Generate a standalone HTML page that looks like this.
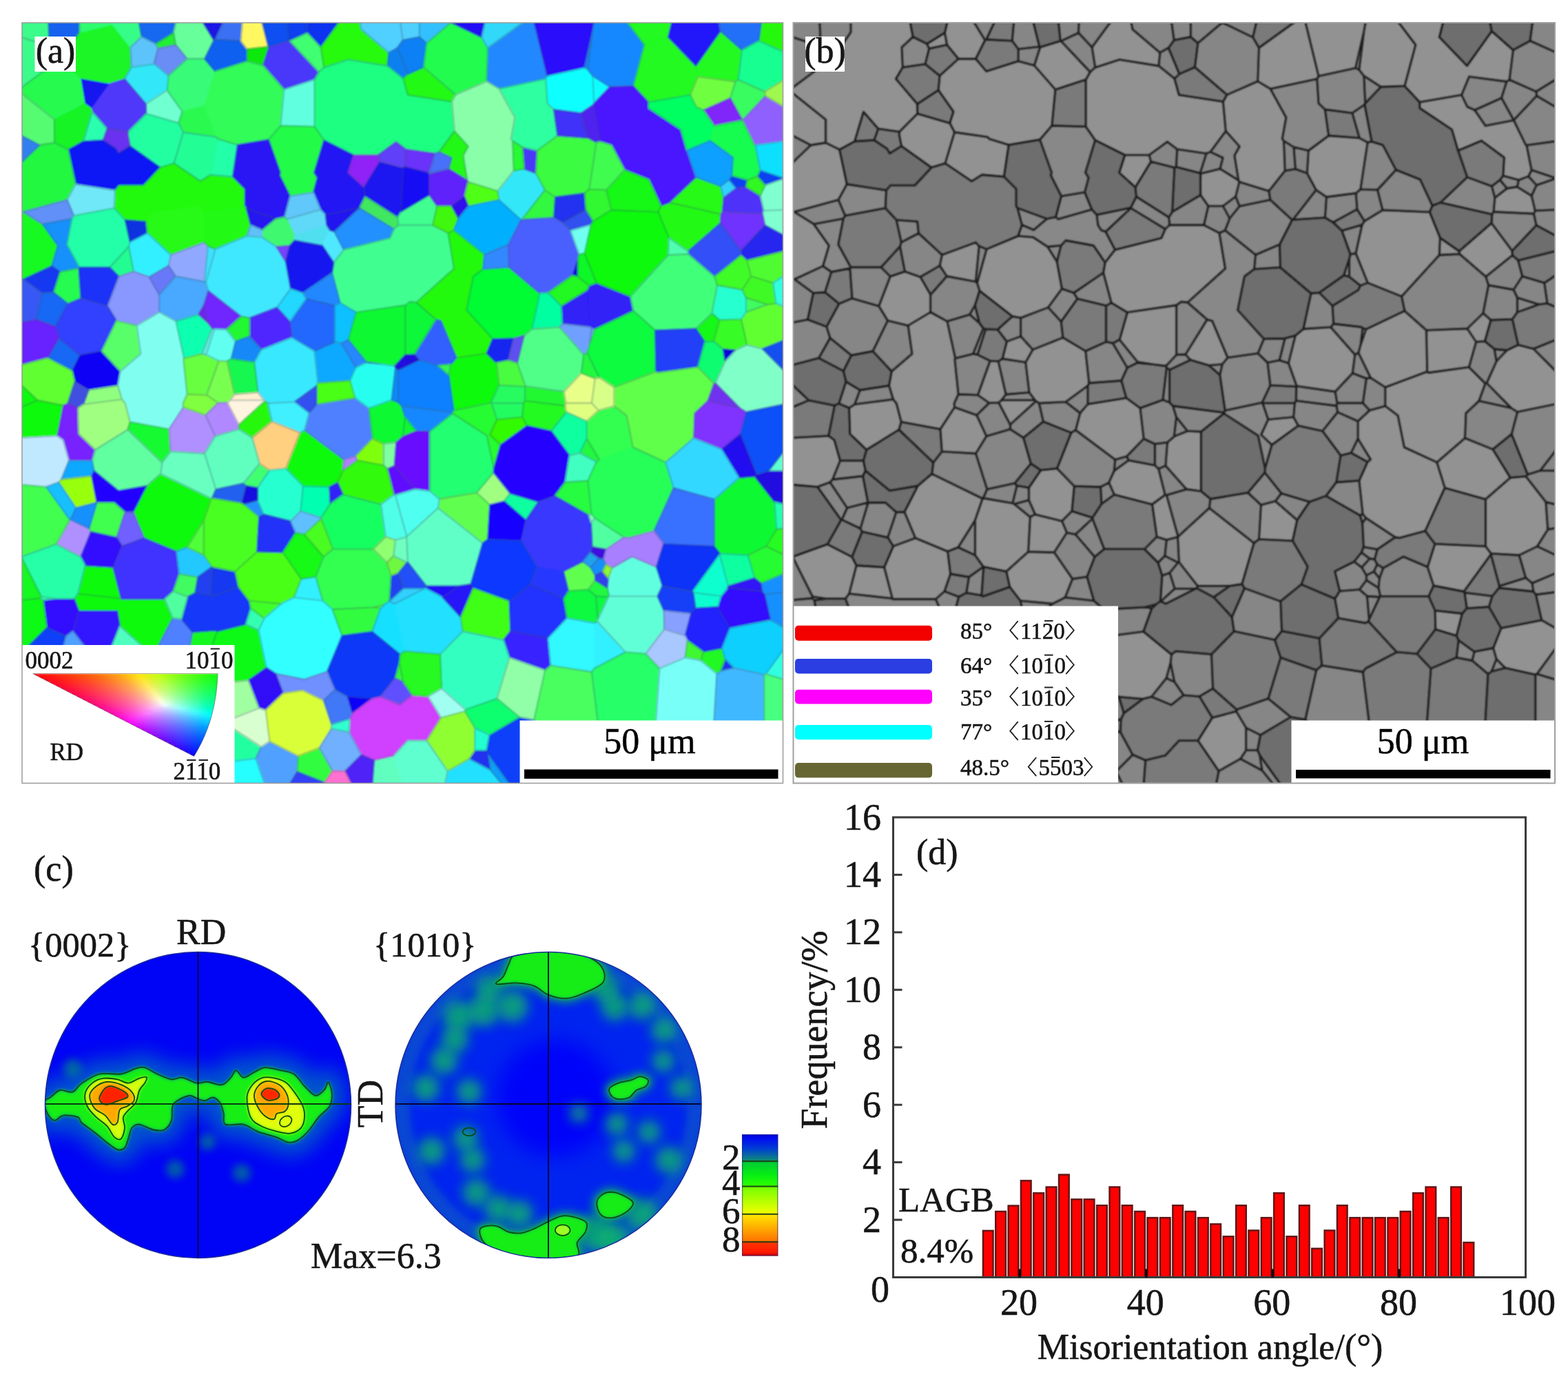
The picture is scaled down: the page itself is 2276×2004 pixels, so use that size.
<!DOCTYPE html>
<html><head><meta charset="utf-8"><title>EBSD figure</title>
<style>
html,body{margin:0;padding:0;background:#fff;}
body{width:2276px;height:2004px;overflow:hidden;}
svg{display:block;filter:blur(0.75px);}
text{font-family:"Liberation Serif","Noto Serif CJK SC",serif;fill:#161616;stroke:#161616;stroke-width:0.55px;}
</style></head><body>
<svg width="2276" height="2004" viewBox="0 0 2276 2004">
<defs>
<clipPath id="clipA"><rect x="32" y="33" width="1104.5" height="1103.5"/></clipPath>
<clipPath id="clipB"><rect x="1151.5" y="33" width="1105.5" height="1103.5"/></clipPath>
<filter id="soft" x="0" y="0" width="100%" height="100%"><feGaussianBlur stdDeviation="1.1"/></filter>
<clipPath id="ipfclip"><path d="M47.5,977.5 L316.0,977.5 Q314.0,1045.5 281.5,1097.5 Z"/></clipPath>
<linearGradient id="ig0" gradientUnits="userSpaceOnUse" x1="48.4" y1="0" x2="322.0" y2="0"><stop offset="0.000" stop-color="#ff0007"/><stop offset="0.111" stop-color="#ff2108"/><stop offset="0.222" stop-color="#ff4309"/><stop offset="0.333" stop-color="#ff6a0a"/><stop offset="0.444" stop-color="#ff9c0b"/><stop offset="0.556" stop-color="#ffe30e"/><stop offset="0.667" stop-color="#c2ff0d"/><stop offset="0.778" stop-color="#78ff0c"/><stop offset="0.889" stop-color="#38ff0b"/><stop offset="1.000" stop-color="#00ff0a"/></linearGradient>
<linearGradient id="ig1" gradientUnits="userSpaceOnUse" x1="56.2" y1="0" x2="322.0" y2="0"><stop offset="0.000" stop-color="#ff0011"/><stop offset="0.111" stop-color="#ff2113"/><stop offset="0.222" stop-color="#ff4316"/><stop offset="0.333" stop-color="#ff6b18"/><stop offset="0.444" stop-color="#ff9e1d"/><stop offset="0.556" stop-color="#ffe522"/><stop offset="0.667" stop-color="#bfff21"/><stop offset="0.778" stop-color="#75ff1d"/><stop offset="0.889" stop-color="#35ff1a"/><stop offset="1.000" stop-color="#00ff18"/></linearGradient>
<linearGradient id="ig2" gradientUnits="userSpaceOnUse" x1="64.0" y1="0" x2="322.0" y2="0"><stop offset="0.000" stop-color="#ff001b"/><stop offset="0.111" stop-color="#ff211e"/><stop offset="0.222" stop-color="#ff4321"/><stop offset="0.333" stop-color="#ff6b26"/><stop offset="0.444" stop-color="#ff9f2c"/><stop offset="0.556" stop-color="#ffe736"/><stop offset="0.667" stop-color="#bdff33"/><stop offset="0.778" stop-color="#73ff2d"/><stop offset="0.889" stop-color="#32ff28"/><stop offset="1.000" stop-color="#00ff25"/></linearGradient>
<linearGradient id="ig3" gradientUnits="userSpaceOnUse" x1="71.8" y1="0" x2="322.0" y2="0"><stop offset="0.000" stop-color="#ff0024"/><stop offset="0.111" stop-color="#ff2128"/><stop offset="0.222" stop-color="#ff432d"/><stop offset="0.333" stop-color="#ff6c33"/><stop offset="0.444" stop-color="#ffa03c"/><stop offset="0.556" stop-color="#ffe949"/><stop offset="0.667" stop-color="#baff45"/><stop offset="0.778" stop-color="#70ff3d"/><stop offset="0.889" stop-color="#2fff36"/><stop offset="1.000" stop-color="#00ff31"/></linearGradient>
<linearGradient id="ig4" gradientUnits="userSpaceOnUse" x1="79.6" y1="0" x2="322.0" y2="0"><stop offset="0.000" stop-color="#ff002e"/><stop offset="0.111" stop-color="#ff2133"/><stop offset="0.222" stop-color="#ff4439"/><stop offset="0.333" stop-color="#ff6d41"/><stop offset="0.444" stop-color="#ffa14c"/><stop offset="0.556" stop-color="#ffec5c"/><stop offset="0.667" stop-color="#b7ff56"/><stop offset="0.778" stop-color="#6dff4c"/><stop offset="0.889" stop-color="#2cff44"/><stop offset="1.000" stop-color="#00ff3e"/></linearGradient>
<linearGradient id="ig5" gradientUnits="userSpaceOnUse" x1="87.4" y1="0" x2="322.0" y2="0"><stop offset="0.000" stop-color="#ff0038"/><stop offset="0.111" stop-color="#ff213e"/><stop offset="0.222" stop-color="#ff4445"/><stop offset="0.333" stop-color="#ff6d4f"/><stop offset="0.444" stop-color="#ffa35c"/><stop offset="0.556" stop-color="#ffef71"/><stop offset="0.667" stop-color="#b4ff68"/><stop offset="0.778" stop-color="#6aff5c"/><stop offset="0.889" stop-color="#29ff52"/><stop offset="1.000" stop-color="#00ff4b"/></linearGradient>
<linearGradient id="ig6" gradientUnits="userSpaceOnUse" x1="95.2" y1="0" x2="322.0" y2="0"><stop offset="0.000" stop-color="#ff0042"/><stop offset="0.111" stop-color="#ff2149"/><stop offset="0.222" stop-color="#ff4552"/><stop offset="0.333" stop-color="#ff6e5d"/><stop offset="0.444" stop-color="#ffa56e"/><stop offset="0.556" stop-color="#fff287"/><stop offset="0.667" stop-color="#b0ff7a"/><stop offset="0.778" stop-color="#66ff6c"/><stop offset="0.889" stop-color="#25ff61"/><stop offset="1.000" stop-color="#00ff58"/></linearGradient>
<linearGradient id="ig7" gradientUnits="userSpaceOnUse" x1="103.0" y1="0" x2="322.0" y2="0"><stop offset="0.000" stop-color="#ff004c"/><stop offset="0.111" stop-color="#ff2155"/><stop offset="0.222" stop-color="#ff455f"/><stop offset="0.333" stop-color="#ff6f6d"/><stop offset="0.444" stop-color="#ffa680"/><stop offset="0.556" stop-color="#fff69e"/><stop offset="0.667" stop-color="#acff8d"/><stop offset="0.778" stop-color="#63ff7c"/><stop offset="0.889" stop-color="#20ff6f"/><stop offset="1.000" stop-color="#00ff65"/></linearGradient>
<linearGradient id="ig8" gradientUnits="userSpaceOnUse" x1="110.8" y1="0" x2="322.0" y2="0"><stop offset="0.000" stop-color="#ff0058"/><stop offset="0.111" stop-color="#ff2261"/><stop offset="0.222" stop-color="#ff466d"/><stop offset="0.333" stop-color="#ff707d"/><stop offset="0.444" stop-color="#ffa894"/><stop offset="0.556" stop-color="#fffab6"/><stop offset="0.667" stop-color="#a8ffa0"/><stop offset="0.778" stop-color="#5fff8d"/><stop offset="0.889" stop-color="#1cff7f"/><stop offset="1.000" stop-color="#00ff73"/></linearGradient>
<linearGradient id="ig9" gradientUnits="userSpaceOnUse" x1="118.6" y1="0" x2="322.0" y2="0"><stop offset="0.000" stop-color="#ff0063"/><stop offset="0.111" stop-color="#ff226e"/><stop offset="0.222" stop-color="#ff467c"/><stop offset="0.333" stop-color="#ff718f"/><stop offset="0.444" stop-color="#ffaba9"/><stop offset="0.556" stop-color="#fffed1"/><stop offset="0.667" stop-color="#a4ffb5"/><stop offset="0.778" stop-color="#5aff9f"/><stop offset="0.889" stop-color="#16ff8f"/><stop offset="1.000" stop-color="#00ff82"/></linearGradient>
<linearGradient id="ig10" gradientUnits="userSpaceOnUse" x1="126.4" y1="0" x2="322.0" y2="0"><stop offset="0.000" stop-color="#ff0070"/><stop offset="0.111" stop-color="#ff227c"/><stop offset="0.222" stop-color="#ff478c"/><stop offset="0.333" stop-color="#ff73a1"/><stop offset="0.444" stop-color="#ffadc0"/><stop offset="0.556" stop-color="#fbffeb"/><stop offset="0.667" stop-color="#9fffca"/><stop offset="0.778" stop-color="#56ffb2"/><stop offset="0.889" stop-color="#10ffa0"/><stop offset="1.000" stop-color="#00ff91"/></linearGradient>
<linearGradient id="ig11" gradientUnits="userSpaceOnUse" x1="134.2" y1="0" x2="322.0" y2="0"><stop offset="0.000" stop-color="#ff007d"/><stop offset="0.111" stop-color="#ff228b"/><stop offset="0.222" stop-color="#ff479d"/><stop offset="0.333" stop-color="#ff74b6"/><stop offset="0.444" stop-color="#ffb0d9"/><stop offset="0.556" stop-color="#f0f9ff"/><stop offset="0.667" stop-color="#9affe1"/><stop offset="0.778" stop-color="#50ffc6"/><stop offset="0.889" stop-color="#09ffb2"/><stop offset="1.000" stop-color="#00ffa1"/></linearGradient>
<linearGradient id="ig12" gradientUnits="userSpaceOnUse" x1="142.0" y1="0" x2="322.0" y2="0"><stop offset="0.000" stop-color="#ff008c"/><stop offset="0.111" stop-color="#ff229c"/><stop offset="0.222" stop-color="#ff48b0"/><stop offset="0.333" stop-color="#ff76cc"/><stop offset="0.444" stop-color="#ffb3f4"/><stop offset="0.556" stop-color="#d3e1ff"/><stop offset="0.667" stop-color="#94fff9"/><stop offset="0.778" stop-color="#4bffdb"/><stop offset="0.889" stop-color="#00ffc5"/><stop offset="1.000" stop-color="#00ffb3"/></linearGradient>
<linearGradient id="ig13" gradientUnits="userSpaceOnUse" x1="149.8" y1="0" x2="322.0" y2="0"><stop offset="0.000" stop-color="#ff009c"/><stop offset="0.111" stop-color="#ff22ae"/><stop offset="0.222" stop-color="#ff49c5"/><stop offset="0.333" stop-color="#ff78e5"/><stop offset="0.444" stop-color="#ecaaff"/><stop offset="0.556" stop-color="#baccff"/><stop offset="0.667" stop-color="#84edff"/><stop offset="0.778" stop-color="#44fff2"/><stop offset="0.889" stop-color="#00ffd9"/><stop offset="1.000" stop-color="#00ffc5"/></linearGradient>
<linearGradient id="ig14" gradientUnits="userSpaceOnUse" x1="157.6" y1="0" x2="322.0" y2="0"><stop offset="0.000" stop-color="#ff00ad"/><stop offset="0.111" stop-color="#ff23c2"/><stop offset="0.222" stop-color="#ff4adc"/><stop offset="0.333" stop-color="#fe79ff"/><stop offset="0.444" stop-color="#d29aff"/><stop offset="0.556" stop-color="#a4b9ff"/><stop offset="0.667" stop-color="#72d8ff"/><stop offset="0.778" stop-color="#3af5ff"/><stop offset="0.889" stop-color="#00ffee"/><stop offset="1.000" stop-color="#00ffd8"/></linearGradient>
<linearGradient id="ig15" gradientUnits="userSpaceOnUse" x1="165.4" y1="0" x2="322.0" y2="0"><stop offset="0.000" stop-color="#ff00c1"/><stop offset="0.111" stop-color="#ff23d8"/><stop offset="0.222" stop-color="#ff4bf6"/><stop offset="0.333" stop-color="#e26eff"/><stop offset="0.444" stop-color="#ba8cff"/><stop offset="0.556" stop-color="#90a9ff"/><stop offset="0.667" stop-color="#62c4ff"/><stop offset="0.778" stop-color="#2edfff"/><stop offset="0.889" stop-color="#00f9ff"/><stop offset="1.000" stop-color="#00ffee"/></linearGradient>
<linearGradient id="ig16" gradientUnits="userSpaceOnUse" x1="173.2" y1="0" x2="322.0" y2="0"><stop offset="0.000" stop-color="#ff00d6"/><stop offset="0.111" stop-color="#ff23f0"/><stop offset="0.222" stop-color="#ed47ff"/><stop offset="0.333" stop-color="#c964ff"/><stop offset="0.444" stop-color="#a580ff"/><stop offset="0.556" stop-color="#7e9aff"/><stop offset="0.667" stop-color="#53b3ff"/><stop offset="0.778" stop-color="#22cbff"/><stop offset="0.889" stop-color="#00e3ff"/><stop offset="1.000" stop-color="#00faff"/></linearGradient>
<linearGradient id="ig17" gradientUnits="userSpaceOnUse" x1="181.0" y1="0" x2="322.0" y2="0"><stop offset="0.000" stop-color="#ff00ef"/><stop offset="0.111" stop-color="#f222ff"/><stop offset="0.222" stop-color="#d340ff"/><stop offset="0.333" stop-color="#b35bff"/><stop offset="0.444" stop-color="#9175ff"/><stop offset="0.556" stop-color="#6d8cff"/><stop offset="0.667" stop-color="#46a3ff"/><stop offset="0.778" stop-color="#17baff"/><stop offset="0.889" stop-color="#00cfff"/><stop offset="1.000" stop-color="#00e4ff"/></linearGradient>
<linearGradient id="ig18" gradientUnits="userSpaceOnUse" x1="188.8" y1="0" x2="322.0" y2="0"><stop offset="0.000" stop-color="#f400ff"/><stop offset="0.111" stop-color="#d91eff"/><stop offset="0.222" stop-color="#bc3aff"/><stop offset="0.333" stop-color="#9e53ff"/><stop offset="0.444" stop-color="#7f6aff"/><stop offset="0.556" stop-color="#5e80ff"/><stop offset="0.667" stop-color="#3995ff"/><stop offset="0.778" stop-color="#0ca9ff"/><stop offset="0.889" stop-color="#00bdff"/><stop offset="1.000" stop-color="#00d0ff"/></linearGradient>
<linearGradient id="ig19" gradientUnits="userSpaceOnUse" x1="196.6" y1="0" x2="322.0" y2="0"><stop offset="0.000" stop-color="#da00ff"/><stop offset="0.111" stop-color="#c11cff"/><stop offset="0.222" stop-color="#a635ff"/><stop offset="0.333" stop-color="#8b4cff"/><stop offset="0.444" stop-color="#6e61ff"/><stop offset="0.556" stop-color="#4f75ff"/><stop offset="0.667" stop-color="#2d88ff"/><stop offset="0.778" stop-color="#009aff"/><stop offset="0.889" stop-color="#00acff"/><stop offset="1.000" stop-color="#00beff"/></linearGradient>
<linearGradient id="ig20" gradientUnits="userSpaceOnUse" x1="204.4" y1="0" x2="322.0" y2="0"><stop offset="0.000" stop-color="#c200ff"/><stop offset="0.111" stop-color="#ab19ff"/><stop offset="0.222" stop-color="#9230ff"/><stop offset="0.333" stop-color="#7945ff"/><stop offset="0.444" stop-color="#5e58ff"/><stop offset="0.556" stop-color="#426aff"/><stop offset="0.667" stop-color="#217cff"/><stop offset="0.778" stop-color="#008dff"/><stop offset="0.889" stop-color="#009dff"/><stop offset="1.000" stop-color="#00adff"/></linearGradient>
<linearGradient id="ig21" gradientUnits="userSpaceOnUse" x1="212.2" y1="0" x2="322.0" y2="0"><stop offset="0.000" stop-color="#ab00ff"/><stop offset="0.111" stop-color="#9616ff"/><stop offset="0.222" stop-color="#802cff"/><stop offset="0.333" stop-color="#683eff"/><stop offset="0.444" stop-color="#5050ff"/><stop offset="0.556" stop-color="#3561ff"/><stop offset="0.667" stop-color="#1571ff"/><stop offset="0.778" stop-color="#0080ff"/><stop offset="0.889" stop-color="#008fff"/><stop offset="1.000" stop-color="#009eff"/></linearGradient>
<linearGradient id="ig22" gradientUnits="userSpaceOnUse" x1="220.0" y1="0" x2="322.0" y2="0"><stop offset="0.000" stop-color="#9600ff"/><stop offset="0.111" stop-color="#8214ff"/><stop offset="0.222" stop-color="#6e27ff"/><stop offset="0.333" stop-color="#5838ff"/><stop offset="0.444" stop-color="#4148ff"/><stop offset="0.556" stop-color="#2858ff"/><stop offset="0.667" stop-color="#0966ff"/><stop offset="0.778" stop-color="#0074ff"/><stop offset="0.889" stop-color="#0082ff"/><stop offset="1.000" stop-color="#008fff"/></linearGradient>
<linearGradient id="ig23" gradientUnits="userSpaceOnUse" x1="227.8" y1="0" x2="322.0" y2="0"><stop offset="0.000" stop-color="#8200ff"/><stop offset="0.111" stop-color="#7011ff"/><stop offset="0.222" stop-color="#5d23ff"/><stop offset="0.333" stop-color="#4933ff"/><stop offset="0.444" stop-color="#3441ff"/><stop offset="0.556" stop-color="#1c4fff"/><stop offset="0.667" stop-color="#005cff"/><stop offset="0.778" stop-color="#0069ff"/><stop offset="0.889" stop-color="#0075ff"/><stop offset="1.000" stop-color="#0081ff"/></linearGradient>
<linearGradient id="ig24" gradientUnits="userSpaceOnUse" x1="235.6" y1="0" x2="322.0" y2="0"><stop offset="0.000" stop-color="#6f00ff"/><stop offset="0.111" stop-color="#5e0fff"/><stop offset="0.222" stop-color="#4d1fff"/><stop offset="0.333" stop-color="#3a2eff"/><stop offset="0.444" stop-color="#263bff"/><stop offset="0.556" stop-color="#0f47ff"/><stop offset="0.667" stop-color="#0053ff"/><stop offset="0.778" stop-color="#005eff"/><stop offset="0.889" stop-color="#006aff"/><stop offset="1.000" stop-color="#0074ff"/></linearGradient>
<linearGradient id="ig25" gradientUnits="userSpaceOnUse" x1="243.4" y1="0" x2="322.0" y2="0"><stop offset="0.000" stop-color="#5c00ff"/><stop offset="0.111" stop-color="#4d0dff"/><stop offset="0.222" stop-color="#3d1cff"/><stop offset="0.333" stop-color="#2c29ff"/><stop offset="0.444" stop-color="#1934ff"/><stop offset="0.556" stop-color="#003fff"/><stop offset="0.667" stop-color="#004aff"/><stop offset="0.778" stop-color="#0054ff"/><stop offset="0.889" stop-color="#005eff"/><stop offset="1.000" stop-color="#0068ff"/></linearGradient>
<linearGradient id="ig26" gradientUnits="userSpaceOnUse" x1="251.2" y1="0" x2="322.0" y2="0"><stop offset="0.000" stop-color="#4a00ff"/><stop offset="0.111" stop-color="#3c0bff"/><stop offset="0.222" stop-color="#2e18ff"/><stop offset="0.333" stop-color="#1d24ff"/><stop offset="0.444" stop-color="#0a2eff"/><stop offset="0.556" stop-color="#0038ff"/><stop offset="0.667" stop-color="#0042ff"/><stop offset="0.778" stop-color="#004bff"/><stop offset="0.889" stop-color="#0054ff"/><stop offset="1.000" stop-color="#005dff"/></linearGradient>
<linearGradient id="ig27" gradientUnits="userSpaceOnUse" x1="259.0" y1="0" x2="322.0" y2="0"><stop offset="0.000" stop-color="#3900ff"/><stop offset="0.111" stop-color="#2c09ff"/><stop offset="0.222" stop-color="#1e15ff"/><stop offset="0.333" stop-color="#0e1fff"/><stop offset="0.444" stop-color="#0028ff"/><stop offset="0.556" stop-color="#0031ff"/><stop offset="0.667" stop-color="#003aff"/><stop offset="0.778" stop-color="#0042ff"/><stop offset="0.889" stop-color="#004aff"/><stop offset="1.000" stop-color="#0052ff"/></linearGradient>
<linearGradient id="ig28" gradientUnits="userSpaceOnUse" x1="266.8" y1="0" x2="322.0" y2="0"><stop offset="0.000" stop-color="#2700ff"/><stop offset="0.111" stop-color="#1b07ff"/><stop offset="0.222" stop-color="#0d12ff"/><stop offset="0.333" stop-color="#001bff"/><stop offset="0.444" stop-color="#0023ff"/><stop offset="0.556" stop-color="#002bff"/><stop offset="0.667" stop-color="#0032ff"/><stop offset="0.778" stop-color="#0039ff"/><stop offset="0.889" stop-color="#0040ff"/><stop offset="1.000" stop-color="#0047ff"/></linearGradient>
<linearGradient id="ig29" gradientUnits="userSpaceOnUse" x1="274.6" y1="0" x2="322.0" y2="0"><stop offset="0.000" stop-color="#1400ff"/><stop offset="0.111" stop-color="#0806ff"/><stop offset="0.222" stop-color="#000fff"/><stop offset="0.333" stop-color="#0016ff"/><stop offset="0.444" stop-color="#001eff"/><stop offset="0.556" stop-color="#0024ff"/><stop offset="0.667" stop-color="#002bff"/><stop offset="0.778" stop-color="#0031ff"/><stop offset="0.889" stop-color="#0037ff"/><stop offset="1.000" stop-color="#003dff"/></linearGradient>
<linearGradient id="ipfbase" gradientUnits="userSpaceOnUse" x1="48" y1="978" x2="316" y2="978">
 <stop offset="0" stop-color="#ff0000"/><stop offset="0.3" stop-color="#ff2020"/><stop offset="0.6" stop-color="#ffb060"/><stop offset="0.75" stop-color="#ffffc0"/><stop offset="1" stop-color="#ffffff"/>
</linearGradient>
<radialGradient id="ipfred" gradientUnits="userSpaceOnUse" cx="48" cy="978" r="200">
 <stop offset="0" stop-color="#ff0000" stop-opacity="1"/><stop offset="0.45" stop-color="#ff0000" stop-opacity="0.9"/><stop offset="1" stop-color="#ff0000" stop-opacity="0"/>
</radialGradient>
<radialGradient id="ipfblue" gradientUnits="userSpaceOnUse" cx="280" cy="1098" r="150">
 <stop offset="0" stop-color="#1000ff" stop-opacity="1"/><stop offset="0.35" stop-color="#2000ff" stop-opacity="0.95"/><stop offset="0.7" stop-color="#c020ff" stop-opacity="0.5"/><stop offset="1" stop-color="#ff00ff" stop-opacity="0"/>
</radialGradient>
<radialGradient id="ipfgreen" gradientUnits="userSpaceOnUse" cx="316" cy="978" r="185">
 <stop offset="0" stop-color="#00ff00" stop-opacity="1"/><stop offset="0.3" stop-color="#20ff20" stop-opacity="0.95"/><stop offset="0.7" stop-color="#c0ff20" stop-opacity="0.5"/><stop offset="1" stop-color="#ffff00" stop-opacity="0"/>
</radialGradient>
<radialGradient id="ipfwhite" gradientUnits="userSpaceOnUse" cx="232" cy="1018" r="40">
 <stop offset="0" stop-color="#ffffff" stop-opacity="0.9"/><stop offset="1" stop-color="#ffffff" stop-opacity="0"/>
</radialGradient>
<linearGradient id="cbar" gradientUnits="userSpaceOnUse" x1="0" y1="1646.2" x2="0" y2="1822.5">
 <stop offset="0" stop-color="#0000d8"/>
 <stop offset="0.04" stop-color="#0010f0"/>
 <stop offset="0.12" stop-color="#0040d0"/>
 <stop offset="0.2212" stop-color="#109070"/>
 <stop offset="0.2213" stop-color="#00c838"/>
 <stop offset="0.34" stop-color="#08f010"/>
 <stop offset="0.4277" stop-color="#30ff00"/>
 <stop offset="0.4278" stop-color="#70ff00"/>
 <stop offset="0.6557" stop-color="#f4ff00"/>
 <stop offset="0.6558" stop-color="#ffe800"/>
 <stop offset="0.8843" stop-color="#ff7000"/>
 <stop offset="0.8844" stop-color="#ff3800"/>
 <stop offset="0.97" stop-color="#ff1800"/>
 <stop offset="1" stop-color="#c00000"/>
</linearGradient>


<clipPath id="pf1clip"><circle cx="287.5" cy="1603.5" r="222"/></clipPath>
<clipPath id="pf2clip"><circle cx="796" cy="1603.5" r="222"/></clipPath>
<filter id="b2" x="-20%" y="-20%" width="140%" height="140%"><feGaussianBlur stdDeviation="1.6"/></filter>
<filter id="b3" x="-20%" y="-20%" width="140%" height="140%"><feGaussianBlur stdDeviation="2.6"/></filter>
<filter id="b6" x="-50%" y="-50%" width="200%" height="200%"><feGaussianBlur stdDeviation="6"/></filter>
<filter id="b9" x="-80%" y="-80%" width="260%" height="260%"><feGaussianBlur stdDeviation="9"/></filter>
<filter id="b14" x="-50%" y="-50%" width="200%" height="200%"><feGaussianBlur stdDeviation="14"/></filter>

</defs>
<rect width="2276" height="2004" fill="#fff"/>
<g clip-path="url(#clipA)">
<rect x="32.0" y="33.0" width="1104.5" height="1103.5" fill="#30e070"/>
<g filter="url(#soft)" stroke-width="1.2" stroke-linejoin="round">
<path d="M26.0,27.0L70.1,27.0L71.7,67.1L26.0,52.5ZM26.0,131.1L26.0,52.5L71.7,67.1L86.4,85.8Z" fill="#3bfb8b" stroke="#3bfb8b"/>
<path d="M70.1,27.0L115.5,27.0L115.5,46.8L88.7,85.9L86.4,85.8L71.7,67.1Z" fill="#1262ee" stroke="#1262ee"/>
<path d="M115.5,46.8L163.2,35.7L189.4,68.8L190.8,97.7L180.9,114.5L157.7,121.9L116.9,114.7L88.7,85.9Z" fill="#1cf528" stroke="#1cf528"/>
<path d="M115.5,27.0L165.3,27.0L163.2,35.7L115.5,46.8Z" fill="#2dfc70" stroke="#2dfc70"/>
<path d="M165.3,27.0L200.7,27.0L205.6,53.5L189.4,68.8L163.2,35.7Z" fill="#35fd88" stroke="#35fd88"/>
<path d="M200.7,27.0L256.7,27.0L251.9,47.7L226.0,63.7L205.6,53.5Z" fill="#1268f0" stroke="#1268f0"/>
<path d="M256.7,27.0L291.1,27.0L310.3,58.4L296.8,85.4L271.7,85.4L255.1,65.1L251.9,47.7Z" fill="#66ff99" stroke="#66ff99"/>
<path d="M255.1,65.1L229.2,70.4L226.0,63.7L251.9,47.7Z" fill="#20f030" stroke="#20f030"/>
<path d="M226.0,63.7L229.2,70.4L223.5,93.0L190.8,97.7L189.4,68.8L205.6,53.5Z" fill="#5cc4fa" stroke="#5cc4fa"/>
<path d="M244.6,109.9L223.5,93.0L229.2,70.4L255.1,65.1L271.7,85.4Z" fill="#6a8cf5" stroke="#6a8cf5"/>
<path d="M242.6,130.8L212.0,150.8L180.9,114.5L190.8,97.7L223.5,93.0L244.6,109.9ZM790.8,275.7L757.4,318.7L756.1,319.1L724.3,290.0L722.3,277.3L745.7,247.8L760.9,245.3L777.8,251.4Z" fill="#30e8f8" stroke="#30e8f8"/>
<path d="M212.0,150.8L242.6,130.8L264.5,161.9L259.2,178.7L212.3,164.9Z" fill="#70ffd0" stroke="#70ffd0"/>
<path d="M186.1,191.2L155.3,186.8L133.9,162.4L132.1,157.1L157.7,121.9L180.9,114.5L212.0,150.8L212.3,164.9Z" fill="#5038fa" stroke="#5038fa"/>
<path d="M157.7,121.9L132.1,157.1L123.0,150.6L116.9,114.7Z" fill="#1414f0" stroke="#1414f0"/>
<path d="M116.9,114.7L123.0,150.6L79.0,173.5L26.0,131.1L26.0,131.1L86.4,85.8L88.7,85.9Z" fill="#25fa50" stroke="#25fa50"/>
<path d="M57.5,210.6L26.0,194.2L26.0,131.1L79.0,173.5L79.0,207.1Z" fill="#55fb70" stroke="#55fb70"/>
<path d="M133.9,162.4L121.1,205.1L99.1,217.2L79.0,207.1L79.0,173.5L123.0,150.6L132.1,157.1Z" fill="#18f428" stroke="#18f428"/>
<path d="M296.6,153.4L264.5,161.9L242.6,130.8L244.6,109.9L271.7,85.4L296.8,85.4L312.2,103.5Z" fill="#38fc78" stroke="#38fc78"/>
<path d="M313.6,198.7L266.0,191.9L259.2,178.7L264.5,161.9L296.6,153.4Z" fill="#2afa50" stroke="#2afa50"/>
<path d="M232.6,243.1L189.0,212.0L185.6,194.9L186.1,191.2L212.3,164.9L259.2,178.7L266.0,191.9L252.5,237.0ZM231.6,1048.0L324.1,1048.0L379.2,1083.7L371.2,1100.7L160.7,1126.0Z" fill="#20ffa0" stroke="#20ffa0"/>
<path d="M317.0,201.8L305.9,253.6L290.9,263.0L252.5,237.0L266.0,191.9L313.6,198.7Z" fill="#20fd95" stroke="#20fd95"/>
<path d="M155.3,186.8L149.4,203.4L121.1,205.1L133.9,162.4Z" fill="#2cffb0" stroke="#2cffb0"/>
<path d="M185.6,194.9L168.1,215.9L149.4,203.4L155.3,186.8L186.1,191.2ZM189.0,212.0L171.9,222.6L168.1,215.9L185.6,194.9Z" fill="#6a30f0" stroke="#6a30f0"/>
<path d="M121.1,205.1L149.4,203.4L168.1,215.9L171.9,222.6L173.1,269.0L166.9,276.1L109.8,267.4L99.1,217.2ZM171.9,222.6L189.0,212.0L232.6,243.1L208.5,269.0L173.1,269.0Z" fill="#0a14f5" stroke="#0a14f5"/>
<path d="M97.5,289.9L33.4,307.5L26.0,306.3L26.0,240.7L57.5,210.6L79.0,207.1L99.1,217.2L109.8,267.4Z" fill="#22f840" stroke="#22f840"/>
<path d="M26.0,240.7L26.0,194.2L57.5,210.6Z" fill="#3080f0" stroke="#3080f0"/>
<path d="M288.7,299.0L219.5,310.2L208.5,269.0L232.6,243.1L252.5,237.0L290.9,263.0ZM208.5,269.0L219.5,310.2L212.1,321.5L181.6,319.2L165.7,302.0L166.9,276.1L173.1,269.0ZM355.5,299.3L295.8,310.4L288.7,299.0L290.9,263.0L305.9,253.6L337.8,256.4L355.5,274.1Z" fill="#20fa10" stroke="#20fa10"/>
<path d="M107.2,313.0L97.5,289.9L109.8,267.4L166.9,276.1L165.7,302.0Z" fill="#70e8f8" stroke="#70e8f8"/>
<path d="M83.8,356.4L75.0,386.1L33.8,405.2L26.0,404.6L26.0,306.3L33.4,307.5L61.7,325.2Z" fill="#18fa20" stroke="#18fa20"/>
<path d="M104.6,317.3L61.7,325.2L33.4,307.5L97.5,289.9L107.2,313.0Z" fill="#6090f8" stroke="#6090f8"/>
<path d="M97.3,354.8L83.8,356.4L61.7,325.2L104.6,317.3ZM87.3,394.6L75.0,386.1L83.8,356.4L97.3,354.8L115.4,387.9L114.3,389.4Z" fill="#1890fa" stroke="#1890fa"/>
<path d="M186.9,357.7L159.4,387.9L115.4,387.9L97.3,354.8L104.6,317.3L107.2,313.0L165.7,302.0L181.6,319.2L188.8,351.6ZM344.7,210.2L337.8,256.4L305.9,253.6L317.0,201.8Z" fill="#20ffa8" stroke="#20ffa8"/>
<path d="M213.9,338.5L188.8,351.6L181.6,319.2L212.1,321.5Z" fill="#1030e0" stroke="#1030e0"/>
<path d="M247.9,369.9L213.9,338.5L212.1,321.5L219.5,310.2L288.7,299.0L295.8,310.4L296.6,351.9ZM1045.9,270.3L1050.4,287.0L1048.5,307.4L1046.4,310.9L971.6,293.9L1010.2,257.1Z" fill="#28fa18" stroke="#28fa18"/>
<path d="M244.6,385.5L216.5,401.9L193.9,393.9L186.9,357.7L188.8,351.6L213.9,338.5L247.9,369.9ZM468.3,871.7L426.6,867.0L437.2,840.1L458.3,837.0ZM862.7,970.0L862.7,904.1L866.8,901.6L907.9,946.3Z" fill="#30f0ff" stroke="#30f0ff"/>
<path d="M186.9,357.7L193.9,393.9L172.7,401.2L159.4,387.9Z" fill="#20fc90" stroke="#20fc90"/>
<path d="M301.7,357.1L296.8,408.8L254.9,400.9L244.6,385.5L247.9,369.9L296.6,351.9Z" fill="#90a8ff" stroke="#90a8ff"/>
<path d="M312.5,361.6L298.9,410.6L296.8,408.8L301.7,357.1Z" fill="#40e0ff" stroke="#40e0ff"/>
<path d="M87.3,394.6L78.0,424.1L61.0,425.3L33.8,405.2L75.0,386.1ZM346.2,851.7L307.0,865.4L305.3,864.0L308.2,822.6L341.3,829.3Z" fill="#1838f0" stroke="#1838f0"/>
<path d="M98.5,440.7L78.0,424.1L87.3,394.6L114.3,389.4L117.4,432.9Z" fill="#28fc50" stroke="#28fc50"/>
<path d="M117.4,432.9L114.3,389.4L115.4,387.9L159.4,387.9L172.7,401.2L156.2,444.3Z" fill="#1a30f8" stroke="#1a30f8"/>
<path d="M156.2,444.3L172.7,401.2L193.9,393.9L216.5,401.9L231.2,427.6L231.2,453.0L198.6,472.5L169.0,465.3Z" fill="#8898ff" stroke="#8898ff"/>
<path d="M254.9,400.9L231.2,427.6L216.5,401.9L244.6,385.5Z" fill="#6878f8" stroke="#6878f8"/>
<path d="M231.2,427.6L254.9,400.9L296.8,408.8L298.9,410.6L302.4,421.9L295.7,443.2L288.1,456.4L255.4,466.3L231.2,453.0Z" fill="#48a8ff" stroke="#48a8ff"/>
<path d="M61.0,425.3L52.9,463.8L26.0,469.0L26.0,404.6L33.8,405.2Z" fill="#3858f5" stroke="#3858f5"/>
<path d="M52.9,463.8L61.0,425.3L78.0,424.1L98.5,440.7L80.3,474.1ZM116.2,515.6L104.8,538.3L69.0,519.6L85.4,490.5Z" fill="#1868f5" stroke="#1868f5"/>
<path d="M169.0,465.3L147.5,509.6L116.2,515.6L85.4,490.5L80.3,474.1L98.5,440.7L117.4,432.9L156.2,444.3Z" fill="#3040ff" stroke="#3040ff"/>
<path d="M85.4,490.5L69.0,519.6L26.0,530.9L26.0,469.0L52.9,463.8L80.3,474.1Z" fill="#6820ff" stroke="#6820ff"/>
<path d="M171.0,559.6L128.8,566.1L108.5,553.9L104.8,538.3L116.2,515.6L147.5,509.6L174.7,538.9Z" fill="#1000f5" stroke="#1000f5"/>
<path d="M198.6,472.5L204.4,513.4L174.7,538.9L147.5,509.6L169.0,465.3Z" fill="#58ff68" stroke="#58ff68"/>
<path d="M255.4,466.3L267.2,520.1L266.3,521.2L204.4,513.4L198.6,472.5L231.2,453.0ZM265.5,585.6L181.8,585.6L177.0,579.5L171.0,559.6L174.7,538.9L204.4,513.4L266.3,521.2L271.6,572.1ZM245.4,622.8L188.7,612.3L181.8,585.6L265.5,585.6L266.0,591.1Z" fill="#80fff0" stroke="#80fff0"/>
<path d="M307.8,476.4L293.0,513.4L267.2,520.1L255.4,466.3L288.1,456.4L302.1,468.8Z" fill="#10ffb0" stroke="#10ffb0"/>
<path d="M295.7,443.2L302.1,468.8L288.1,456.4Z" fill="#7020f0" stroke="#7020f0"/>
<path d="M54.5,580.9L26.0,554.2L26.0,530.9L69.0,519.6L104.8,538.3L108.5,553.9L98.2,585.6L92.0,588.4ZM1142.5,447.2L1142.5,491.7L1106.4,506.2L1084.2,500.5L1075.8,463.3L1082.9,453.1L1114.2,441.7L1126.5,440.3Z" fill="#60ff30" stroke="#60ff30"/>
<path d="M54.5,580.9L26.0,592.9L26.0,554.2ZM26.0,635.6L26.0,592.9L54.5,580.9L92.0,588.4L83.2,632.5ZM295.8,755.2L271.3,794.3L256.1,800.3L209.2,780.8L193.4,742.9L212.7,705.1L233.2,687.6L306.7,723.5ZM175.8,868.5L113.1,861.5L123.6,820.6L164.0,823.2ZM113.1,861.5L175.8,868.5L176.4,869.4L170.3,886.5L114.4,886.5L107.7,868.7ZM222.2,951.9L173.9,908.4L170.3,886.5L176.4,869.4L238.7,869.4L250.7,896.9ZM499.2,667.0L497.8,683.1L490.1,700.3L478.1,706.6L439.8,705.5L414.9,679.8L435.4,627.9L441.9,624.1ZM720.4,526.3L724.4,559.0L712.5,584.2L658.7,595.8L651.2,544.1L654.7,528.5L662.5,519.0L706.4,512.8Z" fill="#10fa10" stroke="#10fa10"/>
<path d="M177.0,579.5L121.1,586.8L128.8,566.1L171.0,559.6Z" fill="#90ff80" stroke="#90ff80"/>
<path d="M317.6,523.7L299.9,573.2L271.6,572.1L266.3,521.2L267.2,520.1L293.0,513.4L299.4,514.6Z" fill="#68ff40" stroke="#68ff40"/>
<path d="M311.1,477.6L299.4,514.6L293.0,513.4L307.8,476.4Z" fill="#60f0e0" stroke="#60f0e0"/>
<path d="M128.8,566.1L121.1,586.8L113.1,592.0L98.2,585.6L108.5,553.9Z" fill="#4050e0" stroke="#4050e0"/>
<path d="M114.2,629.6L91.5,638.5L83.2,632.5L92.0,588.4L98.2,585.6L113.1,592.0ZM133.8,668.5L100.0,668.5L91.5,638.5L114.2,629.6L138.3,652.7Z" fill="#7820ff" stroke="#7820ff"/>
<path d="M138.3,652.7L114.2,629.6L113.1,592.0L121.1,586.8L177.0,579.5L181.8,585.6L188.7,612.3L185.3,623.5ZM740.4,715.9L731.7,727.3L710.9,732.7L691.9,715.0L716.4,685.8Z" fill="#a0ff80" stroke="#a0ff80"/>
<path d="M235.3,671.3L185.3,623.5L188.7,612.3L245.4,622.8L247.7,655.2Z" fill="#18fa30" stroke="#18fa30"/>
<path d="M298.2,602.4L312.3,633.0L296.9,658.1L247.7,655.2L245.4,622.8L266.0,591.1ZM102.4,754.1L129.4,767.0L131.9,771.6L117.2,808.2L81.6,789.8L101.4,754.5Z" fill="#b090ff" stroke="#b090ff"/>
<path d="M316.4,584.7L298.2,602.4L266.0,591.1L265.5,585.6L271.6,572.1L299.9,573.2Z" fill="#80ff40" stroke="#80ff40"/>
<path d="M26.0,703.0L26.0,635.6L83.2,632.5L91.5,638.5L100.0,668.5L88.9,695.9L85.3,699.8L67.1,706.5Z" fill="#c0e8ff" stroke="#c0e8ff"/>
<path d="M212.7,705.1L171.9,712.0L136.7,683.1L133.8,668.5L138.3,652.7L185.3,623.5L235.3,671.3L233.2,687.6Z" fill="#60ffa0" stroke="#60ffa0"/>
<path d="M247.7,655.2L296.9,658.1L313.3,710.1L307.6,722.9L306.7,723.5L233.2,687.6L235.3,671.3Z" fill="#68ffc0" stroke="#68ffc0"/>
<path d="M133.0,690.9L88.9,695.9L100.0,668.5L133.8,668.5L136.7,683.1ZM495.8,498.1L516.8,533.6L508.2,552.4L461.3,555.9L456.2,509.5L486.0,496.1Z" fill="#10a8ff" stroke="#10a8ff"/>
<path d="M110.2,737.1L85.3,699.8L88.9,695.9L133.0,690.9L140.4,729.2Z" fill="#98ff10" stroke="#98ff10"/>
<path d="M171.9,712.0L165.8,729.4L140.6,729.4L140.4,729.2L133.0,690.9L136.7,683.1ZM193.4,742.9L181.4,743.2L165.8,729.4L171.9,712.0L212.7,705.1Z" fill="#2000ff" stroke="#2000ff"/>
<path d="M26.0,807.4L26.0,703.0L67.1,706.5L101.4,754.5L81.6,789.8L31.0,808.0ZM181.4,743.2L169.2,779.9L131.9,771.6L129.4,767.0L140.6,729.4L165.8,729.4Z" fill="#40ff50" stroke="#40ff50"/>
<path d="M101.4,754.5L67.1,706.5L85.3,699.8L110.2,737.1L102.4,754.1Z" fill="#18c0ff" stroke="#18c0ff"/>
<path d="M140.6,729.4L129.4,767.0L102.4,754.1L110.2,737.1L140.4,729.2ZM1142.5,830.2L1142.5,858.8L1109.9,862.9L1106.3,858.4L1104.5,846.2ZM1142.5,858.8L1142.5,913.8L1118.2,899.9L1109.9,862.9Z" fill="#1890ff" stroke="#1890ff"/>
<path d="M177.2,792.6L169.2,779.9L181.4,743.2L193.4,742.9L209.2,780.8Z" fill="#7060ff" stroke="#7060ff"/>
<path d="M117.2,808.2L131.9,771.6L169.2,779.9L177.2,792.6L164.0,823.2L123.6,820.6ZM95.8,923.3L67.9,910.9L62.7,871.0L79.2,868.7L107.7,868.7L114.4,886.5L105.7,915.8ZM1056.3,853.1L1106.3,858.4L1109.9,862.9L1118.2,899.9L1059.5,911.6L1041.7,880.6L1046.6,865.0Z" fill="#3010ff" stroke="#3010ff"/>
<path d="M260.1,832.9L251.4,858.1L238.7,869.4L176.4,869.4L175.8,868.5L164.0,823.2L177.2,792.6L209.2,780.8L256.1,800.3Z" fill="#4030ff" stroke="#4030ff"/>
<path d="M79.2,868.7L60.0,865.8L31.0,808.0L81.6,789.8L117.2,808.2L123.6,820.6L113.1,861.5L107.7,868.7Z" fill="#28ffa8" stroke="#28ffa8"/>
<path d="M60.0,865.8L59.2,868.1L26.0,871.2L26.0,807.4L31.0,808.0ZM261.5,1013.6L279.4,917.3L312.9,914.8L314.9,916.3L288.5,995.3Z" fill="#18f820" stroke="#18f820"/>
<path d="M307.9,822.5L287.0,837.4L260.1,832.9L256.1,800.3L271.3,794.3L295.8,805.6Z" fill="#20c8ff" stroke="#20c8ff"/>
<path d="M295.8,755.2L295.8,805.6L271.3,794.3Z" fill="#50ff38" stroke="#50ff38"/>
<path d="M287.0,837.4L283.2,860.3L272.2,866.0L251.4,858.1L260.1,832.9ZM1082.9,432.1L1114.2,441.7L1082.9,453.1Z" fill="#40fc60" stroke="#40fc60"/>
<path d="M308.2,822.6L305.3,864.0L283.2,860.3L287.0,837.4L307.9,822.5ZM578.4,831.3L585.7,854.3L565.5,872.6L564.9,872.5L567.4,835.3Z" fill="#2040f0" stroke="#2040f0"/>
<path d="M67.9,910.9L26.0,952.9L26.0,871.2L59.2,868.1L62.7,871.0ZM288.5,995.3L314.9,916.3L356.6,905.9L375.5,914.7L386.7,968.8L360.4,987.3Z" fill="#10fa18" stroke="#10fa18"/>
<path d="M39.0,1142.5L26.0,1142.5L26.0,952.9L67.9,910.9L95.8,923.3ZM862.8,1142.5L742.4,1142.5L709.1,1095.9L705.9,1088.7L710.0,1066.6L754.0,1040.5L775.2,1044.4Z" fill="#1040f8" stroke="#1040f8"/>
<path d="M148.8,971.2L105.7,915.8L114.4,886.5L170.3,886.5L173.9,908.4Z" fill="#3018ff" stroke="#3018ff"/>
<path d="M155.5,1130.7L148.8,971.2L173.9,908.4L222.2,951.9L234.3,1042.6L231.6,1048.0L160.7,1126.0Z" fill="#50ffc0" stroke="#50ffc0"/>
<path d="M146.5,1142.5L39.0,1142.5L95.8,923.3L105.7,915.8L148.8,971.2L155.5,1130.7ZM432.8,1096.9L431.5,1119.7L417.6,1142.5L385.6,1142.5L371.2,1100.7L379.2,1083.7L391.4,1075.7Z" fill="#50a0ff" stroke="#50a0ff"/>
<path d="M222.2,951.9L250.7,896.9L263.4,898.4L279.4,917.3L261.5,1013.6L234.3,1042.6ZM516.1,662.2L499.2,667.0L441.9,624.1L448.3,599.4L459.5,586.5L515.4,577.5L535.5,592.2L540.7,636.7Z" fill="#5080ff" stroke="#5080ff"/>
<path d="M263.4,898.4L272.2,866.0L283.2,860.3L305.3,864.0L307.0,865.4L312.9,914.8L279.4,917.3ZM312.9,914.8L307.0,865.4L346.2,851.7L361.7,871.8L364.0,882.7L356.6,905.9L314.9,916.3Z" fill="#1838f8" stroke="#1838f8"/>
<path d="M251.4,858.1L272.2,866.0L263.4,898.4L250.7,896.9L238.7,869.4ZM905.7,779.6L879.8,797.2L859.8,793.7L858.1,758.8L863.5,751.8Z" fill="#50ffa0" stroke="#50ffa0"/>
<path d="M60.0,865.8L79.2,868.7L62.7,871.0L59.2,868.1ZM356.6,905.9L364.0,882.7L383.6,897.4L375.5,914.7Z" fill="#30ffb0" stroke="#30ffb0"/>
<path d="M291.1,27.0L326.4,27.0L312.1,57.4L310.3,58.4Z" fill="#1a14e6" stroke="#1a14e6"/>
<path d="M326.4,27.0L352.5,27.0L349.7,59.3L312.1,57.4Z" fill="#3a70f5" stroke="#3a70f5"/>
<path d="M296.8,85.4L310.3,58.4L312.1,57.4L349.7,59.3L358.6,71.2L358.6,88.7L312.2,103.5Z" fill="#1060f0" stroke="#1060f0"/>
<path d="M352.5,27.0L379.1,27.0L389.3,67.7L358.6,71.2L349.7,59.3Z" fill="#fff860" stroke="#fff860"/>
<path d="M358.6,88.7L358.6,71.2L389.3,67.7L390.3,68.5L381.8,95.0Z" fill="#10e810" stroke="#10e810"/>
<path d="M379.1,27.0L416.4,27.0L419.7,59.4L390.3,68.5L389.3,67.7Z" fill="#1050f0" stroke="#1050f0"/>
<path d="M416.4,27.0L446.8,27.0L446.0,47.7L420.6,59.6L419.7,59.4ZM1085.0,261.3L1082.7,271.1L1068.1,273.4L1057.7,261.2L1062.3,255.0ZM1103.6,246.8L1139.4,258.7L1110.8,268.7L1099.1,255.9Z" fill="#1040f0" stroke="#1040f0"/>
<path d="M446.8,27.0L496.1,27.0L465.6,68.6L446.0,47.7Z" fill="#1030f0" stroke="#1030f0"/>
<path d="M420.6,59.6L462.9,104.5L456.6,115.6L412.4,130.0L381.8,95.0L390.3,68.5L419.7,59.4ZM777.8,251.4L760.9,245.3L758.4,213.5L779.8,218.6Z" fill="#4838fa" stroke="#4838fa"/>
<path d="M462.9,104.5L420.6,59.6L446.0,47.7L465.6,68.6L470.2,97.9ZM373.9,707.8L356.6,704.8L353.4,701.3L376.8,672.7L391.3,682.3Z" fill="#40ff70" stroke="#40ff70"/>
<path d="M496.1,27.0L521.6,27.0L524.4,42.4L505.5,86.5L470.2,97.9L465.6,68.6ZM524.4,42.4L564.3,76.4L562.4,95.6L505.5,86.5Z" fill="#28fa10" stroke="#28fa10"/>
<path d="M521.6,27.0L580.3,27.0L584.7,58.2L576.6,69.4L564.3,76.4L524.4,42.4ZM580.3,27.0L608.8,27.0L608.8,53.6L584.7,58.2Z" fill="#50d0ff" stroke="#50d0ff"/>
<path d="M576.6,69.4L592.4,107.4L585.3,114.1L562.4,95.6L564.3,76.4Z" fill="#1080f0" stroke="#1080f0"/>
<path d="M313.6,198.7L296.6,153.4L312.2,103.5L358.6,88.7L381.8,95.0L412.4,130.0L407.4,182.4L389.9,202.6L344.7,210.2L317.0,201.8Z" fill="#30fc58" stroke="#30fc58"/>
<path d="M456.6,183.7L407.4,182.4L412.4,130.0L456.6,115.6ZM884.2,865.2L881.4,853.1L882.9,839.1L888.3,824.3L917.5,807.8L952.7,822.8L961.4,849.9L954.3,865.2Z" fill="#60ffe0" stroke="#60ffe0"/>
<path d="M505.5,86.5L562.4,95.6L585.3,114.1L591.9,137.8L574.9,205.7L548.5,225.0L513.3,225.0L470.2,203.4L456.6,183.7L456.6,115.6L462.9,104.5L470.2,97.9ZM591.9,137.8L655.9,147.5L659.7,190.2L637.4,220.4L631.6,222.7L589.1,216.5L574.9,205.7Z" fill="#1cff80" stroke="#1cff80"/>
<path d="M470.2,203.4L456.0,250.4L407.0,250.4L389.9,202.6L407.4,182.4L456.6,183.7ZM455.0,279.0L421.0,284.7L405.7,254.1L407.0,250.4L456.0,250.4L460.6,258.0Z" fill="#22fc48" stroke="#22fc48"/>
<path d="M405.7,254.1L355.5,274.1L337.8,256.4L344.7,210.2L389.9,202.6L407.0,250.4ZM400.2,317.6L357.4,301.9L355.5,299.3L355.5,274.1L405.7,254.1L421.0,284.7L413.0,314.9Z" fill="#2a14f5" stroke="#2a14f5"/>
<path d="M513.3,225.0L505.1,250.6L460.6,258.0L456.0,250.4L470.2,203.4ZM505.1,250.6L528.5,271.8L529.9,285.3L521.8,301.5L472.5,311.8L465.4,304.1L455.0,279.0L460.6,258.0Z" fill="#2414f5" stroke="#2414f5"/>
<path d="M551.2,234.5L528.5,271.8L505.1,250.6L513.3,225.0L548.5,225.0Z" fill="#9020f8" stroke="#9020f8"/>
<path d="M585.3,243.3L582.1,307.3L577.2,315.4L529.9,285.3L528.5,271.8L551.2,234.5Z" fill="#1a14f0" stroke="#1a14f0"/>
<path d="M589.1,216.5L587.8,242.2L585.3,243.3L551.2,234.5L548.5,225.0L574.9,205.7Z" fill="#6040f8" stroke="#6040f8"/>
<path d="M465.4,304.1L416.5,318.1L413.0,314.9L421.0,284.7L455.0,279.0Z" fill="#60c8fa" stroke="#60c8fa"/>
<path d="M529.9,285.3L577.2,315.4L578.2,326.6L571.9,332.4L521.9,302.0L521.8,301.5Z" fill="#40e860" stroke="#40e860"/>
<path d="M363.9,326.3L358.3,342.5L312.5,361.6L301.7,357.1L296.6,351.9L295.8,310.4L355.5,299.3L357.4,301.9ZM655.9,147.5L591.9,137.8L585.3,114.1L592.4,107.4L614.9,97.5L661.4,137.6ZM971.6,293.9L1046.4,310.9L1045.5,323.8L998.6,364.6L970.8,345.1L955.7,307.7L959.6,298.5Z" fill="#20fa18" stroke="#20fa18"/>
<path d="M380.9,333.7L363.9,326.3L357.4,301.9L400.2,317.6Z" fill="#2818f0" stroke="#2818f0"/>
<path d="M416.5,318.1L465.4,304.1L472.5,311.8L474.2,326.5L427.7,342.0Z" fill="#60d8f8" stroke="#60d8f8"/>
<path d="M420.6,356.3L401.1,358.1L379.9,344.2L380.9,333.7L400.2,317.6L413.0,314.9L416.5,318.1L427.7,342.0L427.5,348.9Z" fill="#40f870" stroke="#40f870"/>
<path d="M427.7,342.0L474.2,326.5L479.0,334.1L467.9,356.4L427.5,348.9Z" fill="#50e0f0" stroke="#50e0f0"/>
<path d="M467.9,356.4L479.0,334.1L485.4,336.3L499.0,362.4L484.6,381.0Z" fill="#50e8ff" stroke="#50e8ff"/>
<path d="M358.3,342.5L363.9,326.3L380.9,333.7L379.9,344.2Z" fill="#60c0f8" stroke="#60c0f8"/>
<path d="M521.9,302.0L485.4,336.3L479.0,334.1L474.2,326.5L472.5,311.8L521.8,301.5Z" fill="#2018f0" stroke="#2018f0"/>
<path d="M499.0,362.4L485.4,336.3L521.9,302.0L571.9,332.4L566.3,345.5ZM352.9,731.5L373.9,725.7L383.1,746.4L375.8,750.2Z" fill="#2090ff" stroke="#2090ff"/>
<path d="M493.7,439.4L482.1,395.8L484.6,381.0L499.0,362.4L566.3,345.5L595.1,437.9L588.2,442.9L516.9,453.3ZM577.2,315.4L582.1,307.3L623.1,283.1L634.4,299.0L628.0,326.6L578.2,326.6ZM650.4,338.2L659.0,389.8L604.4,438.9L595.1,437.9L566.3,345.5L571.9,332.4L578.2,326.6L628.0,326.6Z" fill="#40ff90" stroke="#40ff90"/>
<path d="M401.1,358.1L414.7,379.7L421.9,419.0L402.0,446.1L362.2,461.3L350.0,459.1L302.4,421.9L298.9,410.6L312.5,361.6L358.3,342.5L379.9,344.2Z" fill="#40e8ff" stroke="#40e8ff"/>
<path d="M401.1,358.1L420.6,356.3L414.7,379.7Z" fill="#7840ff" stroke="#7840ff"/>
<path d="M482.1,395.8L439.2,425.1L421.9,419.0L414.7,379.7L420.6,356.3L427.5,348.9L467.9,356.4L484.6,381.0Z" fill="#1818f0" stroke="#1818f0"/>
<path d="M493.7,439.4L486.0,443.6L444.4,433.5L439.2,425.1L482.1,395.8ZM766.7,27.0L774.1,27.0L794.5,110.5L792.2,114.5L724.4,128.9L706.2,118.0L707.9,69.4Z" fill="#2088ff" stroke="#2088ff"/>
<path d="M420.7,466.7L444.4,433.5L486.0,443.6L486.0,496.1L456.2,509.5L423.4,489.9Z" fill="#2068ff" stroke="#2068ff"/>
<path d="M439.2,425.1L444.4,433.5L420.7,466.7L402.0,446.1L421.9,419.0Z" fill="#20d8ff" stroke="#20d8ff"/>
<path d="M516.9,453.3L505.6,493.0L495.8,498.1L486.0,496.1L486.0,443.6L493.7,439.4Z" fill="#10c0ff" stroke="#10c0ff"/>
<path d="M588.2,442.9L588.2,514.8L572.9,531.1L554.0,528.7L531.7,525.3L505.6,493.0L516.9,453.3ZM583.0,589.1L588.0,605.4L584.8,633.4L575.0,642.0L556.8,644.3L540.7,636.7L535.5,592.2L568.5,580.3L578.2,584.1ZM1095.3,691.3L1124.3,728.4L1127.2,768.4L1111.9,792.8L1085.6,805.6L1044.8,803.2L1036.8,792.8L1036.8,724.6L1072.8,693.3Z" fill="#10fa30" stroke="#10fa30"/>
<path d="M350.0,459.1L328.6,478.2L311.1,477.6L307.8,476.4L302.1,468.8L295.7,443.2L302.4,421.9Z" fill="#7028ff" stroke="#7028ff"/>
<path d="M379.6,507.4L362.2,488.1L362.2,461.3L402.0,446.1L420.7,466.7L423.4,489.9Z" fill="#5028ff" stroke="#5028ff"/>
<path d="M362.2,488.1L341.9,495.6L328.6,478.2L350.0,459.1L362.2,461.3ZM820.4,588.9L761.7,581.5L762.3,561.0L762.7,560.2L818.6,568.4L821.4,584.9Z" fill="#20f830" stroke="#20f830"/>
<path d="M299.4,514.6L311.1,477.6L328.6,478.2L341.9,495.6L335.6,520.6L329.6,524.3L317.6,523.7Z" fill="#60fff0" stroke="#60fff0"/>
<path d="M369.2,525.8L335.6,520.6L341.9,495.6L362.2,488.1L379.6,507.4Z" fill="#1888f8" stroke="#1888f8"/>
<path d="M459.5,559.8L427.4,583.2L388.8,585.1L384.1,582.2L382.8,580.8L374.5,569.5L369.2,525.8L379.6,507.4L423.4,489.9L456.2,509.5L461.3,555.9Z" fill="#38e8ff" stroke="#38e8ff"/>
<path d="M531.7,525.3L531.1,526.5L516.8,533.6L495.8,498.1L505.6,493.0Z" fill="#2888ff" stroke="#2888ff"/>
<path d="M554.0,528.7L531.1,526.5L531.7,525.3ZM875.8,811.6L868.7,810.6L856.7,801.7L859.8,793.7L879.8,797.2Z" fill="#4010e0" stroke="#4010e0"/>
<path d="M516.8,533.6L531.1,526.5L554.0,528.7L572.9,531.1L573.9,533.6L568.5,580.3L535.5,592.2L515.4,577.5L508.2,552.4Z" fill="#28fff0" stroke="#28fff0"/>
<path d="M578.2,536.6L578.2,584.1L568.5,580.3L573.9,533.6Z" fill="#1088f8" stroke="#1088f8"/>
<path d="M459.5,586.5L459.5,559.8L461.3,555.9L508.2,552.4L515.4,577.5ZM408.4,876.1L361.7,871.8L346.2,851.7L341.3,829.3L373.1,800.6L410.7,801.6L437.2,840.1L426.6,867.0Z" fill="#48ff18" stroke="#48ff18"/>
<path d="M448.3,599.4L427.4,583.2L459.5,559.8L459.5,586.5ZM857.6,326.3L828.3,334.7L815.6,322.7L850.4,303.7L861.1,320.9Z" fill="#3050f0" stroke="#3050f0"/>
<path d="M374.5,569.5L340.6,572.4L329.6,524.3L335.6,520.6L369.2,525.8Z" fill="#18f850" stroke="#18f850"/>
<path d="M299.9,573.2L317.6,523.7L329.6,524.3L340.6,572.4L334.1,580.8L330.2,584.3L316.4,584.7Z" fill="#78ff50" stroke="#78ff50"/>
<path d="M382.8,580.8L334.1,580.8L340.6,572.4L374.5,569.5Z" fill="#fff0d0" stroke="#fff0d0"/>
<path d="M312.3,633.0L298.2,602.4L316.4,584.7L330.2,584.3L346.8,616.1L347.0,622.8Z" fill="#b088ff" stroke="#b088ff"/>
<path d="M334.1,580.8L382.8,580.8L384.1,582.2L346.8,616.1L330.2,584.3Z" fill="#fff4e0" stroke="#fff4e0"/>
<path d="M346.8,616.1L384.1,582.2L388.8,585.1L394.8,611.7L366.1,635.3L347.0,622.8ZM1105.8,27.0L1142.5,27.0L1142.5,77.5L1101.4,59.3Z" fill="#28f810" stroke="#28f810"/>
<path d="M394.8,611.7L388.8,585.1L427.4,583.2L448.3,599.4L441.9,624.1L435.4,627.9Z" fill="#40f0ff" stroke="#40f0ff"/>
<path d="M391.3,682.3L376.8,672.7L366.1,635.3L394.8,611.7L435.4,627.9L414.9,679.8Z" fill="#ffd080" stroke="#ffd080"/>
<path d="M376.8,672.7L353.4,701.3L313.3,710.1L296.9,658.1L312.3,633.0L347.0,622.8L366.1,635.3ZM585.7,1142.5L540.3,1142.5L543.2,1103.2L572.0,1096.3Z" fill="#60ffc0" stroke="#60ffc0"/>
<path d="M556.8,644.3L556.8,675.3L518.6,668.0L516.1,662.2L540.7,636.7Z" fill="#80ff10" stroke="#80ff10"/>
<path d="M575.0,642.0L572.4,675.9L562.2,680.4L556.8,675.3L556.8,644.3Z" fill="#80ffa0" stroke="#80ffa0"/>
<path d="M516.1,662.2L518.6,668.0L497.8,683.1L499.2,667.0Z" fill="#b080ff" stroke="#b080ff"/>
<path d="M571.7,718.1L562.2,680.4L572.4,675.9L602.6,709.9L573.8,718.5Z" fill="#6010ff" stroke="#6010ff"/>
<path d="M497.9,717.8L490.1,700.3L497.8,683.1L518.6,668.0L556.8,675.3L562.2,680.4L571.7,718.1L553.0,731.9Z" fill="#30fa08" stroke="#30fa08"/>
<path d="M383.1,746.4L373.9,725.7L373.9,707.8L391.3,682.3L414.9,679.8L439.8,705.5L436.4,741.7L422.0,756.2ZM1082.9,432.1L1082.9,453.1L1075.8,463.3L1044.6,464.4L1033.3,454.6L1041.1,413.9L1077.5,420.4Z" fill="#28ffd0" stroke="#28ffd0"/>
<path d="M478.1,706.6L479.4,731.3L466.3,751.2L436.4,741.7L439.8,705.5Z" fill="#00ffb0" stroke="#00ffb0"/>
<path d="M479.4,731.3L478.1,706.6L490.1,700.3L497.9,717.8ZM814.6,443.9L852.0,421.0L856.7,474.6L816.2,469.9ZM919.4,451.2L863.3,477.8L858.5,476.2L856.7,474.6L852.0,421.0L855.2,414.4L865.8,410.4L915.0,430.1Z" fill="#3020f8" stroke="#3020f8"/>
<path d="M373.9,725.7L352.9,731.5L350.3,730.2L356.6,704.8L373.9,707.8Z" fill="#1808e0" stroke="#1808e0"/>
<path d="M356.6,704.8L350.3,730.2L307.6,722.9L313.3,710.1L353.4,701.3Z" fill="#2060f0" stroke="#2060f0"/>
<path d="M295.8,805.6L295.8,755.2L306.7,723.5L307.6,722.9L350.3,730.2L352.9,731.5L375.8,750.2L373.1,800.6L341.3,829.3L308.2,822.6L307.9,822.5Z" fill="#48ff20" stroke="#48ff20"/>
<path d="M375.8,750.2L383.1,746.4L422.0,756.2L429.1,772.9L410.7,801.6L373.1,800.6Z" fill="#2030f8" stroke="#2030f8"/>
<path d="M483.3,796.8L466.2,752.6L466.3,751.2L479.4,731.3L497.9,717.8L553.0,731.9L559.7,778.9L541.8,796.8Z" fill="#18ff60" stroke="#18ff60"/>
<path d="M573.8,718.5L590.5,778.7L590.1,779.2L573.8,783.6L559.7,778.9L553.0,731.9L571.7,718.1Z" fill="#50ffe8" stroke="#50ffe8"/>
<path d="M466.2,752.6L441.6,775.5L429.1,772.9L422.0,756.2L436.4,741.7L466.3,751.2Z" fill="#60c0ff" stroke="#60c0ff"/>
<path d="M469.5,808.1L441.6,775.5L466.2,752.6L483.3,796.8Z" fill="#48fc20" stroke="#48fc20"/>
<path d="M410.7,801.6L429.1,772.9L441.6,775.5L469.5,808.1L458.3,837.0L437.2,840.1Z" fill="#18fa18" stroke="#18fa18"/>
<path d="M558.4,877.0L542.5,881.2L482.5,884.4L468.3,871.7L458.3,837.0L469.5,808.1L483.3,796.8L541.8,796.8L561.5,816.5L567.4,835.3L564.9,872.5ZM870.0,666.8L851.6,636.6L851.6,611.2L868.6,595.5L891.3,589.3L909.6,603.0L918.8,649.0Z" fill="#30ff50" stroke="#30ff50"/>
<path d="M573.8,783.6L571.3,806.7L561.5,816.5L541.8,796.8L559.7,778.9Z" fill="#90ff70" stroke="#90ff70"/>
<path d="M571.3,806.7L590.5,816.3L578.4,831.3L567.4,835.3L561.5,816.5Z" fill="#70f840" stroke="#70f840"/>
<path d="M591.9,815.7L590.5,816.3L571.3,806.7L573.8,783.6L590.1,779.2Z" fill="#70ffc0" stroke="#70ffc0"/>
<path d="M383.6,897.4L364.0,882.7L361.7,871.8L408.4,876.1Z" fill="#40ff28" stroke="#40ff28"/>
<path d="M552.4,882.8L542.5,881.2L558.4,877.0Z" fill="#50ff40" stroke="#50ff40"/>
<path d="M441.6,985.9L400.2,977.6L386.7,968.8L375.5,914.7L383.6,897.4L408.4,876.1L426.6,867.0L468.3,871.7L482.5,884.4L496.5,922.3L474.8,974.5Z" fill="#30ffff" stroke="#30ffff"/>
<path d="M482.5,884.4L542.5,881.2L552.4,882.8L540.2,916.5L496.5,922.3ZM471.1,1135.5L431.5,1119.7L432.8,1096.9L463.7,1085.1L482.6,1118.7Z" fill="#30fc40" stroke="#30fc40"/>
<path d="M572.7,876.2L587.3,945.0L580.9,949.8L540.2,916.5L552.4,882.8L558.4,877.0L564.9,872.5L565.5,872.6Z" fill="#18e0ff" stroke="#18e0ff"/>
<path d="M579.6,961.9L573.5,984.1L552.0,1011.0L539.5,1014.2L504.7,1011.3L486.0,1001.0L474.8,974.5L496.5,922.3L540.2,916.5L580.9,949.8Z" fill="#1038f8" stroke="#1038f8"/>
<path d="M579.6,961.9L585.3,989.6L573.5,984.1ZM757.4,318.7L790.8,275.7L805.9,285.9L803.9,315.8Z" fill="#30f840" stroke="#30f840"/>
<path d="M441.6,985.9L438.8,1001.9L410.9,1006.1L400.2,977.6ZM486.0,1001.0L469.7,1016.5L438.8,1001.9L441.6,985.9L474.8,974.5Z" fill="#7090ff" stroke="#7090ff"/>
<path d="M400.2,977.6L410.9,1006.1L385.7,1030.5L375.8,1027.7L360.4,987.3L386.7,968.8Z" fill="#3010f8" stroke="#3010f8"/>
<path d="M288.5,995.3L360.4,987.3L375.8,1027.7L324.1,1048.0L231.6,1048.0L234.3,1042.6L261.5,1013.6Z" fill="#a0ffa0" stroke="#a0ffa0"/>
<path d="M379.2,1083.7L324.1,1048.0L375.8,1027.7L385.7,1030.5L391.4,1075.7Z" fill="#d8ffd0" stroke="#d8ffd0"/>
<path d="M391.4,1075.7L385.7,1030.5L410.9,1006.1L438.8,1001.9L469.7,1016.5L481.4,1051.6L480.9,1057.5L463.7,1085.1L432.8,1096.9Z" fill="#d8ff38" stroke="#d8ff38"/>
<path d="M504.7,1011.3L511.8,1034.9L507.7,1043.6L481.4,1051.6L469.7,1016.5L486.0,1001.0Z" fill="#4078f8" stroke="#4078f8"/>
<path d="M539.5,1014.2L511.8,1034.9L504.7,1011.3Z" fill="#1000f8" stroke="#1000f8"/>
<path d="M552.0,1011.0L573.5,984.1L585.3,989.6L598.5,1008.7L580.5,1022.9Z" fill="#6050ff" stroke="#6050ff"/>
<path d="M524.6,1095.3L506.8,1062.4L507.7,1043.6L511.8,1034.9L539.5,1014.2L552.0,1011.0L580.5,1022.9L591.7,1074.8L572.0,1096.3L543.2,1103.2ZM580.5,1022.9L598.5,1008.7L621.5,1010.7L640.2,1041.5L619.4,1074.8L591.7,1074.8Z" fill="#d040ff" stroke="#d040ff"/>
<path d="M480.9,1057.5L506.8,1062.4L524.6,1095.3L500.6,1119.3L482.6,1118.7L463.7,1085.1Z" fill="#70b0ff" stroke="#70b0ff"/>
<path d="M506.8,1062.4L480.9,1057.5L481.4,1051.6L507.7,1043.6Z" fill="#30ffd0" stroke="#30ffd0"/>
<path d="M385.6,1142.5L146.5,1142.5L155.5,1130.7L160.7,1126.0L371.2,1100.7Z" fill="#28ffff" stroke="#28ffff"/>
<path d="M470.7,1142.5L417.6,1142.5L431.5,1119.7L471.1,1135.5Z" fill="#3040f8" stroke="#3040f8"/>
<path d="M543.2,1103.2L540.3,1142.5L512.2,1142.5L500.6,1119.3L524.6,1095.3Z" fill="#5020f8" stroke="#5020f8"/>
<path d="M512.2,1142.5L470.7,1142.5L471.1,1135.5L482.6,1118.7L500.6,1119.3Z" fill="#ff70d0" stroke="#ff70d0"/>
<path d="M608.8,27.0L654.1,27.0L654.6,32.7L619.3,62.6L608.8,53.6Z" fill="#30c0ff" stroke="#30c0ff"/>
<path d="M592.4,107.4L576.6,69.4L584.7,58.2L608.8,53.6L619.3,62.6L614.9,97.5Z" fill="#1080f5" stroke="#1080f5"/>
<path d="M654.6,32.7L699.1,54.2L707.9,69.4L706.2,118.0L661.4,137.6L614.9,97.5L619.3,62.6Z" fill="#20fc50" stroke="#20fc50"/>
<path d="M654.1,27.0L705.4,27.0L699.1,54.2L654.6,32.7Z" fill="#2010f5" stroke="#2010f5"/>
<path d="M705.4,27.0L766.7,27.0L707.9,69.4L699.1,54.2Z" fill="#30d8f8" stroke="#30d8f8"/>
<path d="M774.1,27.0L863.6,27.0L860.2,46.2L848.1,98.7L794.5,110.5Z" fill="#2a10fa" stroke="#2a10fa"/>
<path d="M860.2,46.2L853.3,101.2L848.1,98.7Z" fill="#1880f8" stroke="#1880f8"/>
<path d="M848.1,98.7L853.3,101.2L860.3,110.2L862.2,149.9L861.3,151.8L843.4,164.0L803.8,158.9L794.5,150.0L792.2,114.5L794.5,110.5ZM884.9,126.1L862.2,149.9L860.3,110.2Z" fill="#10ffff" stroke="#10ffff"/>
<path d="M724.4,128.9L792.2,114.5L794.5,150.0L747.4,170.6ZM803.8,158.9L809.1,196.9L779.8,218.6L758.4,213.5L744.0,204.5L741.7,201.5L747.4,170.6L794.5,150.0Z" fill="#2dffa0" stroke="#2dffa0"/>
<path d="M724.4,128.9L747.4,170.6L741.7,201.5L679.7,212.5L659.7,190.2L655.9,147.5L661.4,137.6L706.2,118.0ZM744.0,204.5L745.7,247.8L722.3,277.3L679.4,264.0L678.2,261.6L672.4,225.7L679.7,212.5L741.7,201.5Z" fill="#88ffa8" stroke="#88ffa8"/>
<path d="M672.4,225.7L655.6,229.0L637.4,220.4L659.7,190.2L679.7,212.5ZM678.2,261.6L651.4,244.9L655.6,229.0L672.4,225.7Z" fill="#20f818" stroke="#20f818"/>
<path d="M631.6,222.7L622.6,251.2L587.8,242.2L589.1,216.5Z" fill="#6a30fa" stroke="#6a30fa"/>
<path d="M623.1,283.1L582.1,307.3L585.3,243.3L587.8,242.2L622.6,251.2L623.1,251.9Z" fill="#1810f5" stroke="#1810f5"/>
<path d="M651.4,244.9L678.2,261.6L679.4,264.0L674.1,285.2L655.7,299.0L634.4,299.0L623.1,283.1L623.1,251.9Z" fill="#6020fa" stroke="#6020fa"/>
<path d="M655.6,229.0L651.4,244.9L623.1,251.9L622.6,251.2L631.6,222.7L637.4,220.4Z" fill="#4a70f8" stroke="#4a70f8"/>
<path d="M724.3,290.0L679.7,299.3L674.1,285.2L679.4,264.0L722.3,277.3Z" fill="#50ff18" stroke="#50ff18"/>
<path d="M758.4,213.5L760.9,245.3L745.7,247.8L744.0,204.5Z" fill="#28fa30" stroke="#28fa30"/>
<path d="M865.6,206.6L855.3,274.7L848.7,280.4L805.9,285.9L790.8,275.7L777.8,251.4L779.8,218.6L809.1,196.9L853.8,200.3Z" fill="#3afc40" stroke="#3afc40"/>
<path d="M843.4,164.0L853.8,200.3L809.1,196.9L803.8,158.9Z" fill="#4030f8" stroke="#4030f8"/>
<path d="M853.8,200.3L843.4,164.0L861.3,151.8L871.6,205.5L865.6,206.6Z" fill="#5020f0" stroke="#5020f0"/>
<path d="M848.7,280.4L850.4,303.7L815.6,322.7L803.9,315.8L805.9,285.9ZM709.1,1095.9L712.5,1118.0L681.0,1101.2L689.2,1088.7L705.9,1088.7ZM1045.7,974.2L1052.6,956.4L1065.5,969.3Z" fill="#2030f0" stroke="#2030f0"/>
<path d="M655.7,299.0L665.4,317.0L658.8,334.3L650.4,338.2L628.0,326.6L634.4,299.0Z" fill="#40f810" stroke="#40f810"/>
<path d="M665.4,317.0L655.7,299.0L674.1,285.2L679.7,299.3Z" fill="#3010f0" stroke="#3010f0"/>
<path d="M679.7,299.3L724.3,290.0L756.1,319.1L738.0,354.7L703.0,369.7L658.8,334.3L665.4,317.0Z" fill="#00b0ff" stroke="#00b0ff"/>
<path d="M658.8,334.3L703.0,369.7L701.1,390.5L686.9,401.1L659.0,389.8L650.4,338.2ZM604.4,438.9L659.0,389.8L686.9,401.1L677.1,450.0L640.1,465.7L632.7,463.7ZM715.1,491.8L706.4,512.8L662.5,519.0L640.1,465.7L677.1,450.0Z" fill="#20fa08" stroke="#20fa08"/>
<path d="M783.5,425.7L772.4,477.4L760.8,486.9L745.6,491.1L715.1,491.8L677.1,450.0L686.9,401.1L701.1,390.5L738.8,388.0Z" fill="#00fc30" stroke="#00fc30"/>
<path d="M701.1,390.5L703.0,369.7L738.0,354.7L738.8,388.0Z" fill="#3088ff" stroke="#3088ff"/>
<path d="M838.9,376.2L831.1,399.6L795.5,424.8L783.5,425.7L738.8,388.0L738.0,354.7L756.1,319.1L757.4,318.7L803.9,315.8L815.6,322.7L828.3,334.7L840.6,369.0Z" fill="#4860ff" stroke="#4860ff"/>
<path d="M848.5,367.6L840.6,369.0L828.3,334.7L857.6,326.3Z" fill="#70fff0" stroke="#70fff0"/>
<path d="M838.9,376.2L838.9,401.6L831.1,399.6Z" fill="#1010e0" stroke="#1010e0"/>
<path d="M855.2,414.4L838.9,401.6L838.9,376.2L840.6,369.0L848.5,367.6L865.8,410.4Z" fill="#10f828" stroke="#10f828"/>
<path d="M852.0,421.0L814.6,443.9L795.5,424.8L831.1,399.6L838.9,401.6L855.2,414.4ZM1052.6,956.4L1045.7,974.2L1040.4,978.0L1017.4,958.6L1020.6,945.7L1048.0,940.4Z" fill="#20f820" stroke="#20f820"/>
<path d="M795.5,424.8L814.6,443.9L816.2,469.9L812.1,474.8L772.4,477.4L783.5,425.7Z" fill="#00ffa0" stroke="#00ffa0"/>
<path d="M858.5,476.2L855.5,500.4L852.4,512.0L847.2,514.7L812.1,474.8L816.2,469.9L856.7,474.6ZM863.3,477.8L855.5,500.4L858.5,476.2Z" fill="#70a0ff" stroke="#70a0ff"/>
<path d="M750.8,527.0L760.8,486.9L772.4,477.4L812.1,474.8L847.2,514.7L843.8,541.5L818.6,568.4L762.7,560.2Z" fill="#50ff88" stroke="#50ff88"/>
<path d="M745.6,491.1L737.7,522.8L720.4,526.3L706.4,512.8L715.1,491.8Z" fill="#1828f0" stroke="#1828f0"/>
<path d="M760.8,486.9L750.8,527.0L737.7,522.8L745.6,491.1Z" fill="#6050f0" stroke="#6050f0"/>
<path d="M654.7,528.5L635.3,530.3L608.4,522.3L601.3,514.4L632.7,463.7L640.1,465.7L662.5,519.0Z" fill="#3060ff" stroke="#3060ff"/>
<path d="M632.7,463.7L601.3,514.4L588.2,514.8L588.2,442.9L595.1,437.9L604.4,438.9Z" fill="#10f838" stroke="#10f838"/>
<path d="M635.3,530.3L651.2,544.1L658.7,595.8L657.1,598.8L583.0,589.1L578.2,584.1L578.2,536.6L608.4,522.3Z" fill="#1080ff" stroke="#1080ff"/>
<path d="M651.2,544.1L635.3,530.3L654.7,528.5Z" fill="#30f850" stroke="#30f850"/>
<path d="M601.3,514.4L608.4,522.3L578.2,536.6L573.9,533.6L572.9,531.1L588.2,514.8ZM1142.5,683.0L1142.5,733.1L1124.3,728.4L1095.3,691.3L1098.0,688.6L1116.1,683.0Z" fill="#2010e0" stroke="#2010e0"/>
<path d="M762.3,561.0L724.4,559.0L720.4,526.3L737.7,522.8L750.8,527.0L762.7,560.2Z" fill="#48fc40" stroke="#48fc40"/>
<path d="M759.9,585.0L713.3,585.0L712.5,584.2L724.4,559.0L762.3,561.0L761.7,581.5Z" fill="#28fc60" stroke="#28fc60"/>
<path d="M863.8,549.3L858.8,584.9L821.4,584.9L818.6,568.4L843.8,541.5Z" fill="#e8ff88" stroke="#e8ff88"/>
<path d="M863.8,549.3L843.8,541.5L847.2,514.7L852.4,512.0L869.9,548.1ZM851.6,636.6L870.0,666.8L865.6,670.3L841.6,657.2ZM863.8,841.9L881.4,853.1L884.2,865.2L883.1,866.4L864.9,865.1L853.8,855.5Z" fill="#20f840" stroke="#20f840"/>
<path d="M604.1,625.5L588.0,605.4L583.0,589.1L657.1,598.8L657.0,600.0L623.8,626.4ZM863.6,27.0L906.4,27.0L935.3,65.1L919.4,124.8L884.9,126.1L860.3,110.2L853.3,101.2L860.2,46.2Z" fill="#1888ff" stroke="#1888ff"/>
<path d="M584.8,633.4L588.0,605.4L604.1,625.5Z" fill="#10f830" stroke="#10f830"/>
<path d="M602.6,709.9L572.4,675.9L575.0,642.0L584.8,633.4L604.1,625.5L623.8,626.4L623.8,712.7Z" fill="#6808ff" stroke="#6808ff"/>
<path d="M706.7,632.2L716.8,679.7L716.4,685.8L691.9,715.0L637.5,724.1L623.8,712.7L623.8,626.4L657.0,600.0Z" fill="#20ff70" stroke="#20ff70"/>
<path d="M712.5,584.2L713.3,585.0L721.3,608.8L711.1,630.9L706.7,632.2L657.0,600.0L657.1,598.8L658.7,595.8ZM711.1,630.9L726.6,645.6L716.8,679.7L706.7,632.2ZM1142.5,807.4L1142.5,830.2L1104.5,846.2L1095.2,838.6L1085.6,805.6L1111.9,792.8Z" fill="#28fc30" stroke="#28fc30"/>
<path d="M713.3,585.0L759.9,585.0L758.1,605.2L721.3,608.8Z" fill="#20fc60" stroke="#20fc60"/>
<path d="M726.6,645.6L711.1,630.9L721.3,608.8L758.1,605.2L765.0,617.8Z" fill="#30fa00" stroke="#30fa00"/>
<path d="M761.7,581.5L820.4,588.9L822.1,598.1L800.2,625.5L765.0,617.8L758.1,605.2L759.9,585.0ZM935.3,65.1L969.8,53.9L1010.0,95.6L1013.0,111.2L1002.0,137.7L941.3,148.3L919.4,124.8ZM1067.4,118.4L1013.0,111.2L1010.0,95.6L1045.8,45.2L1076.9,72.7L1071.5,115.8ZM906.4,27.0L976.6,27.0L969.8,53.9L935.3,65.1Z" fill="#20fa20" stroke="#20fa20"/>
<path d="M821.4,584.9L858.8,584.9L868.6,595.5L851.6,611.2L822.1,598.1L820.4,588.9Z" fill="#e0ff80" stroke="#e0ff80"/>
<path d="M851.6,636.6L841.6,657.2L826.5,660.9L800.2,625.5L822.1,598.1L851.6,611.2ZM763.3,754.7L731.7,727.3L740.4,715.9L781.3,728.3ZM1085.6,805.6L1095.2,838.6L1056.9,850.6L1044.6,804.5L1044.8,803.2Z" fill="#10ffa0" stroke="#10ffa0"/>
<path d="M740.4,715.9L716.4,685.8L716.8,679.7L726.6,645.6L765.0,617.8L800.2,625.5L826.5,660.9L820.2,699.9L805.3,719.6L781.3,728.3Z" fill="#2800ff" stroke="#2800ff"/>
<path d="M841.6,657.2L865.6,670.3L853.4,697.5L820.2,699.9L826.5,660.9Z" fill="#40ffc0" stroke="#40ffc0"/>
<path d="M820.2,699.9L853.4,697.5L858.6,746.0L854.6,747.8L805.3,719.6Z" fill="#28fc40" stroke="#28fc40"/>
<path d="M710.9,732.7L708.0,782.5L700.6,788.1L635.8,737.2L637.5,724.1L691.9,715.0ZM863.8,841.9L853.8,855.5L825.2,857.7L818.1,829.1L846.1,815.0L857.1,823.4L863.8,834.9Z" fill="#60ff50" stroke="#60ff50"/>
<path d="M708.0,782.5L710.9,732.7L731.7,727.3L763.3,754.7L756.8,784.8Z" fill="#1800ff" stroke="#1800ff"/>
<path d="M854.6,747.8L858.1,758.8L859.8,793.7L856.7,801.7L846.1,815.0L818.1,829.1L778.7,822.4L756.8,784.8L763.3,754.7L781.3,728.3L805.3,719.6Z" fill="#3838ff" stroke="#3838ff"/>
<path d="M818.1,829.1L825.2,857.7L818.2,868.7L769.5,848.1L778.7,822.4Z" fill="#2838ff" stroke="#2838ff"/>
<path d="M590.5,778.7L573.8,718.5L602.6,709.9L623.8,712.7L637.5,724.1L635.8,737.2Z" fill="#50fff0" stroke="#50fff0"/>
<path d="M635.8,737.2L700.6,788.1L683.3,847.6L665.5,850.3L618.9,850.3L591.9,815.7L590.1,779.2L590.5,778.7Z" fill="#60ffc8" stroke="#60ffc8"/>
<path d="M739.3,872.6L687.0,853.6L683.3,847.6L700.6,788.1L708.0,782.5L756.8,784.8L778.7,822.4L769.5,848.1Z" fill="#0838ff" stroke="#0838ff"/>
<path d="M665.5,850.3L642.2,866.6L617.8,853.6L618.9,850.3Z" fill="#2010f8" stroke="#2010f8"/>
<path d="M615.7,854.3L585.7,854.3L578.4,831.3L590.5,816.3L591.9,815.7L618.9,850.3L617.8,853.6Z" fill="#2050f8" stroke="#2050f8"/>
<path d="M565.5,872.6L585.7,854.3L615.7,854.3L572.7,876.2ZM1057.7,261.2L1068.1,273.4L1050.4,287.0L1045.9,270.3Z" fill="#30d0ff" stroke="#30d0ff"/>
<path d="M863.5,751.8L858.1,758.8L854.6,747.8L858.6,746.0Z" fill="#80ffc0" stroke="#80ffc0"/>
<path d="M868.7,810.6L857.1,823.4L846.1,815.0L856.7,801.7Z" fill="#20a0f0" stroke="#20a0f0"/>
<path d="M587.3,945.0L572.7,876.2L615.7,854.3L617.8,853.6L642.2,866.6L668.7,895.5L671.7,916.1L639.0,949.5ZM732.3,1142.5L644.9,1142.5L649.6,1118.9L681.0,1101.2L712.5,1118.0Z" fill="#20e0ff" stroke="#20e0ff"/>
<path d="M668.7,895.5L642.2,866.6L665.5,850.3L683.3,847.6L687.0,853.6Z" fill="#2818f8" stroke="#2818f8"/>
<path d="M668.7,895.5L687.0,853.6L739.3,872.6L741.0,915.7L730.9,928.6L671.7,916.1Z" fill="#40ff18" stroke="#40ff18"/>
<path d="M769.5,848.1L818.2,868.7L823.1,897.0L795.5,926.3L741.0,915.7L739.3,872.6Z" fill="#2030ff" stroke="#2030ff"/>
<path d="M864.9,865.1L867.8,898.9L866.8,901.6L862.7,904.1L823.1,897.0L818.2,868.7L825.2,857.7L853.8,855.5ZM867.8,898.9L864.9,865.1L883.1,866.4Z" fill="#10fa40" stroke="#10fa40"/>
<path d="M791.2,972.6L739.4,954.3L730.9,928.6L741.0,915.7L795.5,926.3L799.3,965.8Z" fill="#3820ff" stroke="#3820ff"/>
<path d="M862.7,904.1L862.7,970.0L858.8,975.1L799.3,965.8L795.5,926.3L823.1,897.0Z" fill="#30f8ff" stroke="#30f8ff"/>
<path d="M739.4,954.3L721.4,1013.8L675.6,1029.7L641.0,999.2L639.0,949.5L671.7,916.1L730.9,928.6Z" fill="#30ffc0" stroke="#30ffc0"/>
<path d="M641.0,999.2L621.5,1010.7L598.5,1008.7L585.3,989.6L579.6,961.9L580.9,949.8L587.3,945.0L639.0,949.5Z" fill="#28fa20" stroke="#28fa20"/>
<path d="M754.0,1040.5L721.4,1013.8L739.4,954.3L791.2,972.6L775.2,1044.4Z" fill="#90ffa8" stroke="#90ffa8"/>
<path d="M879.4,1142.5L862.8,1142.5L775.2,1044.4L791.2,972.6L799.3,965.8L858.8,975.1Z" fill="#48ff60" stroke="#48ff60"/>
<path d="M675.0,1032.3L640.2,1041.5L621.5,1010.7L641.0,999.2L675.6,1029.7Z" fill="#a0fff0" stroke="#a0fff0"/>
<path d="M689.2,1056.2L689.2,1088.7L681.0,1101.2L649.6,1118.9L619.4,1074.8L640.2,1041.5L675.0,1032.3Z" fill="#90ff30" stroke="#90ff30"/>
<path d="M754.0,1040.5L710.0,1066.6L689.2,1056.2L675.0,1032.3L675.6,1029.7L721.4,1013.8Z" fill="#10ff70" stroke="#10ff70"/>
<path d="M705.9,1088.7L689.2,1088.7L689.2,1056.2L710.0,1066.6Z" fill="#20ffd0" stroke="#20ffd0"/>
<path d="M644.9,1142.5L585.7,1142.5L572.0,1096.3L591.7,1074.8L619.4,1074.8L649.6,1118.9ZM1142.5,648.9L1142.5,683.0L1116.1,683.0Z" fill="#60ffd0" stroke="#60ffd0"/>
<path d="M742.4,1142.5L732.3,1142.5L712.5,1118.0L709.1,1095.9Z" fill="#10a0f8" stroke="#10a0f8"/>
<path d="M976.6,27.0L1042.3,27.0L1045.8,45.2L1010.0,95.6L969.8,53.9Z" fill="#2418fa" stroke="#2418fa"/>
<path d="M1042.3,27.0L1105.8,27.0L1101.4,59.3L1076.9,72.7L1045.8,45.2Z" fill="#2070f8" stroke="#2070f8"/>
<path d="M1101.4,59.3L1142.5,77.5L1142.5,113.0L1110.3,132.9L1071.5,115.8L1076.9,72.7Z" fill="#18ff90" stroke="#18ff90"/>
<path d="M1013.0,111.2L1067.4,118.4L1060.0,142.2L1021.1,159.7L1010.4,155.0L1002.0,137.7Z" fill="#70ff40" stroke="#70ff40"/>
<path d="M1110.3,132.9L1111.0,139.2L1077.7,174.3L1060.0,142.2L1067.4,118.4L1071.5,115.8Z" fill="#38fc60" stroke="#38fc60"/>
<path d="M1021.1,159.7L1060.0,142.2L1077.7,174.3L1077.7,174.4L1036.7,182.6Z" fill="#8028fa" stroke="#8028fa"/>
<path d="M1111.0,139.2L1142.5,157.7L1142.5,204.5L1096.4,210.7L1095.0,210.0L1077.7,174.4L1077.7,174.3Z" fill="#9060ff" stroke="#9060ff"/>
<path d="M1142.5,113.0L1142.5,157.7L1111.0,139.2L1110.3,132.9Z" fill="#a0f850" stroke="#a0f850"/>
<path d="M941.3,156.9L887.7,210.5L871.6,205.5L861.3,151.8L862.2,149.9L884.9,126.1L919.4,124.8L941.3,148.3ZM941.3,156.9L988.0,188.0L996.8,218.4L941.9,260.5L906.8,246.5L887.7,210.5ZM997.0,218.5L1010.2,257.1L971.6,293.9L959.6,298.5L941.9,260.5L996.8,218.4Z" fill="#4818ff" stroke="#4818ff"/>
<path d="M1010.4,155.0L988.0,188.0L941.3,156.9L941.3,148.3L1002.0,137.7ZM1021.1,159.7L1036.7,182.6L1030.9,204.2L997.0,218.5L996.8,218.4L988.0,188.0L1010.4,155.0Z" fill="#00ff60" stroke="#00ff60"/>
<path d="M1095.0,210.0L1063.9,228.6L1030.9,204.2L1036.7,182.6L1077.7,174.4ZM1096.4,210.7L1103.6,246.8L1099.1,255.9L1085.0,261.3L1062.3,255.0L1063.9,228.6L1095.0,210.0Z" fill="#18fc50" stroke="#18fc50"/>
<path d="M1030.9,204.2L1063.9,228.6L1062.3,255.0L1057.7,261.2L1045.9,270.3L1010.2,257.1L997.0,218.5Z" fill="#10a0ff" stroke="#10a0ff"/>
<path d="M1142.5,204.5L1142.5,258.6L1139.4,258.7L1103.6,246.8L1096.4,210.7Z" fill="#10e0ff" stroke="#10e0ff"/>
<path d="M887.4,304.9L880.0,275.5L906.8,246.5L941.9,260.5L959.6,298.5L955.7,307.7ZM1033.3,454.6L1044.6,464.4L1035.8,495.2L1023.1,496.1L1010.3,476.9Z" fill="#18f818" stroke="#18f818"/>
<path d="M906.8,246.5L880.0,275.5L855.3,274.7L865.6,206.6L871.6,205.5L887.7,210.5Z" fill="#40fc50" stroke="#40fc50"/>
<path d="M861.1,320.9L850.4,303.7L848.7,280.4L855.3,274.7L880.0,275.5L887.4,304.9Z" fill="#30f830" stroke="#30f830"/>
<path d="M1106.8,310.1L1048.5,307.4L1050.4,287.0L1068.1,273.4L1082.7,271.1L1103.6,284.1L1108.8,305.8Z" fill="#5030fa" stroke="#5030fa"/>
<path d="M1142.5,258.6L1142.5,304.2L1108.8,305.8L1103.6,284.1L1110.8,268.7L1139.4,258.7ZM1142.5,304.2L1142.5,344.1L1110.5,326.8L1106.8,310.1L1108.8,305.8Z" fill="#80ffd0" stroke="#80ffd0"/>
<path d="M1103.6,284.1L1082.7,271.1L1085.0,261.3L1099.1,255.9L1110.8,268.7Z" fill="#30f820" stroke="#30f820"/>
<path d="M970.8,345.1L969.7,370.1L915.0,430.1L865.8,410.4L848.5,367.6L857.6,326.3L861.1,320.9L887.4,304.9L955.7,307.7Z" fill="#08fa10" stroke="#08fa10"/>
<path d="M1048.5,307.4L1106.8,310.1L1110.5,326.8L1075.4,364.1L1045.5,323.8L1046.4,310.9Z" fill="#7030ff" stroke="#7030ff"/>
<path d="M1142.5,344.1L1142.5,363.3L1084.1,377.9L1075.8,370.5L1075.4,364.1L1110.5,326.8Z" fill="#2828f0" stroke="#2828f0"/>
<path d="M1075.8,370.5L1037.2,401.4L999.0,368.6L998.6,364.6L1045.5,323.8L1075.4,364.1Z" fill="#3050f8" stroke="#3050f8"/>
<path d="M970.8,345.1L998.6,364.6L999.0,368.6L969.7,370.1Z" fill="#50ffb0" stroke="#50ffb0"/>
<path d="M969.7,370.1L999.0,368.6L1037.2,401.4L1041.1,413.9L1033.3,454.6L1010.3,476.9L950.9,479.2L919.4,451.2L915.0,430.1Z" fill="#40ff78" stroke="#40ff78"/>
<path d="M1084.1,377.9L1090.2,400.9L1077.5,420.4L1041.1,413.9L1037.2,401.4L1075.8,370.5Z" fill="#40fc28" stroke="#40fc28"/>
<path d="M1142.5,363.3L1142.5,396.9L1122.2,410.6L1090.2,400.9L1084.1,377.9Z" fill="#50fc30" stroke="#50fc30"/>
<path d="M1122.2,410.6L1126.5,440.3L1114.2,441.7L1082.9,432.1L1077.5,420.4L1090.2,400.9Z" fill="#40fa28" stroke="#40fa28"/>
<path d="M1142.5,396.9L1142.5,447.2L1126.5,440.3L1122.2,410.6ZM1142.5,935.4L1142.5,987.4L1111.4,978.1Z" fill="#30ffe0" stroke="#30ffe0"/>
<path d="M1067.7,508.4L1049.6,506.6L1035.8,495.2L1044.6,464.4L1075.8,463.3L1084.2,500.5Z" fill="#38fc28" stroke="#38fc28"/>
<path d="M952.1,539.2L891.3,562.0L869.9,548.1L852.4,512.0L855.5,500.4L863.3,477.8L919.4,451.2L950.9,479.2Z" fill="#10fc40" stroke="#10fc40"/>
<path d="M1010.3,476.9L1023.1,496.1L1012.8,532.8L954.1,540.9L952.1,539.2L950.9,479.2Z" fill="#2040f8" stroke="#2040f8"/>
<path d="M1049.6,506.6L1052.7,524.2L1038.5,555.9L1036.5,556.5L1012.8,532.8L1023.1,496.1L1035.8,495.2Z" fill="#10fc70" stroke="#10fc70"/>
<path d="M1052.7,524.2L1049.6,506.6L1067.7,508.4Z" fill="#1000e0" stroke="#1000e0"/>
<path d="M1142.5,542.3L1142.5,585.5L1083.1,597.8L1073.9,592.0L1038.5,555.9L1052.7,524.2L1067.7,508.4L1084.2,500.5L1106.4,506.2Z" fill="#80ffc8" stroke="#80ffc8"/>
<path d="M1142.5,491.7L1142.5,542.3L1106.4,506.2Z" fill="#1850f0" stroke="#1850f0"/>
<path d="M954.1,540.9L957.8,570.9L909.6,603.0L891.3,589.3L891.3,562.0L952.1,539.2ZM1008.3,599.7L957.8,570.9L954.1,540.9L1012.8,532.8L1036.5,556.5L1027.3,581.7ZM918.8,649.0L909.6,603.0L957.8,570.9L1008.3,599.7L1007.0,635.7L966.2,670.9Z" fill="#60ff48" stroke="#60ff48"/>
<path d="M868.6,595.5L858.8,584.9L863.8,549.3L869.9,548.1L891.3,562.0L891.3,589.3Z" fill="#d8ff88" stroke="#d8ff88"/>
<path d="M1038.5,555.9L1073.9,592.0L1027.3,581.7L1036.5,556.5Z" fill="#7030f0" stroke="#7030f0"/>
<path d="M949.2,770.5L912.1,780.6L905.7,779.6L863.5,751.8L858.6,746.0L853.4,697.5L865.6,670.3L870.0,666.8L918.8,649.0L966.2,670.9L977.7,707.9Z" fill="#28ff58" stroke="#28ff58"/>
<path d="M1027.3,581.7L1073.9,592.0L1083.1,597.8L1074.6,630.0L1047.4,652.1L1007.0,635.7L1008.3,599.7Z" fill="#8030ff" stroke="#8030ff"/>
<path d="M1142.5,585.5L1142.5,648.9L1116.1,683.0L1098.0,688.6L1074.6,630.0L1083.1,597.8Z" fill="#1050f8" stroke="#1050f8"/>
<path d="M1074.6,630.0L1098.0,688.6L1095.3,691.3L1072.8,693.3L1047.4,652.1Z" fill="#2010f0" stroke="#2010f0"/>
<path d="M1047.4,652.1L1072.8,693.3L1036.8,724.6L977.7,707.9L966.2,670.9L1007.0,635.7Z" fill="#30d8ff" stroke="#30d8ff"/>
<path d="M1036.8,792.8L963.3,789.3L949.2,770.5L977.7,707.9L1036.8,724.6Z" fill="#3870ff" stroke="#3870ff"/>
<path d="M1142.5,733.1L1142.5,765.6L1127.2,768.4L1124.3,728.4Z" fill="#20ffb0" stroke="#20ffb0"/>
<path d="M1142.5,765.6L1142.5,807.4L1111.9,792.8L1127.2,768.4Z" fill="#28fc20" stroke="#28fc20"/>
<path d="M888.3,824.3L879.5,819.0L875.8,811.6L879.8,797.2L905.7,779.6L912.1,780.6L917.5,807.8ZM963.3,789.3L952.7,822.8L917.5,807.8L912.1,780.6L949.2,770.5Z" fill="#a880ff" stroke="#a880ff"/>
<path d="M1044.6,804.5L1005.3,858.4L961.4,849.9L952.7,822.8L963.3,789.3L1036.8,792.8L1044.8,803.2Z" fill="#1030f8" stroke="#1030f8"/>
<path d="M874.8,829.4L863.8,834.9L857.1,823.4L868.7,810.6L875.8,811.6L879.5,819.0Z" fill="#1890f8" stroke="#1890f8"/>
<path d="M874.8,829.4L882.9,839.1L881.4,853.1L863.8,841.9L863.8,834.9Z" fill="#3040f0" stroke="#3040f0"/>
<path d="M882.9,839.1L874.8,829.4L879.5,819.0L888.3,824.3Z" fill="#90f830" stroke="#90f830"/>
<path d="M1046.6,865.0L1006.4,860.0L1005.3,858.4L1044.6,804.5L1056.9,850.6L1056.3,853.1ZM1009.7,882.7L1006.4,860.0L1046.6,865.0L1041.7,880.6Z" fill="#10ffd0" stroke="#10ffd0"/>
<path d="M1106.3,858.4L1056.3,853.1L1056.9,850.6L1095.2,838.6L1104.5,846.2Z" fill="#3018f8" stroke="#3018f8"/>
<path d="M907.9,946.3L866.8,901.6L867.8,898.9L883.1,866.4L884.2,865.2L954.3,865.2L963.5,886.0L964.1,913.2L937.2,948.7Z" fill="#60ffd8" stroke="#60ffd8"/>
<path d="M1005.3,858.4L1006.4,860.0L1009.7,882.7L1002.9,890.4L963.5,886.0L954.3,865.2L961.4,849.9Z" fill="#1840f8" stroke="#1840f8"/>
<path d="M994.6,922.5L964.1,913.2L963.5,886.0L1002.9,890.4Z" fill="#88a0ff" stroke="#88a0ff"/>
<path d="M1048.0,940.4L1020.6,945.7L997.7,929.3L994.6,922.5L1002.9,890.4L1009.7,882.7L1041.7,880.6L1059.5,911.6Z" fill="#2020ff" stroke="#2020ff"/>
<path d="M997.7,929.3L994.6,954.3L957.5,970.1L937.2,948.7L964.1,913.2L994.6,922.5Z" fill="#a8c8ff" stroke="#a8c8ff"/>
<path d="M1142.5,913.8L1142.5,935.4L1111.4,978.1L1109.3,979.0L1065.5,969.3L1052.6,956.4L1048.0,940.4L1059.5,911.6L1118.2,899.9Z" fill="#10d0ff" stroke="#10d0ff"/>
<path d="M1020.6,945.7L1017.4,958.6L994.6,954.3L997.7,929.3Z" fill="#40f830" stroke="#40f830"/>
<path d="M945.0,1142.5L879.4,1142.5L858.8,975.1L862.7,970.0L907.9,946.3L937.2,948.7L957.5,970.1Z" fill="#28ff68" stroke="#28ff68"/>
<path d="M1030.9,1142.5L945.0,1142.5L957.5,970.1L994.6,954.3L1017.4,958.6L1040.4,978.0Z" fill="#78fff8" stroke="#78fff8"/>
<path d="M1109.3,1142.5L1030.9,1142.5L1040.4,978.0L1045.7,974.2L1065.5,969.3L1109.3,979.0Z" fill="#40b8ff" stroke="#40b8ff"/>
<path d="M1142.5,987.4L1142.5,1142.5L1109.3,1142.5L1109.3,979.0L1111.4,978.1Z" fill="#48ff80" stroke="#48ff80"/>
</g>
<path d="M70.1,27.0L71.7,67.1M71.7,67.1L26.0,52.5M71.7,67.1L86.4,85.8M86.4,85.8L26.0,131.1M115.5,27.0L115.5,46.8M115.5,46.8L88.7,85.9M88.7,85.9L86.4,85.8M189.4,68.8L190.8,97.7M190.8,97.7L180.9,114.5M200.7,27.0L205.6,53.5M205.6,53.5L189.4,68.8M256.7,27.0L251.9,47.7M251.9,47.7L226.0,63.7M226.0,63.7L205.6,53.5M291.1,27.0L310.3,58.4M310.3,58.4L296.8,85.4M296.8,85.4L271.7,85.4M271.7,85.4L255.1,65.1M255.1,65.1L251.9,47.7M255.1,65.1L229.2,70.4M229.2,70.4L226.0,63.7M229.2,70.4L223.5,93.0M223.5,93.0L190.8,97.7M244.6,109.9L223.5,93.0M271.7,85.4L244.6,109.9M242.6,130.8L212.0,150.8M212.0,150.8L180.9,114.5M244.6,109.9L242.6,130.8M242.6,130.8L264.5,161.9M264.5,161.9L259.2,178.7M259.2,178.7L212.3,164.9M212.3,164.9L212.0,150.8M186.1,191.2L155.3,186.8M155.3,186.8L133.9,162.4M212.3,164.9L186.1,191.2M79.0,173.5L26.0,131.1M57.5,210.6L26.0,194.2M79.0,173.5L79.0,207.1M79.0,207.1L57.5,210.6M133.9,162.4L121.1,205.1M121.1,205.1L99.1,217.2M99.1,217.2L79.0,207.1M296.8,85.4L312.2,103.5M313.6,198.7L266.0,191.9M266.0,191.9L259.2,178.7M232.6,243.1L189.0,212.0M189.0,212.0L185.6,194.9M185.6,194.9L186.1,191.2M266.0,191.9L252.5,237.0M252.5,237.0L232.6,243.1M305.9,253.6L290.9,263.0M290.9,263.0L252.5,237.0M313.6,198.7L317.0,201.8M155.3,186.8L149.4,203.4M149.4,203.4L121.1,205.1M168.1,215.9L149.4,203.4M189.0,212.0L171.9,222.6M171.9,222.6L168.1,215.9M173.1,269.0L166.9,276.1M166.9,276.1L109.8,267.4M109.8,267.4L99.1,217.2M232.6,243.1L208.5,269.0M208.5,269.0L173.1,269.0M97.5,289.9L33.4,307.5M26.0,240.7L57.5,210.6M109.8,267.4L97.5,289.9M212.1,321.5L181.6,319.2M181.6,319.2L165.7,302.0M165.7,302.0L166.9,276.1M107.2,313.0L97.5,289.9M165.7,302.0L107.2,313.0M83.8,356.4L75.0,386.1M75.0,386.1L33.8,405.2M33.8,405.2L26.0,404.6M33.4,307.5L61.7,325.2M61.7,325.2L83.8,356.4M104.6,317.3L61.7,325.2M107.2,313.0L104.6,317.3M104.6,317.3L97.3,354.8M87.3,394.6L75.0,386.1M97.3,354.8L115.4,387.9M115.4,387.9L114.3,389.4M114.3,389.4L87.3,394.6M186.9,357.7L159.4,387.9M159.4,387.9L115.4,387.9M181.6,319.2L188.8,351.6M188.8,351.6L186.9,357.7M213.9,338.5L188.8,351.6M212.1,321.5L213.9,338.5M247.9,369.9L213.9,338.5M296.6,351.9L247.9,369.9M244.6,385.5L216.5,401.9M216.5,401.9L193.9,393.9M193.9,393.9L186.9,357.7M247.9,369.9L244.6,385.5M193.9,393.9L172.7,401.2M172.7,401.2L159.4,387.9M301.7,357.1L296.8,408.8M296.8,408.8L254.9,400.9M254.9,400.9L244.6,385.5M296.6,351.9L301.7,357.1M312.5,361.6L298.9,410.6M298.9,410.6L296.8,408.8M301.7,357.1L312.5,361.6M87.3,394.6L78.0,424.1M78.0,424.1L61.0,425.3M61.0,425.3L33.8,405.2M98.5,440.7L78.0,424.1M114.3,389.4L117.4,432.9M117.4,432.9L98.5,440.7M172.7,401.2L156.2,444.3M156.2,444.3L117.4,432.9M216.5,401.9L231.2,427.6M231.2,427.6L231.2,453.0M231.2,453.0L198.6,472.5M198.6,472.5L169.0,465.3M169.0,465.3L156.2,444.3M254.9,400.9L231.2,427.6M298.9,410.6L302.4,421.9M302.4,421.9L295.7,443.2M295.7,443.2L288.1,456.4M288.1,456.4L255.4,466.3M255.4,466.3L231.2,453.0M61.0,425.3L52.9,463.8M52.9,463.8L26.0,469.0M98.5,440.7L80.3,474.1M80.3,474.1L52.9,463.8M169.0,465.3L147.5,509.6M147.5,509.6L116.2,515.6M116.2,515.6L85.4,490.5M85.4,490.5L80.3,474.1M85.4,490.5L69.0,519.6M69.0,519.6L26.0,530.9M116.2,515.6L104.8,538.3M104.8,538.3L69.0,519.6M171.0,559.6L128.8,566.1M128.8,566.1L108.5,553.9M108.5,553.9L104.8,538.3M147.5,509.6L174.7,538.9M174.7,538.9L171.0,559.6M198.6,472.5L204.4,513.4M204.4,513.4L174.7,538.9M255.4,466.3L267.2,520.1M267.2,520.1L266.3,521.2M181.8,585.6L177.0,579.5M177.0,579.5L171.0,559.6M266.3,521.2L271.6,572.1M271.6,572.1L265.5,585.6M307.8,476.4L293.0,513.4M293.0,513.4L267.2,520.1M288.1,456.4L302.1,468.8M302.1,468.8L307.8,476.4M295.7,443.2L302.1,468.8M54.5,580.9L26.0,554.2M108.5,553.9L98.2,585.6M98.2,585.6L92.0,588.4M92.0,588.4L54.5,580.9M54.5,580.9L26.0,592.9M177.0,579.5L121.1,586.8M121.1,586.8L128.8,566.1M317.6,523.7L299.9,573.2M299.9,573.2L271.6,572.1M293.0,513.4L299.4,514.6M299.4,514.6L317.6,523.7M311.1,477.6L299.4,514.6M307.8,476.4L311.1,477.6M121.1,586.8L113.1,592.0M113.1,592.0L98.2,585.6M92.0,588.4L83.2,632.5M83.2,632.5L26.0,635.6M91.5,638.5L83.2,632.5M113.1,592.0L114.2,629.6M133.8,668.5L100.0,668.5M100.0,668.5L91.5,638.5M114.2,629.6L138.3,652.7M138.3,652.7L133.8,668.5M181.8,585.6L188.7,612.3M188.7,612.3L185.3,623.5M185.3,623.5L138.3,652.7M245.4,622.8L188.7,612.3M265.5,585.6L266.0,591.1M266.0,591.1L245.4,622.8M235.3,671.3L185.3,623.5M245.4,622.8L247.7,655.2M247.7,655.2L235.3,671.3M298.2,602.4L312.3,633.0M312.3,633.0L296.9,658.1M296.9,658.1L247.7,655.2M266.0,591.1L298.2,602.4M316.4,584.7L298.2,602.4M299.9,573.2L316.4,584.7M100.0,668.5L88.9,695.9M88.9,695.9L85.3,699.8M85.3,699.8L67.1,706.5M67.1,706.5L26.0,703.0M212.7,705.1L171.9,712.0M171.9,712.0L136.7,683.1M136.7,683.1L133.8,668.5M235.3,671.3L233.2,687.6M233.2,687.6L212.7,705.1M296.9,658.1L313.3,710.1M313.3,710.1L307.6,722.9M307.6,722.9L306.7,723.5M306.7,723.5L233.2,687.6M133.0,690.9L88.9,695.9M136.7,683.1L133.0,690.9M110.2,737.1L85.3,699.8M133.0,690.9L140.4,729.2M140.4,729.2L110.2,737.1M165.8,729.4L140.6,729.4M140.6,729.4L140.4,729.2M193.4,742.9L181.4,743.2M181.4,743.2L165.8,729.4M212.7,705.1L193.4,742.9M295.8,755.2L271.3,794.3M271.3,794.3L256.1,800.3M256.1,800.3L209.2,780.8M209.2,780.8L193.4,742.9M306.7,723.5L295.8,755.2M67.1,706.5L101.4,754.5M101.4,754.5L81.6,789.8M81.6,789.8L31.0,808.0M31.0,808.0L26.0,807.4M110.2,737.1L102.4,754.1M102.4,754.1L101.4,754.5M140.6,729.4L129.4,767.0M129.4,767.0L102.4,754.1M181.4,743.2L169.2,779.9M169.2,779.9L131.9,771.6M131.9,771.6L129.4,767.0M177.2,792.6L169.2,779.9M209.2,780.8L177.2,792.6M131.9,771.6L117.2,808.2M117.2,808.2L81.6,789.8M177.2,792.6L164.0,823.2M164.0,823.2L123.6,820.6M123.6,820.6L117.2,808.2M260.1,832.9L251.4,858.1M251.4,858.1L238.7,869.4M238.7,869.4L176.4,869.4M176.4,869.4L175.8,868.5M175.8,868.5L164.0,823.2M256.1,800.3L260.1,832.9M79.2,868.7L60.0,865.8M60.0,865.8L31.0,808.0M123.6,820.6L113.1,861.5M113.1,861.5L107.7,868.7M107.7,868.7L79.2,868.7M175.8,868.5L113.1,861.5M60.0,865.8L59.2,868.1M59.2,868.1L26.0,871.2M307.9,822.5L287.0,837.4M287.0,837.4L260.1,832.9M271.3,794.3L295.8,805.6M295.8,805.6L307.9,822.5M295.8,755.2L295.8,805.6M287.0,837.4L283.2,860.3M283.2,860.3L272.2,866.0M272.2,866.0L251.4,858.1M308.2,822.6L305.3,864.0M305.3,864.0L283.2,860.3M307.9,822.5L308.2,822.6M67.9,910.9L26.0,952.9M59.2,868.1L62.7,871.0M62.7,871.0L67.9,910.9M170.3,886.5L114.4,886.5M114.4,886.5L107.7,868.7M222.2,951.9L173.9,908.4M173.9,908.4L170.3,886.5M238.7,869.4L250.7,896.9M250.7,896.9L222.2,951.9M95.8,923.3L67.9,910.9M62.7,871.0L79.2,868.7M114.4,886.5L105.7,915.8M105.7,915.8L95.8,923.3M95.8,923.3L39.0,1142.5M148.8,971.2L105.7,915.8M173.9,908.4L148.8,971.2M155.5,1130.7L148.8,971.2M222.2,951.9L234.3,1042.6M234.3,1042.6L231.6,1048.0M231.6,1048.0L160.7,1126.0M160.7,1126.0L155.5,1130.7M155.5,1130.7L146.5,1142.5M250.7,896.9L263.4,898.4M263.4,898.4L279.4,917.3M279.4,917.3L261.5,1013.6M261.5,1013.6L234.3,1042.6M263.4,898.4L272.2,866.0M305.3,864.0L307.0,865.4M312.9,914.8L279.4,917.3M312.9,914.8L314.9,916.3M314.9,916.3L288.5,995.3M288.5,995.3L261.5,1013.6M326.4,27.0L312.1,57.4M312.1,57.4L310.3,58.4M352.5,27.0L349.7,59.3M349.7,59.3L312.1,57.4M349.7,59.3L358.6,71.2M358.6,71.2L358.6,88.7M358.6,88.7L312.2,103.5M379.1,27.0L389.3,67.7M389.3,67.7L358.6,71.2M389.3,67.7L390.3,68.5M390.3,68.5L381.8,95.0M381.8,95.0L358.6,88.7M416.4,27.0L419.7,59.4M419.7,59.4L390.3,68.5M446.8,27.0L446.0,47.7M446.0,47.7L420.6,59.6M420.6,59.6L419.7,59.4M496.1,27.0L465.6,68.6M465.6,68.6L446.0,47.7M420.6,59.6L462.9,104.5M462.9,104.5L456.6,115.6M456.6,115.6L412.4,130.0M412.4,130.0L381.8,95.0M465.6,68.6L470.2,97.9M470.2,97.9L462.9,104.5M521.6,27.0L524.4,42.4M505.5,86.5L470.2,97.9M524.4,42.4L564.3,76.4M564.3,76.4L562.4,95.6M562.4,95.6L505.5,86.5M580.3,27.0L584.7,58.2M584.7,58.2L576.6,69.4M576.6,69.4L564.3,76.4M576.6,69.4L592.4,107.4M592.4,107.4L585.3,114.1M585.3,114.1L562.4,95.6M412.4,130.0L407.4,182.4M407.4,182.4L389.9,202.6M389.9,202.6L344.7,210.2M344.7,210.2L317.0,201.8M456.6,183.7L407.4,182.4M456.6,115.6L456.6,183.7M585.3,114.1L591.9,137.8M574.9,205.7L548.5,225.0M548.5,225.0L513.3,225.0M513.3,225.0L470.2,203.4M470.2,203.4L456.6,183.7M470.2,203.4L456.0,250.4M407.0,250.4L389.9,202.6M455.0,279.0L421.0,284.7M421.0,284.7L405.7,254.1M405.7,254.1L407.0,250.4M456.0,250.4L460.6,258.0M460.6,258.0L455.0,279.0M355.5,274.1L337.8,256.4M337.8,256.4L344.7,210.2M400.2,317.6L357.4,301.9M357.4,301.9L355.5,299.3M355.5,299.3L355.5,274.1M421.0,284.7L413.0,314.9M413.0,314.9L400.2,317.6M337.8,256.4L305.9,253.6M513.3,225.0L505.1,250.6M505.1,250.6L528.5,271.8M528.5,271.8L529.9,285.3M529.9,285.3L521.8,301.5M521.8,301.5L472.5,311.8M472.5,311.8L465.4,304.1M465.4,304.1L455.0,279.0M551.2,234.5L528.5,271.8M548.5,225.0L551.2,234.5M585.3,243.3L582.1,307.3M582.1,307.3L577.2,315.4M577.2,315.4L529.9,285.3M551.2,234.5L585.3,243.3M589.1,216.5L587.8,242.2M587.8,242.2L585.3,243.3M574.9,205.7L589.1,216.5M465.4,304.1L416.5,318.1M416.5,318.1L413.0,314.9M577.2,315.4L578.2,326.6M578.2,326.6L571.9,332.4M571.9,332.4L521.9,302.0M521.9,302.0L521.8,301.5M363.9,326.3L358.3,342.5M358.3,342.5L312.5,361.6M357.4,301.9L363.9,326.3M380.9,333.7L363.9,326.3M400.2,317.6L380.9,333.7M472.5,311.8L474.2,326.5M420.6,356.3L401.1,358.1M401.1,358.1L379.9,344.2M427.5,348.9L420.6,356.3M474.2,326.5L479.0,334.1M467.9,356.4L427.5,348.9M479.0,334.1L485.4,336.3M485.4,336.3L499.0,362.4M499.0,362.4L484.6,381.0M484.6,381.0L467.9,356.4M379.9,344.2L358.3,342.5M521.9,302.0L485.4,336.3M571.9,332.4L566.3,345.5M566.3,345.5L499.0,362.4M493.7,439.4L482.1,395.8M482.1,395.8L484.6,381.0M595.1,437.9L588.2,442.9M588.2,442.9L516.9,453.3M516.9,453.3L493.7,439.4M401.1,358.1L414.7,379.7M414.7,379.7L421.9,419.0M421.9,419.0L402.0,446.1M402.0,446.1L362.2,461.3M362.2,461.3L350.0,459.1M350.0,459.1L302.4,421.9M420.6,356.3L414.7,379.7M482.1,395.8L439.2,425.1M439.2,425.1L421.9,419.0M493.7,439.4L486.0,443.6M486.0,443.6L444.4,433.5M444.4,433.5L439.2,425.1M420.7,466.7L444.4,433.5M486.0,443.6L486.0,496.1M486.0,496.1L456.2,509.5M456.2,509.5L423.4,489.9M423.4,489.9L420.7,466.7M420.7,466.7L402.0,446.1M516.9,453.3L505.6,493.0M505.6,493.0L495.8,498.1M495.8,498.1L486.0,496.1M588.2,442.9L588.2,514.8M588.2,514.8L572.9,531.1M572.9,531.1L554.0,528.7M554.0,528.7L531.7,525.3M531.7,525.3L505.6,493.0M350.0,459.1L328.6,478.2M328.6,478.2L311.1,477.6M379.6,507.4L362.2,488.1M362.2,488.1L362.2,461.3M423.4,489.9L379.6,507.4M362.2,488.1L341.9,495.6M341.9,495.6L328.6,478.2M341.9,495.6L335.6,520.6M335.6,520.6L329.6,524.3M329.6,524.3L317.6,523.7M369.2,525.8L335.6,520.6M379.6,507.4L369.2,525.8M459.5,559.8L427.4,583.2M427.4,583.2L388.8,585.1M388.8,585.1L384.1,582.2M384.1,582.2L382.8,580.8M382.8,580.8L374.5,569.5M374.5,569.5L369.2,525.8M456.2,509.5L461.3,555.9M461.3,555.9L459.5,559.8M495.8,498.1L516.8,533.6M516.8,533.6L508.2,552.4M508.2,552.4L461.3,555.9M531.7,525.3L531.1,526.5M531.1,526.5L516.8,533.6M554.0,528.7L531.1,526.5M572.9,531.1L573.9,533.6M573.9,533.6L568.5,580.3M568.5,580.3L535.5,592.2M535.5,592.2L515.4,577.5M515.4,577.5L508.2,552.4M578.2,536.6L578.2,584.1M578.2,584.1L568.5,580.3M573.9,533.6L578.2,536.6M459.5,586.5L459.5,559.8M515.4,577.5L459.5,586.5M448.3,599.4L427.4,583.2M459.5,586.5L448.3,599.4M374.5,569.5L340.6,572.4M340.6,572.4L329.6,524.3M340.6,572.4L334.1,580.8M334.1,580.8L330.2,584.3M330.2,584.3L316.4,584.7M382.8,580.8L334.1,580.8M330.2,584.3L346.8,616.1M346.8,616.1L347.0,622.8M347.0,622.8L312.3,633.0M384.1,582.2L346.8,616.1M388.8,585.1L394.8,611.7M394.8,611.7L366.1,635.3M366.1,635.3L347.0,622.8M448.3,599.4L441.9,624.1M441.9,624.1L435.4,627.9M435.4,627.9L394.8,611.7M516.1,662.2L499.2,667.0M499.2,667.0L441.9,624.1M535.5,592.2L540.7,636.7M540.7,636.7L516.1,662.2M583.0,589.1L588.0,605.4M588.0,605.4L584.8,633.4M584.8,633.4L575.0,642.0M575.0,642.0L556.8,644.3M556.8,644.3L540.7,636.7M578.2,584.1L583.0,589.1M391.3,682.3L376.8,672.7M376.8,672.7L366.1,635.3M435.4,627.9L414.9,679.8M414.9,679.8L391.3,682.3M376.8,672.7L353.4,701.3M353.4,701.3L313.3,710.1M373.9,707.8L356.6,704.8M356.6,704.8L353.4,701.3M391.3,682.3L373.9,707.8M499.2,667.0L497.8,683.1M497.8,683.1L490.1,700.3M490.1,700.3L478.1,706.6M478.1,706.6L439.8,705.5M439.8,705.5L414.9,679.8M556.8,644.3L556.8,675.3M556.8,675.3L518.6,668.0M518.6,668.0L516.1,662.2M575.0,642.0L572.4,675.9M572.4,675.9L562.2,680.4M562.2,680.4L556.8,675.3M518.6,668.0L497.8,683.1M571.7,718.1L562.2,680.4M572.4,675.9L602.6,709.9M602.6,709.9L573.8,718.5M573.8,718.5L571.7,718.1M497.9,717.8L490.1,700.3M571.7,718.1L553.0,731.9M553.0,731.9L497.9,717.8M383.1,746.4L373.9,725.7M373.9,725.7L373.9,707.8M439.8,705.5L436.4,741.7M436.4,741.7L422.0,756.2M422.0,756.2L383.1,746.4M478.1,706.6L479.4,731.3M479.4,731.3L466.3,751.2M466.3,751.2L436.4,741.7M497.9,717.8L479.4,731.3M373.9,725.7L352.9,731.5M352.9,731.5L350.3,730.2M350.3,730.2L356.6,704.8M350.3,730.2L307.6,722.9M383.1,746.4L375.8,750.2M375.8,750.2L352.9,731.5M375.8,750.2L373.1,800.6M373.1,800.6L341.3,829.3M341.3,829.3L308.2,822.6M422.0,756.2L429.1,772.9M429.1,772.9L410.7,801.6M410.7,801.6L373.1,800.6M483.3,796.8L466.2,752.6M466.2,752.6L466.3,751.2M553.0,731.9L559.7,778.9M559.7,778.9L541.8,796.8M541.8,796.8L483.3,796.8M573.8,718.5L590.5,778.7M590.5,778.7L590.1,779.2M590.1,779.2L573.8,783.6M573.8,783.6L559.7,778.9M466.2,752.6L441.6,775.5M441.6,775.5L429.1,772.9M469.5,808.1L441.6,775.5M483.3,796.8L469.5,808.1M469.5,808.1L458.3,837.0M458.3,837.0L437.2,840.1M437.2,840.1L410.7,801.6M408.4,876.1L361.7,871.8M361.7,871.8L346.2,851.7M346.2,851.7L341.3,829.3M437.2,840.1L426.6,867.0M426.6,867.0L408.4,876.1M558.4,877.0L542.5,881.2M542.5,881.2L482.5,884.4M482.5,884.4L468.3,871.7M468.3,871.7L458.3,837.0M541.8,796.8L561.5,816.5M561.5,816.5L567.4,835.3M567.4,835.3L564.9,872.5M564.9,872.5L558.4,877.0M573.8,783.6L571.3,806.7M571.3,806.7L561.5,816.5M571.3,806.7L590.5,816.3M590.5,816.3L578.4,831.3M578.4,831.3L567.4,835.3M346.2,851.7L307.0,865.4M578.4,831.3L585.7,854.3M585.7,854.3L565.5,872.6M565.5,872.6L564.9,872.5M468.3,871.7L426.6,867.0M591.9,815.7L590.5,816.3M590.1,779.2L591.9,815.7M361.7,871.8L364.0,882.7M364.0,882.7L356.6,905.9M356.6,905.9L314.9,916.3M383.6,897.4L364.0,882.7M408.4,876.1L383.6,897.4M552.4,882.8L542.5,881.2M558.4,877.0L552.4,882.8M383.6,897.4L375.5,914.7M375.5,914.7L356.6,905.9M375.5,914.7L386.7,968.8M386.7,968.8L360.4,987.3M360.4,987.3L288.5,995.3M441.6,985.9L400.2,977.6M400.2,977.6L386.7,968.8M482.5,884.4L496.5,922.3M496.5,922.3L474.8,974.5M474.8,974.5L441.6,985.9M552.4,882.8L540.2,916.5M540.2,916.5L496.5,922.3M587.3,945.0L580.9,949.8M580.9,949.8L540.2,916.5M565.5,872.6L572.7,876.2M579.6,961.9L573.5,984.1M573.5,984.1L552.0,1011.0M552.0,1011.0L539.5,1014.2M539.5,1014.2L504.7,1011.3M504.7,1011.3L486.0,1001.0M486.0,1001.0L474.8,974.5M580.9,949.8L579.6,961.9M579.6,961.9L585.3,989.6M585.3,989.6L573.5,984.1M438.8,1001.9L410.9,1006.1M410.9,1006.1L400.2,977.6M486.0,1001.0L469.7,1016.5M469.7,1016.5L438.8,1001.9M410.9,1006.1L385.7,1030.5M385.7,1030.5L375.8,1027.7M375.8,1027.7L360.4,987.3M375.8,1027.7L324.1,1048.0M324.1,1048.0L231.6,1048.0M379.2,1083.7L324.1,1048.0M385.7,1030.5L391.4,1075.7M391.4,1075.7L379.2,1083.7M469.7,1016.5L481.4,1051.6M481.4,1051.6L480.9,1057.5M480.9,1057.5L463.7,1085.1M463.7,1085.1L432.8,1096.9M432.8,1096.9L391.4,1075.7M504.7,1011.3L511.8,1034.9M511.8,1034.9L507.7,1043.6M507.7,1043.6L481.4,1051.6M539.5,1014.2L511.8,1034.9M585.3,989.6L598.5,1008.7M598.5,1008.7L580.5,1022.9M580.5,1022.9L552.0,1011.0M524.6,1095.3L506.8,1062.4M506.8,1062.4L507.7,1043.6M591.7,1074.8L572.0,1096.3M572.0,1096.3L543.2,1103.2M543.2,1103.2L524.6,1095.3M480.9,1057.5L506.8,1062.4M524.6,1095.3L500.6,1119.3M500.6,1119.3L482.6,1118.7M482.6,1118.7L463.7,1085.1M379.2,1083.7L371.2,1100.7M371.2,1100.7L160.7,1126.0M371.2,1100.7L385.6,1142.5M432.8,1096.9L431.5,1119.7M431.5,1119.7L417.6,1142.5M471.1,1135.5L431.5,1119.7M482.6,1118.7L471.1,1135.5M471.1,1135.5L470.7,1142.5M543.2,1103.2L540.3,1142.5M512.2,1142.5L500.6,1119.3M608.8,27.0L608.8,53.6M608.8,53.6L584.7,58.2M654.1,27.0L654.6,32.7M654.6,32.7L619.3,62.6M619.3,62.6L608.8,53.6M619.3,62.6L614.9,97.5M614.9,97.5L592.4,107.4M654.6,32.7L699.1,54.2M699.1,54.2L707.9,69.4M707.9,69.4L706.2,118.0M706.2,118.0L661.4,137.6M661.4,137.6L614.9,97.5M655.9,147.5L591.9,137.8M661.4,137.6L655.9,147.5M705.4,27.0L699.1,54.2M766.7,27.0L707.9,69.4M774.1,27.0L794.5,110.5M794.5,110.5L792.2,114.5M792.2,114.5L724.4,128.9M724.4,128.9L706.2,118.0M863.6,27.0L860.2,46.2M860.2,46.2L848.1,98.7M848.1,98.7L794.5,110.5M860.2,46.2L853.3,101.2M853.3,101.2L848.1,98.7M853.3,101.2L860.3,110.2M860.3,110.2L862.2,149.9M862.2,149.9L861.3,151.8M861.3,151.8L843.4,164.0M843.4,164.0L803.8,158.9M803.8,158.9L794.5,150.0M794.5,150.0L792.2,114.5M747.4,170.6L724.4,128.9M803.8,158.9L809.1,196.9M809.1,196.9L779.8,218.6M779.8,218.6L758.4,213.5M758.4,213.5L744.0,204.5M744.0,204.5L741.7,201.5M741.7,201.5L747.4,170.6M679.7,212.5L659.7,190.2M659.7,190.2L655.9,147.5M744.0,204.5L745.7,247.8M745.7,247.8L722.3,277.3M722.3,277.3L679.4,264.0M679.4,264.0L678.2,261.6M678.2,261.6L672.4,225.7M672.4,225.7L679.7,212.5M659.7,190.2L637.4,220.4M637.4,220.4L631.6,222.7M631.6,222.7L589.1,216.5M655.6,229.0L637.4,220.4M678.2,261.6L651.4,244.9M651.4,244.9L655.6,229.0M631.6,222.7L622.6,251.2M622.6,251.2L587.8,242.2M623.1,283.1L582.1,307.3M622.6,251.2L623.1,251.9M623.1,251.9L623.1,283.1M679.4,264.0L674.1,285.2M674.1,285.2L655.7,299.0M655.7,299.0L634.4,299.0M634.4,299.0L623.1,283.1M623.1,251.9L651.4,244.9M724.3,290.0L679.7,299.3M679.7,299.3L674.1,285.2M722.3,277.3L724.3,290.0M790.8,275.7L757.4,318.7M757.4,318.7L756.1,319.1M756.1,319.1L724.3,290.0M745.7,247.8L760.9,245.3M760.9,245.3L777.8,251.4M777.8,251.4L790.8,275.7M758.4,213.5L760.9,245.3M779.8,218.6L777.8,251.4M865.6,206.6L855.3,274.7M855.3,274.7L848.7,280.4M848.7,280.4L805.9,285.9M805.9,285.9L790.8,275.7M809.1,196.9L853.8,200.3M853.8,200.3L865.6,206.6M843.4,164.0L853.8,200.3M861.3,151.8L871.6,205.5M871.6,205.5L865.6,206.6M634.4,299.0L628.0,326.6M628.0,326.6L578.2,326.6M805.9,285.9L803.9,315.8M803.9,315.8L757.4,318.7M848.7,280.4L850.4,303.7M850.4,303.7L815.6,322.7M815.6,322.7L803.9,315.8M655.7,299.0L665.4,317.0M665.4,317.0L658.8,334.3M658.8,334.3L650.4,338.2M650.4,338.2L628.0,326.6M679.7,299.3L665.4,317.0M650.4,338.2L659.0,389.8M659.0,389.8L604.4,438.9M604.4,438.9L595.1,437.9M756.1,319.1L738.0,354.7M738.0,354.7L703.0,369.7M703.0,369.7L658.8,334.3M703.0,369.7L701.1,390.5M701.1,390.5L686.9,401.1M686.9,401.1L677.1,450.0M640.1,465.7L632.7,463.7M632.7,463.7L604.4,438.9M715.1,491.8L706.4,512.8M706.4,512.8L662.5,519.0M662.5,519.0L640.1,465.7M677.1,450.0L715.1,491.8M783.5,425.7L772.4,477.4M772.4,477.4L760.8,486.9M760.8,486.9L745.6,491.1M745.6,491.1L715.1,491.8M701.1,390.5L738.8,388.0M738.8,388.0L783.5,425.7M738.0,354.7L738.8,388.0M838.9,376.2L831.1,399.6M831.1,399.6L795.5,424.8M795.5,424.8L783.5,425.7M815.6,322.7L828.3,334.7M828.3,334.7L840.6,369.0M840.6,369.0L838.9,376.2M848.5,367.6L840.6,369.0M828.3,334.7L857.6,326.3M857.6,326.3L848.5,367.6M850.4,303.7L861.1,320.9M861.1,320.9L857.6,326.3M838.9,376.2L838.9,401.6M838.9,401.6L831.1,399.6M855.2,414.4L838.9,401.6M848.5,367.6L865.8,410.4M865.8,410.4L855.2,414.4M852.0,421.0L814.6,443.9M814.6,443.9L795.5,424.8M855.2,414.4L852.0,421.0M856.7,474.6L816.2,469.9M816.2,469.9L814.6,443.9M816.2,469.9L812.1,474.8M812.1,474.8L772.4,477.4M858.5,476.2L855.5,500.4M855.5,500.4L852.4,512.0M852.4,512.0L847.2,514.7M847.2,514.7L812.1,474.8M856.7,474.6L858.5,476.2M750.8,527.0L760.8,486.9M847.2,514.7L843.8,541.5M843.8,541.5L818.6,568.4M818.6,568.4L762.7,560.2M762.7,560.2L750.8,527.0M745.6,491.1L737.7,522.8M737.7,522.8L720.4,526.3M720.4,526.3L706.4,512.8M750.8,527.0L737.7,522.8M654.7,528.5L635.3,530.3M635.3,530.3L608.4,522.3M608.4,522.3L601.3,514.4M601.3,514.4L632.7,463.7M662.5,519.0L654.7,528.5M601.3,514.4L588.2,514.8M635.3,530.3L651.2,544.1M651.2,544.1L658.7,595.8M658.7,595.8L657.1,598.8M657.1,598.8L583.0,589.1M578.2,536.6L608.4,522.3M654.7,528.5L651.2,544.1M720.4,526.3L724.4,559.0M724.4,559.0L712.5,584.2M712.5,584.2L658.7,595.8M762.3,561.0L724.4,559.0M762.7,560.2L762.3,561.0M759.9,585.0L713.3,585.0M713.3,585.0L712.5,584.2M762.3,561.0L761.7,581.5M761.7,581.5L759.9,585.0M820.4,588.9L761.7,581.5M818.6,568.4L821.4,584.9M821.4,584.9L820.4,588.9M863.8,549.3L858.8,584.9M858.8,584.9L821.4,584.9M843.8,541.5L863.8,549.3M852.4,512.0L869.9,548.1M869.9,548.1L863.8,549.3M604.1,625.5L588.0,605.4M657.1,598.8L657.0,600.0M657.0,600.0L623.8,626.4M623.8,626.4L604.1,625.5M604.1,625.5L584.8,633.4M623.8,626.4L623.8,712.7M623.8,712.7L602.6,709.9M706.7,632.2L716.8,679.7M716.8,679.7L716.4,685.8M716.4,685.8L691.9,715.0M691.9,715.0L637.5,724.1M637.5,724.1L623.8,712.7M657.0,600.0L706.7,632.2M713.3,585.0L721.3,608.8M721.3,608.8L711.1,630.9M711.1,630.9L726.6,645.6M726.6,645.6L716.8,679.7M759.9,585.0L758.1,605.2M758.1,605.2L721.3,608.8M758.1,605.2L765.0,617.8M765.0,617.8L726.6,645.6M820.4,588.9L822.1,598.1M822.1,598.1L800.2,625.5M800.2,625.5L765.0,617.8M858.8,584.9L868.6,595.5M868.6,595.5L851.6,611.2M851.6,611.2L822.1,598.1M851.6,636.6L841.6,657.2M841.6,657.2L826.5,660.9M826.5,660.9L800.2,625.5M851.6,611.2L851.6,636.6M740.4,715.9L716.4,685.8M826.5,660.9L820.2,699.9M820.2,699.9L805.3,719.6M805.3,719.6L781.3,728.3M781.3,728.3L740.4,715.9M841.6,657.2L865.6,670.3M865.6,670.3L853.4,697.5M853.4,697.5L820.2,699.9M851.6,636.6L870.0,666.8M870.0,666.8L865.6,670.3M853.4,697.5L858.6,746.0M858.6,746.0L854.6,747.8M854.6,747.8L805.3,719.6M710.9,732.7L708.0,782.5M708.0,782.5L700.6,788.1M700.6,788.1L635.8,737.2M635.8,737.2L637.5,724.1M691.9,715.0L710.9,732.7M740.4,715.9L731.7,727.3M731.7,727.3L710.9,732.7M763.3,754.7L731.7,727.3M781.3,728.3L763.3,754.7M763.3,754.7L756.8,784.8M756.8,784.8L708.0,782.5M854.6,747.8L858.1,758.8M858.1,758.8L859.8,793.7M859.8,793.7L856.7,801.7M856.7,801.7L846.1,815.0M846.1,815.0L818.1,829.1M778.7,822.4L756.8,784.8M818.1,829.1L825.2,857.7M825.2,857.7L818.2,868.7M818.2,868.7L769.5,848.1M769.5,848.1L778.7,822.4M635.8,737.2L590.5,778.7M700.6,788.1L683.3,847.6M683.3,847.6L665.5,850.3M665.5,850.3L618.9,850.3M618.9,850.3L591.9,815.7M739.3,872.6L687.0,853.6M687.0,853.6L683.3,847.6M769.5,848.1L739.3,872.6M665.5,850.3L642.2,866.6M642.2,866.6L617.8,853.6M617.8,853.6L618.9,850.3M615.7,854.3L585.7,854.3M617.8,853.6L615.7,854.3M615.7,854.3L572.7,876.2M863.8,841.9L853.8,855.5M853.8,855.5L825.2,857.7M846.1,815.0L857.1,823.4M857.1,823.4L863.8,834.9M863.8,834.9L863.8,841.9M863.5,751.8L858.1,758.8M858.6,746.0L863.5,751.8M868.7,810.6L857.1,823.4M856.7,801.7L868.7,810.6M642.2,866.6L668.7,895.5M668.7,895.5L671.7,916.1M671.7,916.1L639.0,949.5M639.0,949.5L587.3,945.0M687.0,853.6L668.7,895.5M739.3,872.6L741.0,915.7M741.0,915.7L730.9,928.6M730.9,928.6L671.7,916.1M818.2,868.7L823.1,897.0M823.1,897.0L795.5,926.3M795.5,926.3L741.0,915.7M864.9,865.1L867.8,898.9M867.8,898.9L866.8,901.6M866.8,901.6L862.7,904.1M862.7,904.1L823.1,897.0M853.8,855.5L864.9,865.1M791.2,972.6L739.4,954.3M739.4,954.3L730.9,928.6M795.5,926.3L799.3,965.8M799.3,965.8L791.2,972.6M862.7,970.0L858.8,975.1M858.8,975.1L799.3,965.8M739.4,954.3L721.4,1013.8M721.4,1013.8L675.6,1029.7M675.6,1029.7L641.0,999.2M641.0,999.2L639.0,949.5M641.0,999.2L621.5,1010.7M621.5,1010.7L598.5,1008.7M754.0,1040.5L721.4,1013.8M791.2,972.6L775.2,1044.4M775.2,1044.4L754.0,1040.5M862.8,1142.5L775.2,1044.4M858.8,975.1L879.4,1142.5M621.5,1010.7L640.2,1041.5M640.2,1041.5L619.4,1074.8M619.4,1074.8L591.7,1074.8M675.0,1032.3L640.2,1041.5M675.6,1029.7L675.0,1032.3M689.2,1056.2L689.2,1088.7M689.2,1088.7L681.0,1101.2M681.0,1101.2L649.6,1118.9M649.6,1118.9L619.4,1074.8M675.0,1032.3L689.2,1056.2M754.0,1040.5L710.0,1066.6M710.0,1066.6L689.2,1056.2M742.4,1142.5L709.1,1095.9M709.1,1095.9L705.9,1088.7M705.9,1088.7L710.0,1066.6M705.9,1088.7L689.2,1088.7M709.1,1095.9L712.5,1118.0M712.5,1118.0L681.0,1101.2M649.6,1118.9L644.9,1142.5M712.5,1118.0L732.3,1142.5M906.4,27.0L935.3,65.1M935.3,65.1L919.4,124.8M919.4,124.8L884.9,126.1M884.9,126.1L860.3,110.2M884.9,126.1L862.2,149.9M969.8,53.9L1010.0,95.6M1013.0,111.2L1002.0,137.7M1002.0,137.7L941.3,148.3M941.3,148.3L919.4,124.8M1067.4,118.4L1013.0,111.2M1010.0,95.6L1045.8,45.2M1045.8,45.2L1076.9,72.7M1076.9,72.7L1071.5,115.8M1071.5,115.8L1067.4,118.4M976.6,27.0L969.8,53.9M1042.3,27.0L1045.8,45.2M1105.8,27.0L1101.4,59.3M1101.4,59.3L1076.9,72.7M1142.5,77.5L1101.4,59.3M1142.5,113.0L1110.3,132.9M1110.3,132.9L1071.5,115.8M1067.4,118.4L1060.0,142.2M1060.0,142.2L1021.1,159.7M1021.1,159.7L1010.4,155.0M1010.4,155.0L1002.0,137.7M1110.3,132.9L1111.0,139.2M1111.0,139.2L1077.7,174.3M1077.7,174.3L1060.0,142.2M1077.7,174.4L1036.7,182.6M1036.7,182.6L1021.1,159.7M1111.0,139.2L1142.5,157.7M1142.5,204.5L1096.4,210.7M1096.4,210.7L1095.0,210.0M1095.0,210.0L1077.7,174.4M887.7,210.5L871.6,205.5M941.3,148.3L941.3,156.9M941.3,156.9L988.0,188.0M988.0,188.0L996.8,218.4M941.9,260.5L906.8,246.5M906.8,246.5L887.7,210.5M997.0,218.5L1010.2,257.1M1010.2,257.1L971.6,293.9M971.6,293.9L959.6,298.5M959.6,298.5L941.9,260.5M1030.9,204.2L997.0,218.5M1063.9,228.6L1030.9,204.2M1096.4,210.7L1103.6,246.8M1103.6,246.8L1099.1,255.9M1099.1,255.9L1085.0,261.3M1085.0,261.3L1062.3,255.0M1062.3,255.0L1063.9,228.6M1062.3,255.0L1057.7,261.2M1057.7,261.2L1045.9,270.3M1045.9,270.3L1010.2,257.1M1142.5,258.6L1139.4,258.7M1139.4,258.7L1103.6,246.8M1085.0,261.3L1082.7,271.1M1082.7,271.1L1068.1,273.4M1068.1,273.4L1057.7,261.2M1139.4,258.7L1110.8,268.7M1110.8,268.7L1099.1,255.9M1045.9,270.3L1050.4,287.0M1050.4,287.0L1048.5,307.4M1048.5,307.4L1046.4,310.9M1046.4,310.9L971.6,293.9M887.4,304.9L880.0,275.5M880.0,275.5L906.8,246.5M959.6,298.5L955.7,307.7M955.7,307.7L887.4,304.9M880.0,275.5L855.3,274.7M887.4,304.9L861.1,320.9M1106.8,310.1L1048.5,307.4M1050.4,287.0L1068.1,273.4M1082.7,271.1L1103.6,284.1M1103.6,284.1L1108.8,305.8M1108.8,305.8L1106.8,310.1M1142.5,304.2L1108.8,305.8M1103.6,284.1L1110.8,268.7M970.8,345.1L969.7,370.1M969.7,370.1L915.0,430.1M915.0,430.1L865.8,410.4M955.7,307.7L970.8,345.1M1046.4,310.9L1045.5,323.8M1045.5,323.8L998.6,364.6M998.6,364.6L970.8,345.1M1106.8,310.1L1110.5,326.8M1110.5,326.8L1075.4,364.1M1075.4,364.1L1045.5,323.8M1142.5,344.1L1110.5,326.8M1142.5,363.3L1084.1,377.9M1084.1,377.9L1075.8,370.5M1075.8,370.5L1075.4,364.1M1075.8,370.5L1037.2,401.4M1037.2,401.4L999.0,368.6M999.0,368.6L998.6,364.6M999.0,368.6L969.7,370.1M1037.2,401.4L1041.1,413.9M1041.1,413.9L1033.3,454.6M1033.3,454.6L1010.3,476.9M1010.3,476.9L950.9,479.2M950.9,479.2L919.4,451.2M919.4,451.2L915.0,430.1M1084.1,377.9L1090.2,400.9M1090.2,400.9L1077.5,420.4M1077.5,420.4L1041.1,413.9M1142.5,396.9L1122.2,410.6M1122.2,410.6L1090.2,400.9M1122.2,410.6L1126.5,440.3M1126.5,440.3L1114.2,441.7M1114.2,441.7L1082.9,432.1M1082.9,432.1L1077.5,420.4M1142.5,447.2L1126.5,440.3M1082.9,432.1L1082.9,453.1M1082.9,453.1L1075.8,463.3M1075.8,463.3L1044.6,464.4M1044.6,464.4L1033.3,454.6M1114.2,441.7L1082.9,453.1M1142.5,491.7L1106.4,506.2M1106.4,506.2L1084.2,500.5M1084.2,500.5L1075.8,463.3M1067.7,508.4L1049.6,506.6M1049.6,506.6L1035.8,495.2M1035.8,495.2L1044.6,464.4M1084.2,500.5L1067.7,508.4M1035.8,495.2L1023.1,496.1M1023.1,496.1L1010.3,476.9M919.4,451.2L863.3,477.8M863.3,477.8L858.5,476.2M952.1,539.2L891.3,562.0M891.3,562.0L869.9,548.1M855.5,500.4L863.3,477.8M950.9,479.2L952.1,539.2M1023.1,496.1L1012.8,532.8M1012.8,532.8L954.1,540.9M954.1,540.9L952.1,539.2M1049.6,506.6L1052.7,524.2M1052.7,524.2L1038.5,555.9M1038.5,555.9L1036.5,556.5M1036.5,556.5L1012.8,532.8M1067.7,508.4L1052.7,524.2M1142.5,585.5L1083.1,597.8M1083.1,597.8L1073.9,592.0M1073.9,592.0L1038.5,555.9M1106.4,506.2L1142.5,542.3M909.6,603.0L891.3,589.3M891.3,589.3L891.3,562.0M1036.5,556.5L1027.3,581.7M1027.3,581.7L1008.3,599.7M891.3,589.3L868.6,595.5M1073.9,592.0L1027.3,581.7M918.8,649.0L909.6,603.0M1008.3,599.7L1007.0,635.7M1007.0,635.7L966.2,670.9M966.2,670.9L918.8,649.0M949.2,770.5L912.1,780.6M912.1,780.6L905.7,779.6M905.7,779.6L863.5,751.8M966.2,670.9L977.7,707.9M977.7,707.9L949.2,770.5M1083.1,597.8L1074.6,630.0M1074.6,630.0L1047.4,652.1M1047.4,652.1L1007.0,635.7M1142.5,648.9L1116.1,683.0M1116.1,683.0L1098.0,688.6M1098.0,688.6L1074.6,630.0M1098.0,688.6L1095.3,691.3M1095.3,691.3L1072.8,693.3M1072.8,693.3L1047.4,652.1M1072.8,693.3L1036.8,724.6M1036.8,724.6L977.7,707.9M1036.8,792.8L963.3,789.3M963.3,789.3L949.2,770.5M1036.8,724.6L1036.8,792.8M1095.3,691.3L1124.3,728.4M1124.3,728.4L1127.2,768.4M1127.2,768.4L1111.9,792.8M1111.9,792.8L1085.6,805.6M1085.6,805.6L1044.8,803.2M1044.8,803.2L1036.8,792.8M1142.5,683.0L1116.1,683.0M1142.5,733.1L1124.3,728.4M1142.5,765.6L1127.2,768.4M1142.5,807.4L1111.9,792.8M905.7,779.6L879.8,797.2M879.8,797.2L859.8,793.7M888.3,824.3L879.5,819.0M879.5,819.0L875.8,811.6M875.8,811.6L879.8,797.2M917.5,807.8L888.3,824.3M963.3,789.3L952.7,822.8M952.7,822.8L917.5,807.8M1044.6,804.5L1005.3,858.4M1005.3,858.4L961.4,849.9M961.4,849.9L952.7,822.8M1044.8,803.2L1044.6,804.5M884.2,865.2L881.4,853.1M881.4,853.1L882.9,839.1M882.9,839.1L888.3,824.3M961.4,849.9L954.3,865.2M954.3,865.2L884.2,865.2M875.8,811.6L868.7,810.6M874.8,829.4L863.8,834.9M879.5,819.0L874.8,829.4M874.8,829.4L882.9,839.1M881.4,853.1L863.8,841.9M884.2,865.2L883.1,866.4M883.1,866.4L864.9,865.1M1046.6,865.0L1006.4,860.0M1006.4,860.0L1005.3,858.4M1044.6,804.5L1056.9,850.6M1056.9,850.6L1056.3,853.1M1056.3,853.1L1046.6,865.0M1085.6,805.6L1095.2,838.6M1095.2,838.6L1056.9,850.6M1142.5,830.2L1104.5,846.2M1104.5,846.2L1095.2,838.6M1106.3,858.4L1056.3,853.1M1104.5,846.2L1106.3,858.4M1142.5,858.8L1109.9,862.9M1109.9,862.9L1106.3,858.4M883.1,866.4L867.8,898.9M907.9,946.3L866.8,901.6M954.3,865.2L963.5,886.0M963.5,886.0L964.1,913.2M964.1,913.2L937.2,948.7M937.2,948.7L907.9,946.3M907.9,946.3L862.7,970.0M1006.4,860.0L1009.7,882.7M1009.7,882.7L1002.9,890.4M1002.9,890.4L963.5,886.0M1046.6,865.0L1041.7,880.6M1041.7,880.6L1009.7,882.7M1109.9,862.9L1118.2,899.9M1118.2,899.9L1059.5,911.6M1059.5,911.6L1041.7,880.6M1142.5,913.8L1118.2,899.9M994.6,922.5L964.1,913.2M1002.9,890.4L994.6,922.5M1048.0,940.4L1020.6,945.7M1020.6,945.7L997.7,929.3M997.7,929.3L994.6,922.5M1059.5,911.6L1048.0,940.4M997.7,929.3L994.6,954.3M994.6,954.3L957.5,970.1M957.5,970.1L937.2,948.7M1142.5,935.4L1111.4,978.1M1111.4,978.1L1109.3,979.0M1109.3,979.0L1065.5,969.3M1065.5,969.3L1052.6,956.4M1052.6,956.4L1048.0,940.4M1020.6,945.7L1017.4,958.6M1017.4,958.6L994.6,954.3M1052.6,956.4L1045.7,974.2M1045.7,974.2L1040.4,978.0M1040.4,978.0L1017.4,958.6M957.5,970.1L945.0,1142.5M1040.4,978.0L1030.9,1142.5M1045.7,974.2L1065.5,969.3M1109.3,979.0L1109.3,1142.5M1111.4,978.1L1142.5,987.4" fill="none" stroke="#3c5a6a" stroke-opacity="0.42" stroke-width="1.6" stroke-linecap="round" filter="url(#soft)"/>
</g>
<rect x="50.5" y="53" width="59.5" height="51" fill="#fff"/>
<text x="80.5" y="90.5" font-size="52" text-anchor="middle" >(a)</text>
<rect x="32" y="936" width="308.5" height="201" fill="#fff"/>
<g clip-path="url(#ipfclip)"><g filter="url(#soft)"><rect x="48.4" y="977.5" width="273.6" height="4.6" fill="url(#ig0)"/><rect x="56.2" y="981.5" width="265.8" height="4.6" fill="url(#ig1)"/><rect x="64.0" y="985.5" width="258.0" height="4.6" fill="url(#ig2)"/><rect x="71.8" y="989.5" width="250.2" height="4.6" fill="url(#ig3)"/><rect x="79.6" y="993.5" width="242.4" height="4.6" fill="url(#ig4)"/><rect x="87.4" y="997.5" width="234.6" height="4.6" fill="url(#ig5)"/><rect x="95.2" y="1001.5" width="226.8" height="4.6" fill="url(#ig6)"/><rect x="103.0" y="1005.5" width="219.0" height="4.6" fill="url(#ig7)"/><rect x="110.8" y="1009.5" width="211.2" height="4.6" fill="url(#ig8)"/><rect x="118.6" y="1013.5" width="203.4" height="4.6" fill="url(#ig9)"/><rect x="126.4" y="1017.5" width="195.6" height="4.6" fill="url(#ig10)"/><rect x="134.2" y="1021.5" width="187.8" height="4.6" fill="url(#ig11)"/><rect x="142.0" y="1025.5" width="180.0" height="4.6" fill="url(#ig12)"/><rect x="149.8" y="1029.5" width="172.2" height="4.6" fill="url(#ig13)"/><rect x="157.6" y="1033.5" width="164.4" height="4.6" fill="url(#ig14)"/><rect x="165.4" y="1037.5" width="156.6" height="4.6" fill="url(#ig15)"/><rect x="173.2" y="1041.5" width="148.8" height="4.6" fill="url(#ig16)"/><rect x="181.0" y="1045.5" width="141.0" height="4.6" fill="url(#ig17)"/><rect x="188.8" y="1049.5" width="133.2" height="4.6" fill="url(#ig18)"/><rect x="196.6" y="1053.5" width="125.4" height="4.6" fill="url(#ig19)"/><rect x="204.4" y="1057.5" width="117.6" height="4.6" fill="url(#ig20)"/><rect x="212.2" y="1061.5" width="109.8" height="4.6" fill="url(#ig21)"/><rect x="220.0" y="1065.5" width="102.0" height="4.6" fill="url(#ig22)"/><rect x="227.8" y="1069.5" width="94.2" height="4.6" fill="url(#ig23)"/><rect x="235.6" y="1073.5" width="86.4" height="4.6" fill="url(#ig24)"/><rect x="243.4" y="1077.5" width="78.6" height="4.6" fill="url(#ig25)"/><rect x="251.2" y="1081.5" width="70.8" height="4.6" fill="url(#ig26)"/><rect x="259.0" y="1085.5" width="63.0" height="4.6" fill="url(#ig27)"/><rect x="266.8" y="1089.5" width="55.2" height="4.6" fill="url(#ig28)"/><rect x="274.6" y="1093.5" width="47.4" height="4.6" fill="url(#ig29)"/></g></g><path d="M47.5,977.5 L316.0,977.5 Q314.0,1045.5 281.5,1097.5 Z" fill="none" stroke="#401020" stroke-opacity="0.35" stroke-width="1.2"/>
<text x="36.5" y="969.5" font-size="35" text-anchor="start" >0002</text>
<text x="268.5" y="969.5" font-size="35" text-anchor="start" >1010</text>
<line x1="305.6" y1="941.5" x2="318.9" y2="941.5" stroke="#222" stroke-width="2"/>
<text x="72.5" y="1102.5" font-size="35" text-anchor="start" >RD</text>
<text x="251.5" y="1131" font-size="35" text-anchor="start" >2110</text>
<line x1="271.1" y1="1103.0" x2="284.4" y2="1103.0" stroke="#222" stroke-width="2"/>
<line x1="288.6" y1="1103.0" x2="301.9" y2="1103.0" stroke="#222" stroke-width="2"/>
<rect x="754.5" y="1045.5" width="382" height="91" fill="#fff"/>
<rect x="761" y="1116.5" width="368.5" height="13.5" fill="#000"/>
<text x="943" y="1092.5" font-size="52" text-anchor="middle" style="fill:#000">50 μm</text>
<rect x="32" y="33" width="1104.5" height="1103.5" fill="none" stroke="#9a9a9a" stroke-width="1.5"/>
<g clip-path="url(#clipB)">
<rect x="1151.5" y="33.0" width="1105.5" height="1103.5" fill="#868686"/>
<g stroke-width="1" stroke-linejoin="round">
<path d="M1235.0,46.8L1282.7,35.7L1308.9,68.8L1310.3,97.7L1300.4,114.5L1277.2,121.9L1236.4,114.7L1208.2,85.9ZM1235.0,27.0L1284.8,27.0L1282.7,35.7L1235.0,46.8ZM1284.8,27.0L1320.2,27.0L1325.1,53.5L1308.9,68.8L1282.7,35.7ZM1376.2,27.0L1410.6,27.0L1429.8,58.4L1416.3,85.4L1391.2,85.4L1374.6,65.1L1371.4,47.7ZM1374.6,65.1L1348.7,70.4L1345.5,63.7L1371.4,47.7ZM1305.6,191.2L1274.8,186.8L1253.4,162.4L1251.6,157.1L1277.2,121.9L1300.4,114.5L1331.5,150.8L1331.8,164.9ZM1277.2,121.9L1251.6,157.1L1242.5,150.6L1236.4,114.7ZM1236.4,114.7L1242.5,150.6L1198.5,173.5L1145.5,131.1L1145.5,131.1L1205.9,85.8L1208.2,85.9ZM1177.0,210.6L1145.5,194.2L1145.5,131.1L1198.5,173.5L1198.5,207.1ZM1253.4,162.4L1240.6,205.1L1218.6,217.2L1198.5,207.1L1198.5,173.5L1242.5,150.6L1251.6,157.1ZM1416.1,153.4L1384.0,161.9L1362.1,130.8L1364.1,109.9L1391.2,85.4L1416.3,85.4L1431.7,103.5ZM1433.1,198.7L1385.5,191.9L1378.7,178.7L1384.0,161.9L1416.1,153.4ZM1352.1,243.1L1308.5,212.0L1305.1,194.9L1305.6,191.2L1331.8,164.9L1378.7,178.7L1385.5,191.9L1372.0,237.0ZM1436.5,201.8L1425.4,253.6L1410.4,263.0L1372.0,237.0L1385.5,191.9L1433.1,198.7ZM1217.0,289.9L1152.9,307.5L1145.5,306.3L1145.5,240.7L1177.0,210.6L1198.5,207.1L1218.6,217.2L1229.3,267.4ZM1203.3,356.4L1194.5,386.1L1153.3,405.2L1145.5,404.6L1145.5,306.3L1152.9,307.5L1181.2,325.2ZM1421.2,357.1L1416.3,408.8L1374.4,400.9L1364.1,385.5L1367.4,369.9L1416.1,351.9ZM1275.7,444.3L1292.2,401.2L1313.4,393.9L1336.0,401.9L1350.7,427.6L1350.7,453.0L1318.1,472.5L1288.5,465.3ZM1374.9,466.3L1386.7,520.1L1385.8,521.2L1323.9,513.4L1318.1,472.5L1350.7,453.0ZM1385.0,585.6L1301.3,585.6L1296.5,579.5L1290.5,559.6L1294.2,538.9L1323.9,513.4L1385.8,521.2L1391.1,572.1ZM1257.8,652.7L1233.7,629.6L1232.6,592.0L1240.6,586.8L1296.5,579.5L1301.3,585.6L1308.2,612.3L1304.8,623.5ZM1364.9,622.8L1308.2,612.3L1301.3,585.6L1385.0,585.6L1385.5,591.1ZM1417.7,602.4L1431.8,633.0L1416.4,658.1L1367.2,655.2L1364.9,622.8L1385.5,591.1ZM1145.5,703.0L1145.5,635.6L1202.7,632.5L1211.0,638.5L1219.5,668.5L1208.4,695.9L1204.8,699.8L1186.6,706.5ZM1415.3,755.2L1390.8,794.3L1375.6,800.3L1328.7,780.8L1312.9,742.9L1332.2,705.1L1352.7,687.6L1426.2,723.5ZM1379.6,832.9L1370.9,858.1L1358.2,869.4L1295.9,869.4L1295.3,868.5L1283.5,823.2L1296.7,792.6L1328.7,780.8L1375.6,800.3ZM1198.7,868.7L1179.5,865.8L1150.5,808.0L1201.1,789.8L1236.7,808.2L1243.1,820.6L1232.6,861.5L1227.2,868.7ZM1295.3,868.5L1232.6,861.5L1243.1,820.6L1283.5,823.2ZM1540.1,59.6L1582.4,104.5L1576.1,115.6L1531.9,130.0L1501.3,95.0L1509.8,68.5L1539.2,59.4ZM1615.6,27.0L1641.1,27.0L1643.9,42.4L1625.0,86.5L1589.7,97.9L1585.1,68.6ZM1643.9,42.4L1683.8,76.4L1681.9,95.6L1625.0,86.5ZM1433.1,198.7L1416.1,153.4L1431.7,103.5L1478.1,88.7L1501.3,95.0L1531.9,130.0L1526.9,182.4L1509.4,202.6L1464.2,210.2L1436.5,201.8ZM1625.0,86.5L1681.9,95.6L1704.8,114.1L1711.4,137.8L1694.4,205.7L1668.0,225.0L1632.8,225.0L1589.7,203.4L1576.1,183.7L1576.1,115.6L1582.4,104.5L1589.7,97.9ZM1464.2,210.2L1457.3,256.4L1425.4,253.6L1436.5,201.8ZM1670.7,234.5L1648.0,271.8L1624.6,250.6L1632.8,225.0L1668.0,225.0ZM1613.2,439.4L1601.6,395.8L1604.1,381.0L1618.5,362.4L1685.8,345.5L1714.6,437.9L1707.7,442.9L1636.4,453.3ZM1520.6,358.1L1534.2,379.7L1541.4,419.0L1521.5,446.1L1481.7,461.3L1469.5,459.1L1421.9,421.9L1418.4,410.6L1432.0,361.6L1477.8,342.5L1499.4,344.2ZM1707.7,442.9L1707.7,514.8L1692.4,531.1L1673.5,528.7L1651.2,525.3L1625.1,493.0L1636.4,453.3ZM1488.7,525.8L1455.1,520.6L1461.4,495.6L1481.7,488.1L1499.1,507.4ZM1579.0,559.8L1546.9,583.2L1508.3,585.1L1503.6,582.2L1502.3,580.8L1494.0,569.5L1488.7,525.8L1499.1,507.4L1542.9,489.9L1575.7,509.5L1580.8,555.9ZM1419.4,573.2L1437.1,523.7L1449.1,524.3L1460.1,572.4L1453.6,580.8L1449.7,584.3L1435.9,584.7ZM1453.6,580.8L1502.3,580.8L1503.6,582.2L1466.3,616.1L1449.7,584.3ZM1635.6,662.2L1618.7,667.0L1561.4,624.1L1567.8,599.4L1579.0,586.5L1634.9,577.5L1655.0,592.2L1660.2,636.7ZM1617.4,717.8L1609.6,700.3L1617.3,683.1L1638.1,668.0L1676.3,675.3L1681.7,680.4L1691.2,718.1L1672.5,731.9ZM1502.6,746.4L1493.4,725.7L1493.4,707.8L1510.8,682.3L1534.4,679.8L1559.3,705.5L1555.9,741.7L1541.5,756.2ZM1415.3,805.6L1415.3,755.2L1426.2,723.5L1427.1,722.9L1469.8,730.2L1472.4,731.5L1495.3,750.2L1492.6,800.6L1460.8,829.3L1427.7,822.6L1427.4,822.5ZM1495.3,750.2L1502.6,746.4L1541.5,756.2L1548.6,772.9L1530.2,801.6L1492.6,800.6ZM1693.3,718.5L1710.0,778.7L1709.6,779.2L1693.3,783.6L1679.2,778.9L1672.5,731.9L1691.2,718.1ZM1527.9,876.1L1481.2,871.8L1465.7,851.7L1460.8,829.3L1492.6,800.6L1530.2,801.6L1556.7,840.1L1546.1,867.0ZM1699.1,961.9L1693.0,984.1L1671.5,1011.0L1659.0,1014.2L1624.2,1011.3L1605.5,1001.0L1594.3,974.5L1616.0,922.3L1659.7,916.5L1700.4,949.8ZM1498.7,1083.7L1443.6,1048.0L1495.3,1027.7L1505.2,1030.5L1510.9,1075.7ZM1510.9,1075.7L1505.2,1030.5L1530.4,1006.1L1558.3,1001.9L1589.2,1016.5L1600.9,1051.6L1600.4,1057.5L1583.2,1085.1L1552.3,1096.9ZM1886.2,27.0L1893.6,27.0L1914.0,110.5L1911.7,114.5L1843.9,128.9L1825.7,118.0L1827.4,69.4ZM1893.6,27.0L1983.1,27.0L1979.7,46.2L1967.6,98.7L1914.0,110.5ZM1843.9,128.9L1866.9,170.6L1861.2,201.5L1799.2,212.5L1779.2,190.2L1775.4,147.5L1780.9,137.6L1825.7,118.0ZM1863.5,204.5L1865.2,247.8L1841.8,277.3L1798.9,264.0L1797.7,261.6L1791.9,225.7L1799.2,212.5L1861.2,201.5ZM1711.4,137.8L1775.4,147.5L1779.2,190.2L1756.9,220.4L1751.1,222.7L1708.6,216.5L1694.4,205.7ZM1770.9,244.9L1797.7,261.6L1798.9,264.0L1793.6,285.2L1775.2,299.0L1753.9,299.0L1742.6,283.1L1742.6,251.9ZM1985.1,206.6L1974.8,274.7L1968.2,280.4L1925.4,285.9L1910.3,275.7L1897.3,251.4L1899.3,218.6L1928.6,196.9L1973.3,200.3ZM1769.9,338.2L1778.5,389.8L1723.9,438.9L1714.6,437.9L1685.8,345.5L1691.4,332.4L1697.7,326.6L1747.5,326.6ZM1870.3,527.0L1880.3,486.9L1891.9,477.4L1931.6,474.8L1966.7,514.7L1963.3,541.5L1938.1,568.4L1882.2,560.2ZM1774.2,528.5L1754.8,530.3L1727.9,522.3L1720.8,514.4L1752.2,463.7L1759.6,465.7L1782.0,519.0ZM1722.1,709.9L1691.9,675.9L1694.5,642.0L1704.3,633.4L1723.6,625.5L1743.3,626.4L1743.3,712.7ZM1846.1,645.6L1830.6,630.9L1840.8,608.8L1877.6,605.2L1884.5,617.8ZM1827.5,782.5L1830.4,732.7L1851.2,727.3L1882.8,754.7L1876.3,784.8ZM1755.3,737.2L1820.1,788.1L1802.8,847.6L1785.0,850.3L1738.4,850.3L1711.4,815.7L1709.6,779.2L1710.0,778.7ZM1808.7,1056.2L1808.7,1088.7L1800.5,1101.2L1769.1,1118.9L1738.9,1074.8L1759.7,1041.5L1794.5,1032.3ZM1983.1,27.0L2025.9,27.0L2054.8,65.1L2038.9,124.8L2004.4,126.1L1979.8,110.2L1972.8,101.2L1979.7,46.2ZM2054.8,65.1L2089.3,53.9L2129.5,95.6L2132.5,111.2L2121.5,137.7L2060.8,148.3L2038.9,124.8ZM2186.9,118.4L2132.5,111.2L2129.5,95.6L2165.3,45.2L2196.4,72.7L2191.0,115.8ZM2025.9,27.0L2096.1,27.0L2089.3,53.9L2054.8,65.1ZM2129.9,155.0L2107.5,188.0L2060.8,156.9L2060.8,148.3L2121.5,137.7ZM2140.6,159.7L2156.2,182.6L2150.4,204.2L2116.5,218.5L2116.3,218.4L2107.5,188.0L2129.9,155.0ZM2214.5,210.0L2183.4,228.6L2150.4,204.2L2156.2,182.6L2197.2,174.4ZM2215.9,210.7L2223.1,246.8L2218.6,255.9L2204.5,261.3L2181.8,255.0L2183.4,228.6L2214.5,210.0ZM2226.3,310.1L2168.0,307.4L2169.9,287.0L2187.6,273.4L2202.2,271.1L2223.1,284.1L2228.3,305.8ZM2090.3,345.1L2089.2,370.1L2034.5,430.1L1985.3,410.4L1968.0,367.6L1977.1,326.3L1980.6,320.9L2006.9,304.9L2075.2,307.7ZM2195.3,370.5L2156.7,401.4L2118.5,368.6L2118.1,364.6L2165.0,323.8L2194.9,364.1ZM2090.3,345.1L2118.1,364.6L2118.5,368.6L2089.2,370.1ZM2152.8,454.6L2164.1,464.4L2155.3,495.2L2142.6,496.1L2129.8,476.9ZM2071.6,539.2L2010.8,562.0L1989.4,548.1L1971.9,512.0L1975.0,500.4L1982.8,477.8L2038.9,451.2L2070.4,479.2ZM2129.8,476.9L2142.6,496.1L2132.3,532.8L2073.6,540.9L2071.6,539.2L2070.4,479.2ZM2262.0,542.3L2262.0,585.5L2202.6,597.8L2193.4,592.0L2158.0,555.9L2172.2,524.2L2187.2,508.4L2203.7,500.5L2225.9,506.2ZM2073.6,540.9L2077.3,570.9L2029.1,603.0L2010.8,589.3L2010.8,562.0L2071.6,539.2ZM2127.8,599.7L2077.3,570.9L2073.6,540.9L2132.3,532.8L2156.0,556.5L2146.8,581.7ZM2038.3,649.0L2029.1,603.0L2077.3,570.9L2127.8,599.7L2126.5,635.7L2085.7,670.9ZM1989.5,666.8L1971.1,636.6L1971.1,611.2L1988.1,595.5L2010.8,589.3L2029.1,603.0L2038.3,649.0ZM2068.7,770.5L2031.6,780.6L2025.2,779.6L1983.0,751.8L1978.1,746.0L1972.9,697.5L1985.1,670.3L1989.5,666.8L2038.3,649.0L2085.7,670.9L2097.2,707.9ZM2166.9,652.1L2192.3,693.3L2156.3,724.6L2097.2,707.9L2085.7,670.9L2126.5,635.7ZM2214.8,691.3L2243.8,728.4L2246.7,768.4L2231.4,792.8L2205.1,805.6L2164.3,803.2L2156.3,792.8L2156.3,724.6L2192.3,693.3ZM2164.1,804.5L2124.8,858.4L2080.9,849.9L2072.2,822.8L2082.8,789.3L2156.3,792.8L2164.3,803.2ZM2114.1,922.5L2083.6,913.2L2083.0,886.0L2122.4,890.4ZM2262.0,913.8L2262.0,935.4L2230.9,978.1L2228.8,979.0L2185.0,969.3L2172.1,956.4L2167.5,940.4L2179.0,911.6L2237.7,899.9Z" fill="#929292" stroke="#929292"/>
<path d="M1320.2,27.0L1376.2,27.0L1371.4,47.7L1345.5,63.7L1325.1,53.5ZM1240.6,205.1L1268.9,203.4L1287.6,215.9L1291.4,222.6L1292.6,269.0L1286.4,276.1L1229.3,267.4L1218.6,217.2ZM1291.4,222.6L1308.5,212.0L1352.1,243.1L1328.0,269.0L1292.6,269.0ZM1172.4,463.8L1180.5,425.3L1197.5,424.1L1218.0,440.7L1199.8,474.1ZM1290.5,559.6L1248.3,566.1L1228.0,553.9L1224.3,538.3L1235.7,515.6L1267.0,509.6L1294.2,538.9ZM1174.0,580.9L1145.5,554.2L1145.5,530.9L1188.5,519.6L1224.3,538.3L1228.0,553.9L1217.7,585.6L1211.5,588.4ZM1233.7,629.6L1211.0,638.5L1202.7,632.5L1211.5,588.4L1217.7,585.6L1232.6,592.0ZM1253.3,668.5L1219.5,668.5L1211.0,638.5L1233.7,629.6L1257.8,652.7ZM1332.2,705.1L1291.4,712.0L1256.2,683.1L1253.3,668.5L1257.8,652.7L1304.8,623.5L1354.8,671.3L1352.7,687.6ZM1291.4,712.0L1285.3,729.4L1260.1,729.4L1259.9,729.2L1252.5,690.9L1256.2,683.1ZM1312.9,742.9L1300.9,743.2L1285.3,729.4L1291.4,712.0L1332.2,705.1ZM1145.5,807.4L1145.5,703.0L1186.6,706.5L1220.9,754.5L1201.1,789.8L1150.5,808.0ZM1236.7,808.2L1251.4,771.6L1288.7,779.9L1296.7,792.6L1283.5,823.2L1243.1,820.6ZM1215.3,923.3L1187.4,910.9L1182.2,871.0L1198.7,868.7L1227.2,868.7L1233.9,886.5L1225.2,915.8ZM1268.3,971.2L1225.2,915.8L1233.9,886.5L1289.8,886.5L1293.4,908.4ZM1382.9,898.4L1391.7,866.0L1402.7,860.3L1424.8,864.0L1426.5,865.4L1432.4,914.8L1398.9,917.3ZM1498.6,27.0L1535.9,27.0L1539.2,59.4L1509.8,68.5L1508.8,67.7ZM1525.2,254.1L1475.0,274.1L1457.3,256.4L1464.2,210.2L1509.4,202.6L1526.5,250.4ZM1519.7,317.6L1476.9,301.9L1475.0,299.3L1475.0,274.1L1525.2,254.1L1540.5,284.7L1532.5,314.9ZM1632.8,225.0L1624.6,250.6L1580.1,258.0L1575.5,250.4L1589.7,203.4ZM1624.6,250.6L1648.0,271.8L1649.4,285.3L1641.3,301.5L1592.0,311.8L1584.9,304.1L1574.5,279.0L1580.1,258.0ZM1469.5,459.1L1448.1,478.2L1430.6,477.6L1427.3,476.4L1421.6,468.8L1415.2,443.2L1421.9,421.9ZM1510.8,682.3L1496.3,672.7L1485.6,635.3L1514.3,611.7L1554.9,627.9L1534.4,679.8ZM1493.4,707.8L1476.1,704.8L1472.9,701.3L1496.3,672.7L1510.8,682.3ZM1597.6,706.6L1598.9,731.3L1585.8,751.2L1555.9,741.7L1559.3,705.5ZM1677.9,877.0L1662.0,881.2L1602.0,884.4L1587.8,871.7L1577.8,837.0L1589.0,808.1L1602.8,796.8L1661.3,796.8L1681.0,816.5L1686.9,835.3L1684.4,872.5ZM1465.7,851.7L1426.5,865.4L1424.8,864.0L1427.7,822.6L1460.8,829.3ZM1432.4,914.8L1426.5,865.4L1465.7,851.7L1481.2,871.8L1483.5,882.7L1476.1,905.9L1434.4,916.3ZM1692.2,876.2L1706.8,945.0L1700.4,949.8L1659.7,916.5L1671.9,882.8L1677.9,877.0L1684.4,872.5L1685.0,872.6ZM1519.7,977.6L1530.4,1006.1L1505.2,1030.5L1495.3,1027.7L1479.9,987.3L1506.2,968.8ZM1659.0,1014.2L1631.3,1034.9L1624.2,1011.3ZM1711.9,107.4L1696.1,69.4L1704.2,58.2L1728.3,53.6L1738.8,62.6L1734.4,97.5ZM1742.6,283.1L1701.6,307.3L1704.8,243.3L1707.3,242.2L1742.1,251.2L1742.6,251.9ZM1903.0,425.7L1891.9,477.4L1880.3,486.9L1865.1,491.1L1834.6,491.8L1796.6,450.0L1806.4,401.1L1820.6,390.5L1858.3,388.0ZM1958.4,376.2L1950.6,399.6L1915.0,424.8L1903.0,425.7L1858.3,388.0L1857.5,354.7L1875.6,319.1L1876.9,318.7L1923.4,315.8L1935.1,322.7L1947.8,334.7L1960.1,369.0ZM1971.5,421.0L1934.1,443.9L1915.0,424.8L1950.6,399.6L1958.4,401.6L1974.7,414.4ZM1754.8,530.3L1770.7,544.1L1778.2,595.8L1776.6,598.8L1702.5,589.1L1697.7,584.1L1697.7,536.6L1727.9,522.3ZM1826.2,632.2L1836.3,679.7L1835.9,685.8L1811.4,715.0L1757.0,724.1L1743.3,712.7L1743.3,626.4L1776.5,600.0ZM1961.1,657.2L1985.1,670.3L1972.9,697.5L1939.7,699.9L1946.0,660.9ZM1974.1,747.8L1977.6,758.8L1979.3,793.7L1976.2,801.7L1965.6,815.0L1937.6,829.1L1898.2,822.4L1876.3,784.8L1882.8,754.7L1900.8,728.3L1924.8,719.6ZM1937.6,829.1L1944.7,857.7L1937.7,868.7L1889.0,848.1L1898.2,822.4ZM1706.8,945.0L1692.2,876.2L1735.2,854.3L1737.3,853.6L1761.7,866.6L1788.2,895.5L1791.2,916.1L1758.5,949.5ZM1788.2,895.5L1761.7,866.6L1785.0,850.3L1802.8,847.6L1806.5,853.6ZM1889.0,848.1L1937.7,868.7L1942.6,897.0L1915.0,926.3L1860.5,915.7L1858.8,872.6ZM1910.7,972.6L1858.9,954.3L1850.4,928.6L1860.5,915.7L1915.0,926.3L1918.8,965.8ZM1982.3,1142.5L1861.9,1142.5L1828.6,1095.9L1825.4,1088.7L1829.5,1066.6L1873.5,1040.5L1894.7,1044.4ZM2096.1,27.0L2161.8,27.0L2165.3,45.2L2129.5,95.6L2089.3,53.9ZM2161.8,27.0L2225.3,27.0L2220.9,59.3L2196.4,72.7L2165.3,45.2ZM2060.8,156.9L2007.2,210.5L1991.1,205.5L1980.8,151.8L1981.7,149.9L2004.4,126.1L2038.9,124.8L2060.8,148.3ZM2060.8,156.9L2107.5,188.0L2116.3,218.4L2061.4,260.5L2026.3,246.5L2007.2,210.5ZM2116.5,218.5L2129.7,257.1L2091.1,293.9L2079.1,298.5L2061.4,260.5L2116.3,218.4ZM2091.1,293.9L2165.9,310.9L2165.0,323.8L2118.1,364.6L2090.3,345.1L2075.2,307.7L2079.1,298.5ZM2262.0,344.1L2262.0,363.3L2203.6,377.9L2195.3,370.5L2194.9,364.1L2230.0,326.8ZM2187.2,508.4L2169.1,506.6L2155.3,495.2L2164.1,464.4L2195.3,463.3L2203.7,500.5ZM2194.1,630.0L2217.5,688.6L2214.8,691.3L2192.3,693.3L2166.9,652.1ZM2124.8,858.4L2125.9,860.0L2129.2,882.7L2122.4,890.4L2083.0,886.0L2073.8,865.2L2080.9,849.9ZM2175.8,853.1L2225.8,858.4L2229.4,862.9L2237.7,899.9L2179.0,911.6L2161.2,880.6L2166.1,865.0ZM2167.5,940.4L2140.1,945.7L2117.2,929.3L2114.1,922.5L2122.4,890.4L2129.2,882.7L2161.2,880.6L2179.0,911.6ZM2117.2,929.3L2114.1,954.3L2077.0,970.1L2056.7,948.7L2083.6,913.2L2114.1,922.5ZM2228.8,1142.5L2150.4,1142.5L2159.9,978.0L2165.2,974.2L2185.0,969.3L2228.8,979.0Z" fill="#6e6e6e" stroke="#6e6e6e"/>
<path d="M1345.5,63.7L1348.7,70.4L1343.0,93.0L1310.3,97.7L1308.9,68.8L1325.1,53.5ZM1226.7,313.0L1217.0,289.9L1229.3,267.4L1286.4,276.1L1285.2,302.0ZM1216.8,354.8L1203.3,356.4L1181.2,325.2L1224.1,317.3ZM1206.8,394.6L1194.5,386.1L1203.3,356.4L1216.8,354.8L1234.9,387.9L1233.8,389.4ZM1232.6,861.5L1295.3,868.5L1295.9,869.4L1289.8,886.5L1233.9,886.5L1227.2,868.7ZM1341.7,951.9L1293.4,908.4L1289.8,886.5L1295.9,869.4L1358.2,869.4L1370.2,896.9ZM1589.7,203.4L1575.5,250.4L1526.5,250.4L1509.4,202.6L1526.9,182.4L1576.1,183.7ZM1574.5,279.0L1540.5,284.7L1525.2,254.1L1526.5,250.4L1575.5,250.4L1580.1,258.0ZM1536.0,318.1L1584.9,304.1L1592.0,311.8L1593.7,326.5L1547.2,342.0ZM1540.1,356.3L1520.6,358.1L1499.4,344.2L1500.4,333.7L1519.7,317.6L1532.5,314.9L1536.0,318.1L1547.2,342.0L1547.0,348.9ZM1547.2,342.0L1593.7,326.5L1598.5,334.1L1587.4,356.4L1547.0,348.9ZM1587.4,356.4L1598.5,334.1L1604.9,336.3L1618.5,362.4L1604.1,381.0ZM1477.8,342.5L1483.4,326.3L1500.4,333.7L1499.4,344.2ZM1561.1,985.9L1558.3,1001.9L1530.4,1006.1L1519.7,977.6ZM1605.5,1001.0L1589.2,1016.5L1558.3,1001.9L1561.1,985.9L1594.3,974.5ZM1843.9,128.9L1911.7,114.5L1914.0,150.0L1866.9,170.6ZM1923.3,158.9L1928.6,196.9L1899.3,218.6L1877.9,213.5L1863.5,204.5L1861.2,201.5L1866.9,170.6L1914.0,150.0ZM1791.9,225.7L1775.1,229.0L1756.9,220.4L1779.2,190.2L1799.2,212.5ZM1797.7,261.6L1770.9,244.9L1775.1,229.0L1791.9,225.7ZM1778.3,334.3L1822.5,369.7L1820.6,390.5L1806.4,401.1L1778.5,389.8L1769.9,338.2ZM1723.9,438.9L1778.5,389.8L1806.4,401.1L1796.6,450.0L1759.6,465.7L1752.2,463.7ZM1834.6,491.8L1825.9,512.8L1782.0,519.0L1759.6,465.7L1796.6,450.0ZM1832.0,584.2L1832.8,585.0L1840.8,608.8L1830.6,630.9L1826.2,632.2L1776.5,600.0L1776.6,598.8L1778.2,595.8ZM1830.6,630.9L1846.1,645.6L1836.3,679.7L1826.2,632.2ZM2204.5,261.3L2202.2,271.1L2187.6,273.4L2177.2,261.2L2181.8,255.0ZM2223.1,246.8L2258.9,258.7L2230.3,268.7L2218.6,255.9ZM2165.2,974.2L2172.1,956.4L2185.0,969.3Z" fill="#888888" stroke="#888888"/>
<path d="M1364.1,109.9L1343.0,93.0L1348.7,70.4L1374.6,65.1L1391.2,85.4ZM1362.1,130.8L1331.5,150.8L1300.4,114.5L1310.3,97.7L1343.0,93.0L1364.1,109.9ZM1331.5,150.8L1362.1,130.8L1384.0,161.9L1378.7,178.7L1331.8,164.9ZM1274.8,186.8L1268.9,203.4L1240.6,205.1L1253.4,162.4ZM1305.1,194.9L1287.6,215.9L1268.9,203.4L1274.8,186.8L1305.6,191.2ZM1308.5,212.0L1291.4,222.6L1287.6,215.9L1305.1,194.9ZM1408.2,299.0L1339.0,310.2L1328.0,269.0L1352.1,243.1L1372.0,237.0L1410.4,263.0ZM1328.0,269.0L1339.0,310.2L1331.6,321.5L1301.1,319.2L1285.2,302.0L1286.4,276.1L1292.6,269.0ZM1306.4,357.7L1278.9,387.9L1234.9,387.9L1216.8,354.8L1224.1,317.3L1226.7,313.0L1285.2,302.0L1301.1,319.2L1308.3,351.6ZM1367.4,369.9L1333.4,338.5L1331.6,321.5L1339.0,310.2L1408.2,299.0L1415.3,310.4L1416.1,351.9ZM1306.4,357.7L1313.4,393.9L1292.2,401.2L1278.9,387.9ZM1218.0,440.7L1197.5,424.1L1206.8,394.6L1233.8,389.4L1236.9,432.9ZM1374.4,400.9L1350.7,427.6L1336.0,401.9L1364.1,385.5ZM1235.7,515.6L1224.3,538.3L1188.5,519.6L1204.9,490.5ZM1145.5,635.6L1145.5,592.9L1174.0,580.9L1211.5,588.4L1202.7,632.5ZM1354.8,671.3L1304.8,623.5L1308.2,612.3L1364.9,622.8L1367.2,655.2ZM1221.9,754.1L1248.9,767.0L1251.4,771.6L1236.7,808.2L1201.1,789.8L1220.9,754.5ZM1427.4,822.5L1406.5,837.4L1379.6,832.9L1375.6,800.3L1390.8,794.3L1415.3,805.6ZM1406.5,837.4L1402.7,860.3L1391.7,866.0L1370.9,858.1L1379.6,832.9ZM1445.9,27.0L1472.0,27.0L1469.2,59.3L1431.6,57.4ZM1416.3,85.4L1429.8,58.4L1431.6,57.4L1469.2,59.3L1478.1,71.2L1478.1,88.7L1431.7,103.5ZM1576.1,183.7L1526.9,182.4L1531.9,130.0L1576.1,115.6ZM1475.0,299.3L1415.3,310.4L1408.2,299.0L1410.4,263.0L1425.4,253.6L1457.3,256.4L1475.0,274.1ZM1704.8,243.3L1701.6,307.3L1696.7,315.4L1649.4,285.3L1648.0,271.8L1670.7,234.5ZM1483.4,326.3L1477.8,342.5L1432.0,361.6L1421.2,357.1L1416.1,351.9L1415.3,310.4L1475.0,299.3L1476.9,301.9ZM1618.5,362.4L1604.9,336.3L1641.4,302.0L1691.4,332.4L1685.8,345.5ZM1601.6,395.8L1558.7,425.1L1541.4,419.0L1534.2,379.7L1540.1,356.3L1547.0,348.9L1587.4,356.4L1604.1,381.0ZM1540.2,466.7L1563.9,433.5L1605.5,443.6L1605.5,496.1L1575.7,509.5L1542.9,489.9ZM1636.4,453.3L1625.1,493.0L1615.3,498.1L1605.5,496.1L1605.5,443.6L1613.2,439.4ZM1418.9,514.6L1430.6,477.6L1448.1,478.2L1461.4,495.6L1455.1,520.6L1449.1,524.3L1437.1,523.7ZM1636.3,533.6L1650.6,526.5L1673.5,528.7L1692.4,531.1L1693.4,533.6L1688.0,580.3L1655.0,592.2L1634.9,577.5L1627.7,552.4ZM1579.0,586.5L1579.0,559.8L1580.8,555.9L1627.7,552.4L1634.9,577.5ZM1676.3,644.3L1676.3,675.3L1638.1,668.0L1635.6,662.2L1660.2,636.7ZM1602.8,796.8L1585.7,752.6L1585.8,751.2L1598.9,731.3L1617.4,717.8L1672.5,731.9L1679.2,778.9L1661.3,796.8ZM1644.1,1095.3L1626.3,1062.4L1627.2,1043.6L1631.3,1034.9L1659.0,1014.2L1671.5,1011.0L1700.0,1022.9L1711.2,1074.8L1691.5,1096.3L1662.7,1103.2ZM1705.2,1142.5L1659.8,1142.5L1662.7,1103.2L1691.5,1096.3ZM1775.4,147.5L1711.4,137.8L1704.8,114.1L1711.9,107.4L1734.4,97.5L1780.9,137.6ZM1824.9,27.0L1886.2,27.0L1827.4,69.4L1818.6,54.2ZM1910.3,275.7L1876.9,318.7L1875.6,319.1L1843.8,290.0L1841.8,277.3L1865.2,247.8L1880.4,245.3L1897.3,251.4ZM1962.9,164.0L1973.3,200.3L1928.6,196.9L1923.3,158.9ZM1977.1,326.3L1947.8,334.7L1935.1,322.7L1969.9,303.7L1980.6,320.9ZM1934.1,443.9L1971.5,421.0L1976.2,474.6L1935.7,469.9ZM1879.4,585.0L1832.8,585.0L1832.0,584.2L1843.9,559.0L1881.8,561.0L1881.2,581.5ZM1859.9,715.9L1835.9,685.8L1836.3,679.7L1846.1,645.6L1884.5,617.8L1919.7,625.5L1946.0,660.9L1939.7,699.9L1924.8,719.6L1900.8,728.3ZM1858.8,872.6L1806.5,853.6L1802.8,847.6L1820.1,788.1L1827.5,782.5L1876.3,784.8L1898.2,822.4L1889.0,848.1ZM1785.0,850.3L1761.7,866.6L1737.3,853.6L1738.4,850.3ZM1982.2,904.1L1982.2,970.0L1978.3,975.1L1918.8,965.8L1915.0,926.3L1942.6,897.0ZM1858.9,954.3L1840.9,1013.8L1795.1,1029.7L1760.5,999.2L1758.5,949.5L1791.2,916.1L1850.4,928.6ZM1873.5,1040.5L1840.9,1013.8L1858.9,954.3L1910.7,972.6L1894.7,1044.4ZM1700.0,1022.9L1718.0,1008.7L1741.0,1010.7L1759.7,1041.5L1738.9,1074.8L1711.2,1074.8ZM1794.5,1032.3L1759.7,1041.5L1741.0,1010.7L1760.5,999.2L1795.1,1029.7ZM1764.4,1142.5L1705.2,1142.5L1691.5,1096.3L1711.2,1074.8L1738.9,1074.8L1769.1,1118.9ZM2150.4,204.2L2183.4,228.6L2181.8,255.0L2177.2,261.2L2165.4,270.3L2129.7,257.1L2116.5,218.5ZM2262.0,363.3L2262.0,396.9L2241.7,410.6L2209.7,400.9L2203.6,377.9ZM2262.0,447.2L2262.0,491.7L2225.9,506.2L2203.7,500.5L2195.3,463.3L2202.4,453.1L2233.7,441.7L2246.0,440.3ZM2038.9,451.2L1982.8,477.8L1978.0,476.2L1976.2,474.6L1971.5,421.0L1974.7,414.4L1985.3,410.4L2034.5,430.1ZM2156.3,792.8L2082.8,789.3L2068.7,770.5L2097.2,707.9L2156.3,724.6ZM2007.8,824.3L1999.0,819.0L1995.3,811.6L1999.3,797.2L2025.2,779.6L2031.6,780.6L2037.0,807.8ZM2082.8,789.3L2072.2,822.8L2037.0,807.8L2031.6,780.6L2068.7,770.5ZM2166.1,865.0L2125.9,860.0L2124.8,858.4L2164.1,804.5L2176.4,850.6L2175.8,853.1ZM2205.1,805.6L2214.7,838.6L2176.4,850.6L2164.1,804.5L2164.3,803.2ZM2027.4,946.3L1986.3,901.6L1987.3,898.9L2002.6,866.4L2003.7,865.2L2073.8,865.2L2083.0,886.0L2083.6,913.2L2056.7,948.7ZM1982.2,970.0L1982.2,904.1L1986.3,901.6L2027.4,946.3ZM2064.5,1142.5L1998.9,1142.5L1978.3,975.1L1982.2,970.0L2027.4,946.3L2056.7,948.7L2077.0,970.1ZM2150.4,1142.5L2064.5,1142.5L2077.0,970.1L2114.1,954.3L2136.9,958.6L2159.9,978.0Z" fill="#7a7a7a" stroke="#7a7a7a"/>
</g>
<path d="M1189.6,27.0L1191.2,67.1M1191.2,67.1L1145.5,52.5M1191.2,67.1L1205.9,85.8M1205.9,85.8L1145.5,131.1M1235.0,27.0L1235.0,46.8M1235.0,46.8L1208.2,85.9M1208.2,85.9L1205.9,85.8M1308.9,68.8L1310.3,97.7M1310.3,97.7L1300.4,114.5M1320.2,27.0L1325.1,53.5M1325.1,53.5L1308.9,68.8M1376.2,27.0L1371.4,47.7M1371.4,47.7L1345.5,63.7M1345.5,63.7L1325.1,53.5M1410.6,27.0L1429.8,58.4M1429.8,58.4L1416.3,85.4M1416.3,85.4L1391.2,85.4M1391.2,85.4L1374.6,65.1M1374.6,65.1L1371.4,47.7M1374.6,65.1L1348.7,70.4M1348.7,70.4L1345.5,63.7M1348.7,70.4L1343.0,93.0M1343.0,93.0L1310.3,97.7M1364.1,109.9L1343.0,93.0M1391.2,85.4L1364.1,109.9M1362.1,130.8L1331.5,150.8M1331.5,150.8L1300.4,114.5M1364.1,109.9L1362.1,130.8M1362.1,130.8L1384.0,161.9M1384.0,161.9L1378.7,178.7M1378.7,178.7L1331.8,164.9M1331.8,164.9L1331.5,150.8M1305.6,191.2L1274.8,186.8M1274.8,186.8L1253.4,162.4M1331.8,164.9L1305.6,191.2M1198.5,173.5L1145.5,131.1M1177.0,210.6L1145.5,194.2M1198.5,173.5L1198.5,207.1M1198.5,207.1L1177.0,210.6M1253.4,162.4L1240.6,205.1M1240.6,205.1L1218.6,217.2M1218.6,217.2L1198.5,207.1M1416.3,85.4L1431.7,103.5M1433.1,198.7L1385.5,191.9M1385.5,191.9L1378.7,178.7M1352.1,243.1L1308.5,212.0M1308.5,212.0L1305.1,194.9M1305.1,194.9L1305.6,191.2M1385.5,191.9L1372.0,237.0M1372.0,237.0L1352.1,243.1M1425.4,253.6L1410.4,263.0M1410.4,263.0L1372.0,237.0M1433.1,198.7L1436.5,201.8M1274.8,186.8L1268.9,203.4M1268.9,203.4L1240.6,205.1M1287.6,215.9L1268.9,203.4M1308.5,212.0L1291.4,222.6M1291.4,222.6L1287.6,215.9M1292.6,269.0L1286.4,276.1M1286.4,276.1L1229.3,267.4M1229.3,267.4L1218.6,217.2M1352.1,243.1L1328.0,269.0M1328.0,269.0L1292.6,269.0M1217.0,289.9L1152.9,307.5M1145.5,240.7L1177.0,210.6M1229.3,267.4L1217.0,289.9M1331.6,321.5L1301.1,319.2M1301.1,319.2L1285.2,302.0M1285.2,302.0L1286.4,276.1M1226.7,313.0L1217.0,289.9M1285.2,302.0L1226.7,313.0M1203.3,356.4L1194.5,386.1M1194.5,386.1L1153.3,405.2M1153.3,405.2L1145.5,404.6M1152.9,307.5L1181.2,325.2M1181.2,325.2L1203.3,356.4M1224.1,317.3L1181.2,325.2M1226.7,313.0L1224.1,317.3M1224.1,317.3L1216.8,354.8M1206.8,394.6L1194.5,386.1M1216.8,354.8L1234.9,387.9M1234.9,387.9L1233.8,389.4M1233.8,389.4L1206.8,394.6M1306.4,357.7L1278.9,387.9M1278.9,387.9L1234.9,387.9M1301.1,319.2L1308.3,351.6M1308.3,351.6L1306.4,357.7M1333.4,338.5L1308.3,351.6M1331.6,321.5L1333.4,338.5M1367.4,369.9L1333.4,338.5M1416.1,351.9L1367.4,369.9M1364.1,385.5L1336.0,401.9M1336.0,401.9L1313.4,393.9M1313.4,393.9L1306.4,357.7M1367.4,369.9L1364.1,385.5M1313.4,393.9L1292.2,401.2M1292.2,401.2L1278.9,387.9M1421.2,357.1L1416.3,408.8M1416.3,408.8L1374.4,400.9M1374.4,400.9L1364.1,385.5M1416.1,351.9L1421.2,357.1M1432.0,361.6L1418.4,410.6M1418.4,410.6L1416.3,408.8M1421.2,357.1L1432.0,361.6M1206.8,394.6L1197.5,424.1M1197.5,424.1L1180.5,425.3M1180.5,425.3L1153.3,405.2M1218.0,440.7L1197.5,424.1M1233.8,389.4L1236.9,432.9M1236.9,432.9L1218.0,440.7M1292.2,401.2L1275.7,444.3M1275.7,444.3L1236.9,432.9M1336.0,401.9L1350.7,427.6M1350.7,427.6L1350.7,453.0M1350.7,453.0L1318.1,472.5M1318.1,472.5L1288.5,465.3M1288.5,465.3L1275.7,444.3M1374.4,400.9L1350.7,427.6M1418.4,410.6L1421.9,421.9M1421.9,421.9L1415.2,443.2M1415.2,443.2L1407.6,456.4M1407.6,456.4L1374.9,466.3M1374.9,466.3L1350.7,453.0M1180.5,425.3L1172.4,463.8M1172.4,463.8L1145.5,469.0M1218.0,440.7L1199.8,474.1M1199.8,474.1L1172.4,463.8M1288.5,465.3L1267.0,509.6M1267.0,509.6L1235.7,515.6M1235.7,515.6L1204.9,490.5M1204.9,490.5L1199.8,474.1M1204.9,490.5L1188.5,519.6M1188.5,519.6L1145.5,530.9M1235.7,515.6L1224.3,538.3M1224.3,538.3L1188.5,519.6M1290.5,559.6L1248.3,566.1M1248.3,566.1L1228.0,553.9M1228.0,553.9L1224.3,538.3M1267.0,509.6L1294.2,538.9M1294.2,538.9L1290.5,559.6M1318.1,472.5L1323.9,513.4M1323.9,513.4L1294.2,538.9M1374.9,466.3L1386.7,520.1M1386.7,520.1L1385.8,521.2M1301.3,585.6L1296.5,579.5M1296.5,579.5L1290.5,559.6M1385.8,521.2L1391.1,572.1M1391.1,572.1L1385.0,585.6M1427.3,476.4L1412.5,513.4M1412.5,513.4L1386.7,520.1M1407.6,456.4L1421.6,468.8M1421.6,468.8L1427.3,476.4M1415.2,443.2L1421.6,468.8M1174.0,580.9L1145.5,554.2M1228.0,553.9L1217.7,585.6M1217.7,585.6L1211.5,588.4M1211.5,588.4L1174.0,580.9M1174.0,580.9L1145.5,592.9M1296.5,579.5L1240.6,586.8M1240.6,586.8L1248.3,566.1M1437.1,523.7L1419.4,573.2M1419.4,573.2L1391.1,572.1M1412.5,513.4L1418.9,514.6M1418.9,514.6L1437.1,523.7M1430.6,477.6L1418.9,514.6M1427.3,476.4L1430.6,477.6M1240.6,586.8L1232.6,592.0M1232.6,592.0L1217.7,585.6M1211.5,588.4L1202.7,632.5M1202.7,632.5L1145.5,635.6M1211.0,638.5L1202.7,632.5M1232.6,592.0L1233.7,629.6M1253.3,668.5L1219.5,668.5M1219.5,668.5L1211.0,638.5M1233.7,629.6L1257.8,652.7M1257.8,652.7L1253.3,668.5M1301.3,585.6L1308.2,612.3M1308.2,612.3L1304.8,623.5M1304.8,623.5L1257.8,652.7M1364.9,622.8L1308.2,612.3M1385.0,585.6L1385.5,591.1M1385.5,591.1L1364.9,622.8M1354.8,671.3L1304.8,623.5M1364.9,622.8L1367.2,655.2M1367.2,655.2L1354.8,671.3M1417.7,602.4L1431.8,633.0M1431.8,633.0L1416.4,658.1M1416.4,658.1L1367.2,655.2M1385.5,591.1L1417.7,602.4M1435.9,584.7L1417.7,602.4M1419.4,573.2L1435.9,584.7M1219.5,668.5L1208.4,695.9M1208.4,695.9L1204.8,699.8M1204.8,699.8L1186.6,706.5M1186.6,706.5L1145.5,703.0M1332.2,705.1L1291.4,712.0M1291.4,712.0L1256.2,683.1M1256.2,683.1L1253.3,668.5M1354.8,671.3L1352.7,687.6M1352.7,687.6L1332.2,705.1M1416.4,658.1L1432.8,710.1M1432.8,710.1L1427.1,722.9M1427.1,722.9L1426.2,723.5M1426.2,723.5L1352.7,687.6M1252.5,690.9L1208.4,695.9M1256.2,683.1L1252.5,690.9M1229.7,737.1L1204.8,699.8M1252.5,690.9L1259.9,729.2M1259.9,729.2L1229.7,737.1M1285.3,729.4L1260.1,729.4M1260.1,729.4L1259.9,729.2M1312.9,742.9L1300.9,743.2M1300.9,743.2L1285.3,729.4M1332.2,705.1L1312.9,742.9M1415.3,755.2L1390.8,794.3M1390.8,794.3L1375.6,800.3M1375.6,800.3L1328.7,780.8M1328.7,780.8L1312.9,742.9M1426.2,723.5L1415.3,755.2M1186.6,706.5L1220.9,754.5M1220.9,754.5L1201.1,789.8M1201.1,789.8L1150.5,808.0M1150.5,808.0L1145.5,807.4M1229.7,737.1L1221.9,754.1M1221.9,754.1L1220.9,754.5M1260.1,729.4L1248.9,767.0M1248.9,767.0L1221.9,754.1M1300.9,743.2L1288.7,779.9M1288.7,779.9L1251.4,771.6M1251.4,771.6L1248.9,767.0M1296.7,792.6L1288.7,779.9M1328.7,780.8L1296.7,792.6M1251.4,771.6L1236.7,808.2M1236.7,808.2L1201.1,789.8M1296.7,792.6L1283.5,823.2M1283.5,823.2L1243.1,820.6M1243.1,820.6L1236.7,808.2M1379.6,832.9L1370.9,858.1M1370.9,858.1L1358.2,869.4M1358.2,869.4L1295.9,869.4M1295.9,869.4L1295.3,868.5M1295.3,868.5L1283.5,823.2M1375.6,800.3L1379.6,832.9M1198.7,868.7L1179.5,865.8M1179.5,865.8L1150.5,808.0M1243.1,820.6L1232.6,861.5M1232.6,861.5L1227.2,868.7M1227.2,868.7L1198.7,868.7M1295.3,868.5L1232.6,861.5M1179.5,865.8L1178.7,868.1M1178.7,868.1L1145.5,871.2M1427.4,822.5L1406.5,837.4M1406.5,837.4L1379.6,832.9M1390.8,794.3L1415.3,805.6M1415.3,805.6L1427.4,822.5M1415.3,755.2L1415.3,805.6M1406.5,837.4L1402.7,860.3M1402.7,860.3L1391.7,866.0M1391.7,866.0L1370.9,858.1M1427.7,822.6L1424.8,864.0M1424.8,864.0L1402.7,860.3M1427.4,822.5L1427.7,822.6M1187.4,910.9L1145.5,952.9M1178.7,868.1L1182.2,871.0M1182.2,871.0L1187.4,910.9M1289.8,886.5L1233.9,886.5M1233.9,886.5L1227.2,868.7M1341.7,951.9L1293.4,908.4M1293.4,908.4L1289.8,886.5M1358.2,869.4L1370.2,896.9M1370.2,896.9L1341.7,951.9M1215.3,923.3L1187.4,910.9M1182.2,871.0L1198.7,868.7M1233.9,886.5L1225.2,915.8M1225.2,915.8L1215.3,923.3M1215.3,923.3L1158.5,1142.5M1268.3,971.2L1225.2,915.8M1293.4,908.4L1268.3,971.2M1275.0,1130.7L1268.3,971.2M1341.7,951.9L1353.8,1042.6M1353.8,1042.6L1351.1,1048.0M1351.1,1048.0L1280.2,1126.0M1280.2,1126.0L1275.0,1130.7M1275.0,1130.7L1266.0,1142.5M1370.2,896.9L1382.9,898.4M1382.9,898.4L1398.9,917.3M1398.9,917.3L1381.0,1013.6M1381.0,1013.6L1353.8,1042.6M1382.9,898.4L1391.7,866.0M1424.8,864.0L1426.5,865.4M1432.4,914.8L1398.9,917.3M1432.4,914.8L1434.4,916.3M1434.4,916.3L1408.0,995.3M1408.0,995.3L1381.0,1013.6M1445.9,27.0L1431.6,57.4M1431.6,57.4L1429.8,58.4M1472.0,27.0L1469.2,59.3M1469.2,59.3L1431.6,57.4M1469.2,59.3L1478.1,71.2M1478.1,71.2L1478.1,88.7M1478.1,88.7L1431.7,103.5M1498.6,27.0L1508.8,67.7M1508.8,67.7L1478.1,71.2M1508.8,67.7L1509.8,68.5M1509.8,68.5L1501.3,95.0M1501.3,95.0L1478.1,88.7M1535.9,27.0L1539.2,59.4M1539.2,59.4L1509.8,68.5M1566.3,27.0L1565.5,47.7M1565.5,47.7L1540.1,59.6M1540.1,59.6L1539.2,59.4M1615.6,27.0L1585.1,68.6M1585.1,68.6L1565.5,47.7M1540.1,59.6L1582.4,104.5M1582.4,104.5L1576.1,115.6M1576.1,115.6L1531.9,130.0M1531.9,130.0L1501.3,95.0M1585.1,68.6L1589.7,97.9M1589.7,97.9L1582.4,104.5M1641.1,27.0L1643.9,42.4M1625.0,86.5L1589.7,97.9M1643.9,42.4L1683.8,76.4M1683.8,76.4L1681.9,95.6M1681.9,95.6L1625.0,86.5M1699.8,27.0L1704.2,58.2M1704.2,58.2L1696.1,69.4M1696.1,69.4L1683.8,76.4M1696.1,69.4L1711.9,107.4M1711.9,107.4L1704.8,114.1M1704.8,114.1L1681.9,95.6M1531.9,130.0L1526.9,182.4M1526.9,182.4L1509.4,202.6M1509.4,202.6L1464.2,210.2M1464.2,210.2L1436.5,201.8M1576.1,183.7L1526.9,182.4M1576.1,115.6L1576.1,183.7M1704.8,114.1L1711.4,137.8M1694.4,205.7L1668.0,225.0M1668.0,225.0L1632.8,225.0M1632.8,225.0L1589.7,203.4M1589.7,203.4L1576.1,183.7M1589.7,203.4L1575.5,250.4M1526.5,250.4L1509.4,202.6M1574.5,279.0L1540.5,284.7M1540.5,284.7L1525.2,254.1M1525.2,254.1L1526.5,250.4M1575.5,250.4L1580.1,258.0M1580.1,258.0L1574.5,279.0M1475.0,274.1L1457.3,256.4M1457.3,256.4L1464.2,210.2M1519.7,317.6L1476.9,301.9M1476.9,301.9L1475.0,299.3M1475.0,299.3L1475.0,274.1M1540.5,284.7L1532.5,314.9M1532.5,314.9L1519.7,317.6M1457.3,256.4L1425.4,253.6M1632.8,225.0L1624.6,250.6M1624.6,250.6L1648.0,271.8M1648.0,271.8L1649.4,285.3M1649.4,285.3L1641.3,301.5M1641.3,301.5L1592.0,311.8M1592.0,311.8L1584.9,304.1M1584.9,304.1L1574.5,279.0M1670.7,234.5L1648.0,271.8M1668.0,225.0L1670.7,234.5M1704.8,243.3L1701.6,307.3M1701.6,307.3L1696.7,315.4M1696.7,315.4L1649.4,285.3M1670.7,234.5L1704.8,243.3M1708.6,216.5L1707.3,242.2M1707.3,242.2L1704.8,243.3M1694.4,205.7L1708.6,216.5M1584.9,304.1L1536.0,318.1M1536.0,318.1L1532.5,314.9M1696.7,315.4L1697.7,326.6M1697.7,326.6L1691.4,332.4M1691.4,332.4L1641.4,302.0M1641.4,302.0L1641.3,301.5M1483.4,326.3L1477.8,342.5M1477.8,342.5L1432.0,361.6M1476.9,301.9L1483.4,326.3M1500.4,333.7L1483.4,326.3M1519.7,317.6L1500.4,333.7M1592.0,311.8L1593.7,326.5M1540.1,356.3L1520.6,358.1M1520.6,358.1L1499.4,344.2M1547.0,348.9L1540.1,356.3M1593.7,326.5L1598.5,334.1M1587.4,356.4L1547.0,348.9M1598.5,334.1L1604.9,336.3M1604.9,336.3L1618.5,362.4M1618.5,362.4L1604.1,381.0M1604.1,381.0L1587.4,356.4M1499.4,344.2L1477.8,342.5M1641.4,302.0L1604.9,336.3M1691.4,332.4L1685.8,345.5M1685.8,345.5L1618.5,362.4M1613.2,439.4L1601.6,395.8M1601.6,395.8L1604.1,381.0M1714.6,437.9L1707.7,442.9M1707.7,442.9L1636.4,453.3M1636.4,453.3L1613.2,439.4M1520.6,358.1L1534.2,379.7M1534.2,379.7L1541.4,419.0M1541.4,419.0L1521.5,446.1M1521.5,446.1L1481.7,461.3M1481.7,461.3L1469.5,459.1M1469.5,459.1L1421.9,421.9M1540.1,356.3L1534.2,379.7M1601.6,395.8L1558.7,425.1M1558.7,425.1L1541.4,419.0M1613.2,439.4L1605.5,443.6M1605.5,443.6L1563.9,433.5M1563.9,433.5L1558.7,425.1M1540.2,466.7L1563.9,433.5M1605.5,443.6L1605.5,496.1M1605.5,496.1L1575.7,509.5M1575.7,509.5L1542.9,489.9M1542.9,489.9L1540.2,466.7M1540.2,466.7L1521.5,446.1M1636.4,453.3L1625.1,493.0M1625.1,493.0L1615.3,498.1M1615.3,498.1L1605.5,496.1M1707.7,442.9L1707.7,514.8M1707.7,514.8L1692.4,531.1M1692.4,531.1L1673.5,528.7M1673.5,528.7L1651.2,525.3M1651.2,525.3L1625.1,493.0M1469.5,459.1L1448.1,478.2M1448.1,478.2L1430.6,477.6M1499.1,507.4L1481.7,488.1M1481.7,488.1L1481.7,461.3M1542.9,489.9L1499.1,507.4M1481.7,488.1L1461.4,495.6M1461.4,495.6L1448.1,478.2M1461.4,495.6L1455.1,520.6M1455.1,520.6L1449.1,524.3M1449.1,524.3L1437.1,523.7M1488.7,525.8L1455.1,520.6M1499.1,507.4L1488.7,525.8M1579.0,559.8L1546.9,583.2M1546.9,583.2L1508.3,585.1M1508.3,585.1L1503.6,582.2M1503.6,582.2L1502.3,580.8M1502.3,580.8L1494.0,569.5M1494.0,569.5L1488.7,525.8M1575.7,509.5L1580.8,555.9M1580.8,555.9L1579.0,559.8M1615.3,498.1L1636.3,533.6M1636.3,533.6L1627.7,552.4M1627.7,552.4L1580.8,555.9M1651.2,525.3L1650.6,526.5M1650.6,526.5L1636.3,533.6M1673.5,528.7L1650.6,526.5M1692.4,531.1L1693.4,533.6M1693.4,533.6L1688.0,580.3M1688.0,580.3L1655.0,592.2M1655.0,592.2L1634.9,577.5M1634.9,577.5L1627.7,552.4M1697.7,536.6L1697.7,584.1M1697.7,584.1L1688.0,580.3M1693.4,533.6L1697.7,536.6M1579.0,586.5L1579.0,559.8M1634.9,577.5L1579.0,586.5M1567.8,599.4L1546.9,583.2M1579.0,586.5L1567.8,599.4M1494.0,569.5L1460.1,572.4M1460.1,572.4L1449.1,524.3M1460.1,572.4L1453.6,580.8M1453.6,580.8L1449.7,584.3M1449.7,584.3L1435.9,584.7M1502.3,580.8L1453.6,580.8M1449.7,584.3L1466.3,616.1M1466.3,616.1L1466.5,622.8M1466.5,622.8L1431.8,633.0M1503.6,582.2L1466.3,616.1M1508.3,585.1L1514.3,611.7M1514.3,611.7L1485.6,635.3M1485.6,635.3L1466.5,622.8M1567.8,599.4L1561.4,624.1M1561.4,624.1L1554.9,627.9M1554.9,627.9L1514.3,611.7M1635.6,662.2L1618.7,667.0M1618.7,667.0L1561.4,624.1M1655.0,592.2L1660.2,636.7M1660.2,636.7L1635.6,662.2M1702.5,589.1L1707.5,605.4M1707.5,605.4L1704.3,633.4M1704.3,633.4L1694.5,642.0M1694.5,642.0L1676.3,644.3M1676.3,644.3L1660.2,636.7M1697.7,584.1L1702.5,589.1M1510.8,682.3L1496.3,672.7M1496.3,672.7L1485.6,635.3M1554.9,627.9L1534.4,679.8M1534.4,679.8L1510.8,682.3M1496.3,672.7L1472.9,701.3M1472.9,701.3L1432.8,710.1M1493.4,707.8L1476.1,704.8M1476.1,704.8L1472.9,701.3M1510.8,682.3L1493.4,707.8M1618.7,667.0L1617.3,683.1M1617.3,683.1L1609.6,700.3M1609.6,700.3L1597.6,706.6M1597.6,706.6L1559.3,705.5M1559.3,705.5L1534.4,679.8M1676.3,644.3L1676.3,675.3M1676.3,675.3L1638.1,668.0M1638.1,668.0L1635.6,662.2M1694.5,642.0L1691.9,675.9M1691.9,675.9L1681.7,680.4M1681.7,680.4L1676.3,675.3M1638.1,668.0L1617.3,683.1M1691.2,718.1L1681.7,680.4M1691.9,675.9L1722.1,709.9M1722.1,709.9L1693.3,718.5M1693.3,718.5L1691.2,718.1M1617.4,717.8L1609.6,700.3M1691.2,718.1L1672.5,731.9M1672.5,731.9L1617.4,717.8M1502.6,746.4L1493.4,725.7M1493.4,725.7L1493.4,707.8M1559.3,705.5L1555.9,741.7M1555.9,741.7L1541.5,756.2M1541.5,756.2L1502.6,746.4M1597.6,706.6L1598.9,731.3M1598.9,731.3L1585.8,751.2M1585.8,751.2L1555.9,741.7M1617.4,717.8L1598.9,731.3M1493.4,725.7L1472.4,731.5M1472.4,731.5L1469.8,730.2M1469.8,730.2L1476.1,704.8M1469.8,730.2L1427.1,722.9M1502.6,746.4L1495.3,750.2M1495.3,750.2L1472.4,731.5M1495.3,750.2L1492.6,800.6M1492.6,800.6L1460.8,829.3M1460.8,829.3L1427.7,822.6M1541.5,756.2L1548.6,772.9M1548.6,772.9L1530.2,801.6M1530.2,801.6L1492.6,800.6M1602.8,796.8L1585.7,752.6M1585.7,752.6L1585.8,751.2M1672.5,731.9L1679.2,778.9M1679.2,778.9L1661.3,796.8M1661.3,796.8L1602.8,796.8M1693.3,718.5L1710.0,778.7M1710.0,778.7L1709.6,779.2M1709.6,779.2L1693.3,783.6M1693.3,783.6L1679.2,778.9M1585.7,752.6L1561.1,775.5M1561.1,775.5L1548.6,772.9M1589.0,808.1L1561.1,775.5M1602.8,796.8L1589.0,808.1M1589.0,808.1L1577.8,837.0M1577.8,837.0L1556.7,840.1M1556.7,840.1L1530.2,801.6M1527.9,876.1L1481.2,871.8M1481.2,871.8L1465.7,851.7M1465.7,851.7L1460.8,829.3M1556.7,840.1L1546.1,867.0M1546.1,867.0L1527.9,876.1M1677.9,877.0L1662.0,881.2M1662.0,881.2L1602.0,884.4M1602.0,884.4L1587.8,871.7M1587.8,871.7L1577.8,837.0M1661.3,796.8L1681.0,816.5M1681.0,816.5L1686.9,835.3M1686.9,835.3L1684.4,872.5M1684.4,872.5L1677.9,877.0M1693.3,783.6L1690.8,806.7M1690.8,806.7L1681.0,816.5M1690.8,806.7L1710.0,816.3M1710.0,816.3L1697.9,831.3M1697.9,831.3L1686.9,835.3M1465.7,851.7L1426.5,865.4M1697.9,831.3L1705.2,854.3M1705.2,854.3L1685.0,872.6M1685.0,872.6L1684.4,872.5M1587.8,871.7L1546.1,867.0M1711.4,815.7L1710.0,816.3M1709.6,779.2L1711.4,815.7M1481.2,871.8L1483.5,882.7M1483.5,882.7L1476.1,905.9M1476.1,905.9L1434.4,916.3M1503.1,897.4L1483.5,882.7M1527.9,876.1L1503.1,897.4M1671.9,882.8L1662.0,881.2M1677.9,877.0L1671.9,882.8M1503.1,897.4L1495.0,914.7M1495.0,914.7L1476.1,905.9M1495.0,914.7L1506.2,968.8M1506.2,968.8L1479.9,987.3M1479.9,987.3L1408.0,995.3M1561.1,985.9L1519.7,977.6M1519.7,977.6L1506.2,968.8M1602.0,884.4L1616.0,922.3M1616.0,922.3L1594.3,974.5M1594.3,974.5L1561.1,985.9M1671.9,882.8L1659.7,916.5M1659.7,916.5L1616.0,922.3M1706.8,945.0L1700.4,949.8M1700.4,949.8L1659.7,916.5M1685.0,872.6L1692.2,876.2M1699.1,961.9L1693.0,984.1M1693.0,984.1L1671.5,1011.0M1671.5,1011.0L1659.0,1014.2M1659.0,1014.2L1624.2,1011.3M1624.2,1011.3L1605.5,1001.0M1605.5,1001.0L1594.3,974.5M1700.4,949.8L1699.1,961.9M1699.1,961.9L1704.8,989.6M1704.8,989.6L1693.0,984.1M1558.3,1001.9L1530.4,1006.1M1530.4,1006.1L1519.7,977.6M1605.5,1001.0L1589.2,1016.5M1589.2,1016.5L1558.3,1001.9M1530.4,1006.1L1505.2,1030.5M1505.2,1030.5L1495.3,1027.7M1495.3,1027.7L1479.9,987.3M1495.3,1027.7L1443.6,1048.0M1443.6,1048.0L1351.1,1048.0M1498.7,1083.7L1443.6,1048.0M1505.2,1030.5L1510.9,1075.7M1510.9,1075.7L1498.7,1083.7M1589.2,1016.5L1600.9,1051.6M1600.9,1051.6L1600.4,1057.5M1600.4,1057.5L1583.2,1085.1M1583.2,1085.1L1552.3,1096.9M1552.3,1096.9L1510.9,1075.7M1624.2,1011.3L1631.3,1034.9M1631.3,1034.9L1627.2,1043.6M1627.2,1043.6L1600.9,1051.6M1659.0,1014.2L1631.3,1034.9M1704.8,989.6L1718.0,1008.7M1718.0,1008.7L1700.0,1022.9M1700.0,1022.9L1671.5,1011.0M1644.1,1095.3L1626.3,1062.4M1626.3,1062.4L1627.2,1043.6M1711.2,1074.8L1691.5,1096.3M1691.5,1096.3L1662.7,1103.2M1662.7,1103.2L1644.1,1095.3M1600.4,1057.5L1626.3,1062.4M1644.1,1095.3L1620.1,1119.3M1620.1,1119.3L1602.1,1118.7M1602.1,1118.7L1583.2,1085.1M1498.7,1083.7L1490.7,1100.7M1490.7,1100.7L1280.2,1126.0M1490.7,1100.7L1505.1,1142.5M1552.3,1096.9L1551.0,1119.7M1551.0,1119.7L1537.1,1142.5M1590.6,1135.5L1551.0,1119.7M1602.1,1118.7L1590.6,1135.5M1590.6,1135.5L1590.2,1142.5M1662.7,1103.2L1659.8,1142.5M1631.7,1142.5L1620.1,1119.3M1728.3,27.0L1728.3,53.6M1728.3,53.6L1704.2,58.2M1773.6,27.0L1774.1,32.7M1774.1,32.7L1738.8,62.6M1738.8,62.6L1728.3,53.6M1738.8,62.6L1734.4,97.5M1734.4,97.5L1711.9,107.4M1774.1,32.7L1818.6,54.2M1818.6,54.2L1827.4,69.4M1827.4,69.4L1825.7,118.0M1825.7,118.0L1780.9,137.6M1780.9,137.6L1734.4,97.5M1775.4,147.5L1711.4,137.8M1780.9,137.6L1775.4,147.5M1824.9,27.0L1818.6,54.2M1886.2,27.0L1827.4,69.4M1893.6,27.0L1914.0,110.5M1914.0,110.5L1911.7,114.5M1911.7,114.5L1843.9,128.9M1843.9,128.9L1825.7,118.0M1983.1,27.0L1979.7,46.2M1979.7,46.2L1967.6,98.7M1967.6,98.7L1914.0,110.5M1979.7,46.2L1972.8,101.2M1972.8,101.2L1967.6,98.7M1972.8,101.2L1979.8,110.2M1979.8,110.2L1981.7,149.9M1981.7,149.9L1980.8,151.8M1980.8,151.8L1962.9,164.0M1962.9,164.0L1923.3,158.9M1923.3,158.9L1914.0,150.0M1914.0,150.0L1911.7,114.5M1866.9,170.6L1843.9,128.9M1923.3,158.9L1928.6,196.9M1928.6,196.9L1899.3,218.6M1899.3,218.6L1877.9,213.5M1877.9,213.5L1863.5,204.5M1863.5,204.5L1861.2,201.5M1861.2,201.5L1866.9,170.6M1799.2,212.5L1779.2,190.2M1779.2,190.2L1775.4,147.5M1863.5,204.5L1865.2,247.8M1865.2,247.8L1841.8,277.3M1841.8,277.3L1798.9,264.0M1798.9,264.0L1797.7,261.6M1797.7,261.6L1791.9,225.7M1791.9,225.7L1799.2,212.5M1779.2,190.2L1756.9,220.4M1756.9,220.4L1751.1,222.7M1751.1,222.7L1708.6,216.5M1775.1,229.0L1756.9,220.4M1797.7,261.6L1770.9,244.9M1770.9,244.9L1775.1,229.0M1751.1,222.7L1742.1,251.2M1742.1,251.2L1707.3,242.2M1742.6,283.1L1701.6,307.3M1742.1,251.2L1742.6,251.9M1742.6,251.9L1742.6,283.1M1798.9,264.0L1793.6,285.2M1793.6,285.2L1775.2,299.0M1775.2,299.0L1753.9,299.0M1753.9,299.0L1742.6,283.1M1742.6,251.9L1770.9,244.9M1843.8,290.0L1799.2,299.3M1799.2,299.3L1793.6,285.2M1841.8,277.3L1843.8,290.0M1910.3,275.7L1876.9,318.7M1876.9,318.7L1875.6,319.1M1875.6,319.1L1843.8,290.0M1865.2,247.8L1880.4,245.3M1880.4,245.3L1897.3,251.4M1897.3,251.4L1910.3,275.7M1877.9,213.5L1880.4,245.3M1899.3,218.6L1897.3,251.4M1985.1,206.6L1974.8,274.7M1974.8,274.7L1968.2,280.4M1968.2,280.4L1925.4,285.9M1925.4,285.9L1910.3,275.7M1928.6,196.9L1973.3,200.3M1973.3,200.3L1985.1,206.6M1962.9,164.0L1973.3,200.3M1980.8,151.8L1991.1,205.5M1991.1,205.5L1985.1,206.6M1753.9,299.0L1747.5,326.6M1747.5,326.6L1697.7,326.6M1925.4,285.9L1923.4,315.8M1923.4,315.8L1876.9,318.7M1968.2,280.4L1969.9,303.7M1969.9,303.7L1935.1,322.7M1935.1,322.7L1923.4,315.8M1775.2,299.0L1784.9,317.0M1784.9,317.0L1778.3,334.3M1778.3,334.3L1769.9,338.2M1769.9,338.2L1747.5,326.6M1799.2,299.3L1784.9,317.0M1769.9,338.2L1778.5,389.8M1778.5,389.8L1723.9,438.9M1723.9,438.9L1714.6,437.9M1875.6,319.1L1857.5,354.7M1857.5,354.7L1822.5,369.7M1822.5,369.7L1778.3,334.3M1822.5,369.7L1820.6,390.5M1820.6,390.5L1806.4,401.1M1806.4,401.1L1796.6,450.0M1759.6,465.7L1752.2,463.7M1752.2,463.7L1723.9,438.9M1834.6,491.8L1825.9,512.8M1825.9,512.8L1782.0,519.0M1782.0,519.0L1759.6,465.7M1796.6,450.0L1834.6,491.8M1903.0,425.7L1891.9,477.4M1891.9,477.4L1880.3,486.9M1880.3,486.9L1865.1,491.1M1865.1,491.1L1834.6,491.8M1820.6,390.5L1858.3,388.0M1858.3,388.0L1903.0,425.7M1857.5,354.7L1858.3,388.0M1958.4,376.2L1950.6,399.6M1950.6,399.6L1915.0,424.8M1915.0,424.8L1903.0,425.7M1935.1,322.7L1947.8,334.7M1947.8,334.7L1960.1,369.0M1960.1,369.0L1958.4,376.2M1968.0,367.6L1960.1,369.0M1947.8,334.7L1977.1,326.3M1977.1,326.3L1968.0,367.6M1969.9,303.7L1980.6,320.9M1980.6,320.9L1977.1,326.3M1958.4,376.2L1958.4,401.6M1958.4,401.6L1950.6,399.6M1974.7,414.4L1958.4,401.6M1968.0,367.6L1985.3,410.4M1985.3,410.4L1974.7,414.4M1971.5,421.0L1934.1,443.9M1934.1,443.9L1915.0,424.8M1974.7,414.4L1971.5,421.0M1976.2,474.6L1935.7,469.9M1935.7,469.9L1934.1,443.9M1935.7,469.9L1931.6,474.8M1931.6,474.8L1891.9,477.4M1978.0,476.2L1975.0,500.4M1975.0,500.4L1971.9,512.0M1971.9,512.0L1966.7,514.7M1966.7,514.7L1931.6,474.8M1976.2,474.6L1978.0,476.2M1870.3,527.0L1880.3,486.9M1966.7,514.7L1963.3,541.5M1963.3,541.5L1938.1,568.4M1938.1,568.4L1882.2,560.2M1882.2,560.2L1870.3,527.0M1865.1,491.1L1857.2,522.8M1857.2,522.8L1839.9,526.3M1839.9,526.3L1825.9,512.8M1870.3,527.0L1857.2,522.8M1774.2,528.5L1754.8,530.3M1754.8,530.3L1727.9,522.3M1727.9,522.3L1720.8,514.4M1720.8,514.4L1752.2,463.7M1782.0,519.0L1774.2,528.5M1720.8,514.4L1707.7,514.8M1754.8,530.3L1770.7,544.1M1770.7,544.1L1778.2,595.8M1778.2,595.8L1776.6,598.8M1776.6,598.8L1702.5,589.1M1697.7,536.6L1727.9,522.3M1774.2,528.5L1770.7,544.1M1839.9,526.3L1843.9,559.0M1843.9,559.0L1832.0,584.2M1832.0,584.2L1778.2,595.8M1881.8,561.0L1843.9,559.0M1882.2,560.2L1881.8,561.0M1879.4,585.0L1832.8,585.0M1832.8,585.0L1832.0,584.2M1881.8,561.0L1881.2,581.5M1881.2,581.5L1879.4,585.0M1939.9,588.9L1881.2,581.5M1938.1,568.4L1940.9,584.9M1940.9,584.9L1939.9,588.9M1983.3,549.3L1978.3,584.9M1978.3,584.9L1940.9,584.9M1963.3,541.5L1983.3,549.3M1971.9,512.0L1989.4,548.1M1989.4,548.1L1983.3,549.3M1723.6,625.5L1707.5,605.4M1776.6,598.8L1776.5,600.0M1776.5,600.0L1743.3,626.4M1743.3,626.4L1723.6,625.5M1723.6,625.5L1704.3,633.4M1743.3,626.4L1743.3,712.7M1743.3,712.7L1722.1,709.9M1826.2,632.2L1836.3,679.7M1836.3,679.7L1835.9,685.8M1835.9,685.8L1811.4,715.0M1811.4,715.0L1757.0,724.1M1757.0,724.1L1743.3,712.7M1776.5,600.0L1826.2,632.2M1832.8,585.0L1840.8,608.8M1840.8,608.8L1830.6,630.9M1830.6,630.9L1846.1,645.6M1846.1,645.6L1836.3,679.7M1879.4,585.0L1877.6,605.2M1877.6,605.2L1840.8,608.8M1877.6,605.2L1884.5,617.8M1884.5,617.8L1846.1,645.6M1939.9,588.9L1941.6,598.1M1941.6,598.1L1919.7,625.5M1919.7,625.5L1884.5,617.8M1978.3,584.9L1988.1,595.5M1988.1,595.5L1971.1,611.2M1971.1,611.2L1941.6,598.1M1971.1,636.6L1961.1,657.2M1961.1,657.2L1946.0,660.9M1946.0,660.9L1919.7,625.5M1971.1,611.2L1971.1,636.6M1859.9,715.9L1835.9,685.8M1946.0,660.9L1939.7,699.9M1939.7,699.9L1924.8,719.6M1924.8,719.6L1900.8,728.3M1900.8,728.3L1859.9,715.9M1961.1,657.2L1985.1,670.3M1985.1,670.3L1972.9,697.5M1972.9,697.5L1939.7,699.9M1971.1,636.6L1989.5,666.8M1989.5,666.8L1985.1,670.3M1972.9,697.5L1978.1,746.0M1978.1,746.0L1974.1,747.8M1974.1,747.8L1924.8,719.6M1830.4,732.7L1827.5,782.5M1827.5,782.5L1820.1,788.1M1820.1,788.1L1755.3,737.2M1755.3,737.2L1757.0,724.1M1811.4,715.0L1830.4,732.7M1859.9,715.9L1851.2,727.3M1851.2,727.3L1830.4,732.7M1882.8,754.7L1851.2,727.3M1900.8,728.3L1882.8,754.7M1882.8,754.7L1876.3,784.8M1876.3,784.8L1827.5,782.5M1974.1,747.8L1977.6,758.8M1977.6,758.8L1979.3,793.7M1979.3,793.7L1976.2,801.7M1976.2,801.7L1965.6,815.0M1965.6,815.0L1937.6,829.1M1898.2,822.4L1876.3,784.8M1937.6,829.1L1944.7,857.7M1944.7,857.7L1937.7,868.7M1937.7,868.7L1889.0,848.1M1889.0,848.1L1898.2,822.4M1755.3,737.2L1710.0,778.7M1820.1,788.1L1802.8,847.6M1802.8,847.6L1785.0,850.3M1785.0,850.3L1738.4,850.3M1738.4,850.3L1711.4,815.7M1858.8,872.6L1806.5,853.6M1806.5,853.6L1802.8,847.6M1889.0,848.1L1858.8,872.6M1785.0,850.3L1761.7,866.6M1761.7,866.6L1737.3,853.6M1737.3,853.6L1738.4,850.3M1735.2,854.3L1705.2,854.3M1737.3,853.6L1735.2,854.3M1735.2,854.3L1692.2,876.2M1983.3,841.9L1973.3,855.5M1973.3,855.5L1944.7,857.7M1965.6,815.0L1976.6,823.4M1976.6,823.4L1983.3,834.9M1983.3,834.9L1983.3,841.9M1983.0,751.8L1977.6,758.8M1978.1,746.0L1983.0,751.8M1988.2,810.6L1976.6,823.4M1976.2,801.7L1988.2,810.6M1761.7,866.6L1788.2,895.5M1788.2,895.5L1791.2,916.1M1791.2,916.1L1758.5,949.5M1758.5,949.5L1706.8,945.0M1806.5,853.6L1788.2,895.5M1858.8,872.6L1860.5,915.7M1860.5,915.7L1850.4,928.6M1850.4,928.6L1791.2,916.1M1937.7,868.7L1942.6,897.0M1942.6,897.0L1915.0,926.3M1915.0,926.3L1860.5,915.7M1984.4,865.1L1987.3,898.9M1987.3,898.9L1986.3,901.6M1986.3,901.6L1982.2,904.1M1982.2,904.1L1942.6,897.0M1973.3,855.5L1984.4,865.1M1910.7,972.6L1858.9,954.3M1858.9,954.3L1850.4,928.6M1915.0,926.3L1918.8,965.8M1918.8,965.8L1910.7,972.6M1982.2,970.0L1978.3,975.1M1978.3,975.1L1918.8,965.8M1858.9,954.3L1840.9,1013.8M1840.9,1013.8L1795.1,1029.7M1795.1,1029.7L1760.5,999.2M1760.5,999.2L1758.5,949.5M1760.5,999.2L1741.0,1010.7M1741.0,1010.7L1718.0,1008.7M1873.5,1040.5L1840.9,1013.8M1910.7,972.6L1894.7,1044.4M1894.7,1044.4L1873.5,1040.5M1982.3,1142.5L1894.7,1044.4M1978.3,975.1L1998.9,1142.5M1741.0,1010.7L1759.7,1041.5M1759.7,1041.5L1738.9,1074.8M1738.9,1074.8L1711.2,1074.8M1794.5,1032.3L1759.7,1041.5M1795.1,1029.7L1794.5,1032.3M1808.7,1056.2L1808.7,1088.7M1808.7,1088.7L1800.5,1101.2M1800.5,1101.2L1769.1,1118.9M1769.1,1118.9L1738.9,1074.8M1794.5,1032.3L1808.7,1056.2M1873.5,1040.5L1829.5,1066.6M1829.5,1066.6L1808.7,1056.2M1861.9,1142.5L1828.6,1095.9M1828.6,1095.9L1825.4,1088.7M1825.4,1088.7L1829.5,1066.6M1825.4,1088.7L1808.7,1088.7M1828.6,1095.9L1832.0,1118.0M1832.0,1118.0L1800.5,1101.2M1769.1,1118.9L1764.4,1142.5M1832.0,1118.0L1851.8,1142.5M2025.9,27.0L2054.8,65.1M2054.8,65.1L2038.9,124.8M2038.9,124.8L2004.4,126.1M2004.4,126.1L1979.8,110.2M2004.4,126.1L1981.7,149.9M2089.3,53.9L2129.5,95.6M2132.5,111.2L2121.5,137.7M2121.5,137.7L2060.8,148.3M2060.8,148.3L2038.9,124.8M2186.9,118.4L2132.5,111.2M2129.5,95.6L2165.3,45.2M2165.3,45.2L2196.4,72.7M2196.4,72.7L2191.0,115.8M2191.0,115.8L2186.9,118.4M2096.1,27.0L2089.3,53.9M2161.8,27.0L2165.3,45.2M2225.3,27.0L2220.9,59.3M2220.9,59.3L2196.4,72.7M2262.0,77.5L2220.9,59.3M2262.0,113.0L2229.8,132.9M2229.8,132.9L2191.0,115.8M2186.9,118.4L2179.5,142.2M2179.5,142.2L2140.6,159.7M2140.6,159.7L2129.9,155.0M2129.9,155.0L2121.5,137.7M2229.8,132.9L2230.5,139.2M2230.5,139.2L2197.2,174.3M2197.2,174.3L2179.5,142.2M2197.2,174.4L2156.2,182.6M2156.2,182.6L2140.6,159.7M2230.5,139.2L2262.0,157.7M2262.0,204.5L2215.9,210.7M2215.9,210.7L2214.5,210.0M2214.5,210.0L2197.2,174.4M2007.2,210.5L1991.1,205.5M2060.8,148.3L2060.8,156.9M2060.8,156.9L2107.5,188.0M2107.5,188.0L2116.3,218.4M2061.4,260.5L2026.3,246.5M2026.3,246.5L2007.2,210.5M2116.5,218.5L2129.7,257.1M2129.7,257.1L2091.1,293.9M2091.1,293.9L2079.1,298.5M2079.1,298.5L2061.4,260.5M2150.4,204.2L2116.5,218.5M2183.4,228.6L2150.4,204.2M2215.9,210.7L2223.1,246.8M2223.1,246.8L2218.6,255.9M2218.6,255.9L2204.5,261.3M2204.5,261.3L2181.8,255.0M2181.8,255.0L2183.4,228.6M2181.8,255.0L2177.2,261.2M2177.2,261.2L2165.4,270.3M2165.4,270.3L2129.7,257.1M2262.0,258.6L2258.9,258.7M2258.9,258.7L2223.1,246.8M2204.5,261.3L2202.2,271.1M2202.2,271.1L2187.6,273.4M2187.6,273.4L2177.2,261.2M2258.9,258.7L2230.3,268.7M2230.3,268.7L2218.6,255.9M2165.4,270.3L2169.9,287.0M2169.9,287.0L2168.0,307.4M2168.0,307.4L2165.9,310.9M2165.9,310.9L2091.1,293.9M2006.9,304.9L1999.5,275.5M1999.5,275.5L2026.3,246.5M2079.1,298.5L2075.2,307.7M2075.2,307.7L2006.9,304.9M1999.5,275.5L1974.8,274.7M2006.9,304.9L1980.6,320.9M2226.3,310.1L2168.0,307.4M2169.9,287.0L2187.6,273.4M2202.2,271.1L2223.1,284.1M2223.1,284.1L2228.3,305.8M2228.3,305.8L2226.3,310.1M2262.0,304.2L2228.3,305.8M2223.1,284.1L2230.3,268.7M2090.3,345.1L2089.2,370.1M2089.2,370.1L2034.5,430.1M2034.5,430.1L1985.3,410.4M2075.2,307.7L2090.3,345.1M2165.9,310.9L2165.0,323.8M2165.0,323.8L2118.1,364.6M2118.1,364.6L2090.3,345.1M2226.3,310.1L2230.0,326.8M2230.0,326.8L2194.9,364.1M2194.9,364.1L2165.0,323.8M2262.0,344.1L2230.0,326.8M2262.0,363.3L2203.6,377.9M2203.6,377.9L2195.3,370.5M2195.3,370.5L2194.9,364.1M2195.3,370.5L2156.7,401.4M2156.7,401.4L2118.5,368.6M2118.5,368.6L2118.1,364.6M2118.5,368.6L2089.2,370.1M2156.7,401.4L2160.6,413.9M2160.6,413.9L2152.8,454.6M2152.8,454.6L2129.8,476.9M2129.8,476.9L2070.4,479.2M2070.4,479.2L2038.9,451.2M2038.9,451.2L2034.5,430.1M2203.6,377.9L2209.7,400.9M2209.7,400.9L2197.0,420.4M2197.0,420.4L2160.6,413.9M2262.0,396.9L2241.7,410.6M2241.7,410.6L2209.7,400.9M2241.7,410.6L2246.0,440.3M2246.0,440.3L2233.7,441.7M2233.7,441.7L2202.4,432.1M2202.4,432.1L2197.0,420.4M2262.0,447.2L2246.0,440.3M2202.4,432.1L2202.4,453.1M2202.4,453.1L2195.3,463.3M2195.3,463.3L2164.1,464.4M2164.1,464.4L2152.8,454.6M2233.7,441.7L2202.4,453.1M2262.0,491.7L2225.9,506.2M2225.9,506.2L2203.7,500.5M2203.7,500.5L2195.3,463.3M2187.2,508.4L2169.1,506.6M2169.1,506.6L2155.3,495.2M2155.3,495.2L2164.1,464.4M2203.7,500.5L2187.2,508.4M2155.3,495.2L2142.6,496.1M2142.6,496.1L2129.8,476.9M2038.9,451.2L1982.8,477.8M1982.8,477.8L1978.0,476.2M2071.6,539.2L2010.8,562.0M2010.8,562.0L1989.4,548.1M1975.0,500.4L1982.8,477.8M2070.4,479.2L2071.6,539.2M2142.6,496.1L2132.3,532.8M2132.3,532.8L2073.6,540.9M2073.6,540.9L2071.6,539.2M2169.1,506.6L2172.2,524.2M2172.2,524.2L2158.0,555.9M2158.0,555.9L2156.0,556.5M2156.0,556.5L2132.3,532.8M2187.2,508.4L2172.2,524.2M2262.0,585.5L2202.6,597.8M2202.6,597.8L2193.4,592.0M2193.4,592.0L2158.0,555.9M2225.9,506.2L2262.0,542.3M2029.1,603.0L2010.8,589.3M2010.8,589.3L2010.8,562.0M2156.0,556.5L2146.8,581.7M2146.8,581.7L2127.8,599.7M2010.8,589.3L1988.1,595.5M2193.4,592.0L2146.8,581.7M2038.3,649.0L2029.1,603.0M2127.8,599.7L2126.5,635.7M2126.5,635.7L2085.7,670.9M2085.7,670.9L2038.3,649.0M2068.7,770.5L2031.6,780.6M2031.6,780.6L2025.2,779.6M2025.2,779.6L1983.0,751.8M2085.7,670.9L2097.2,707.9M2097.2,707.9L2068.7,770.5M2202.6,597.8L2194.1,630.0M2194.1,630.0L2166.9,652.1M2166.9,652.1L2126.5,635.7M2262.0,648.9L2235.6,683.0M2235.6,683.0L2217.5,688.6M2217.5,688.6L2194.1,630.0M2217.5,688.6L2214.8,691.3M2214.8,691.3L2192.3,693.3M2192.3,693.3L2166.9,652.1M2192.3,693.3L2156.3,724.6M2156.3,724.6L2097.2,707.9M2156.3,792.8L2082.8,789.3M2082.8,789.3L2068.7,770.5M2156.3,724.6L2156.3,792.8M2214.8,691.3L2243.8,728.4M2243.8,728.4L2246.7,768.4M2246.7,768.4L2231.4,792.8M2231.4,792.8L2205.1,805.6M2205.1,805.6L2164.3,803.2M2164.3,803.2L2156.3,792.8M2262.0,683.0L2235.6,683.0M2262.0,733.1L2243.8,728.4M2262.0,765.6L2246.7,768.4M2262.0,807.4L2231.4,792.8M2025.2,779.6L1999.3,797.2M1999.3,797.2L1979.3,793.7M2007.8,824.3L1999.0,819.0M1999.0,819.0L1995.3,811.6M1995.3,811.6L1999.3,797.2M2037.0,807.8L2007.8,824.3M2082.8,789.3L2072.2,822.8M2072.2,822.8L2037.0,807.8M2164.1,804.5L2124.8,858.4M2124.8,858.4L2080.9,849.9M2080.9,849.9L2072.2,822.8M2164.3,803.2L2164.1,804.5M2003.7,865.2L2000.9,853.1M2000.9,853.1L2002.4,839.1M2002.4,839.1L2007.8,824.3M2080.9,849.9L2073.8,865.2M2073.8,865.2L2003.7,865.2M1995.3,811.6L1988.2,810.6M1994.3,829.4L1983.3,834.9M1999.0,819.0L1994.3,829.4M1994.3,829.4L2002.4,839.1M2000.9,853.1L1983.3,841.9M2003.7,865.2L2002.6,866.4M2002.6,866.4L1984.4,865.1M2166.1,865.0L2125.9,860.0M2125.9,860.0L2124.8,858.4M2164.1,804.5L2176.4,850.6M2176.4,850.6L2175.8,853.1M2175.8,853.1L2166.1,865.0M2205.1,805.6L2214.7,838.6M2214.7,838.6L2176.4,850.6M2262.0,830.2L2224.0,846.2M2224.0,846.2L2214.7,838.6M2225.8,858.4L2175.8,853.1M2224.0,846.2L2225.8,858.4M2262.0,858.8L2229.4,862.9M2229.4,862.9L2225.8,858.4M2002.6,866.4L1987.3,898.9M2027.4,946.3L1986.3,901.6M2073.8,865.2L2083.0,886.0M2083.0,886.0L2083.6,913.2M2083.6,913.2L2056.7,948.7M2056.7,948.7L2027.4,946.3M2027.4,946.3L1982.2,970.0M2125.9,860.0L2129.2,882.7M2129.2,882.7L2122.4,890.4M2122.4,890.4L2083.0,886.0M2166.1,865.0L2161.2,880.6M2161.2,880.6L2129.2,882.7M2229.4,862.9L2237.7,899.9M2237.7,899.9L2179.0,911.6M2179.0,911.6L2161.2,880.6M2262.0,913.8L2237.7,899.9M2114.1,922.5L2083.6,913.2M2122.4,890.4L2114.1,922.5M2167.5,940.4L2140.1,945.7M2140.1,945.7L2117.2,929.3M2117.2,929.3L2114.1,922.5M2179.0,911.6L2167.5,940.4M2117.2,929.3L2114.1,954.3M2114.1,954.3L2077.0,970.1M2077.0,970.1L2056.7,948.7M2262.0,935.4L2230.9,978.1M2230.9,978.1L2228.8,979.0M2228.8,979.0L2185.0,969.3M2185.0,969.3L2172.1,956.4M2172.1,956.4L2167.5,940.4M2140.1,945.7L2136.9,958.6M2136.9,958.6L2114.1,954.3M2172.1,956.4L2165.2,974.2M2165.2,974.2L2159.9,978.0M2159.9,978.0L2136.9,958.6M2077.0,970.1L2064.5,1142.5M2159.9,978.0L2150.4,1142.5M2165.2,974.2L2185.0,969.3M2228.8,979.0L2228.8,1142.5M2230.9,978.1L2262.0,987.4" fill="none" stroke="#141414" stroke-width="2.6" stroke-linecap="round" filter="url(#soft)"/>
</g>
<rect x="1169" y="53" width="57" height="51" fill="#fff"/>
<text x="1197.5" y="90.5" font-size="52" text-anchor="middle" >(b)</text>
<rect x="1152" y="879.5" width="471" height="257" fill="#fff"/>
<rect x="1154" y="907.7" width="199" height="22.0" rx="5" fill="#f20000"/>
<text x="1394" y="927.3" font-size="33" text-anchor="start" >85°</text>
<text x="1450" y="925.8" font-size="29" text-anchor="start" style="font-family:'Liberation Serif','Noto Serif CJK SC',serif">〈</text>
<text x="1481" y="927.3" font-size="33" text-anchor="start" >1120</text>
<line x1="1516.0" y1="900.9" x2="1528.5" y2="900.9" stroke="#222" stroke-width="2"/>
<text x="1546" y="925.8" font-size="29" text-anchor="start" style="font-family:'Liberation Serif','Noto Serif CJK SC',serif">〉</text>
<rect x="1154" y="955.9" width="199" height="21.5" rx="5" fill="#2a3ee2"/>
<text x="1394" y="977.0" font-size="33" text-anchor="start" >64°</text>
<text x="1450" y="975.5" font-size="29" text-anchor="start" style="font-family:'Liberation Serif','Noto Serif CJK SC',serif">〈</text>
<text x="1481" y="977.0" font-size="33" text-anchor="start" >1010</text>
<line x1="1516.0" y1="950.6" x2="1528.5" y2="950.6" stroke="#222" stroke-width="2"/>
<text x="1546" y="975.5" font-size="29" text-anchor="start" style="font-family:'Liberation Serif','Noto Serif CJK SC',serif">〉</text>
<rect x="1154" y="1000.7" width="199" height="20.7" rx="5" fill="#ff00ff"/>
<text x="1394" y="1023.9" font-size="33" text-anchor="start" >35°</text>
<text x="1450" y="1022.4" font-size="29" text-anchor="start" style="font-family:'Liberation Serif','Noto Serif CJK SC',serif">〈</text>
<text x="1481" y="1023.9" font-size="33" text-anchor="start" >1010</text>
<line x1="1516.0" y1="997.5" x2="1528.5" y2="997.5" stroke="#222" stroke-width="2"/>
<text x="1546" y="1022.4" font-size="29" text-anchor="start" style="font-family:'Liberation Serif','Noto Serif CJK SC',serif">〉</text>
<rect x="1154" y="1052.0" width="199" height="21.3" rx="5" fill="#00ffff"/>
<text x="1394" y="1073.3" font-size="33" text-anchor="start" >77°</text>
<text x="1450" y="1071.8" font-size="29" text-anchor="start" style="font-family:'Liberation Serif','Noto Serif CJK SC',serif">〈</text>
<text x="1481" y="1073.3" font-size="33" text-anchor="start" >1010</text>
<line x1="1516.0" y1="1046.9" x2="1528.5" y2="1046.9" stroke="#222" stroke-width="2"/>
<text x="1546" y="1071.8" font-size="29" text-anchor="start" style="font-family:'Liberation Serif','Noto Serif CJK SC',serif">〉</text>
<rect x="1154" y="1107.0" width="199" height="21.6" rx="5" fill="#666633"/>
<text x="1394" y="1125.4" font-size="33" text-anchor="start" >48.5°</text>
<text x="1476.5" y="1123.9" font-size="29" text-anchor="start" style="font-family:'Liberation Serif','Noto Serif CJK SC',serif">〈</text>
<text x="1507.5" y="1125.4" font-size="33" text-anchor="start" >5503</text>
<line x1="1526.0" y1="1099.0" x2="1538.5" y2="1099.0" stroke="#222" stroke-width="2"/>
<text x="1572.5" y="1123.9" font-size="29" text-anchor="start" style="font-family:'Liberation Serif','Noto Serif CJK SC',serif">〉</text>
<rect x="1874.5" y="1045.5" width="383" height="91" fill="#fff"/>
<rect x="1881" y="1117" width="369.5" height="12.5" fill="#000"/>
<text x="2065.5" y="1092.5" font-size="52" text-anchor="middle" style="fill:#000">50 μm</text>
<rect x="1151.5" y="33" width="1105.5" height="1103.5" fill="none" stroke="#a0a0a0" stroke-width="2"/>
<g clip-path="url(#pf1clip)">
<circle cx="287.5" cy="1603.5" r="222" fill="#0004f6"/>
<g filter="url(#b14)" opacity="0.75"><path d="M64.8,1598.5C65.7,1594.5 70.2,1594.7 73.9,1591.9C77.6,1589.2 81.8,1583.2 87.0,1582.0C92.2,1580.8 100.1,1586.2 105.3,1584.6C110.5,1583.0 111.8,1576.7 118.3,1572.3C124.9,1568.0 134.9,1560.8 144.4,1558.5C154.0,1556.2 167.1,1559.8 175.8,1558.5C184.5,1557.2 191.0,1552.2 196.7,1550.7C202.3,1549.1 204.5,1547.8 209.7,1549.1C214.9,1550.4 221.5,1555.6 228.0,1558.5C234.5,1561.4 242.8,1565.5 248.9,1566.3C255.0,1567.2 258.5,1562.9 264.5,1563.7C270.6,1564.6 279.3,1570.5 285.4,1571.6C291.5,1572.6 295.0,1569.6 301.1,1570.0C307.2,1570.4 316.3,1575.2 322.0,1574.2C327.6,1573.1 331.6,1567.2 335.0,1563.7C338.5,1560.3 339.8,1553.3 342.9,1553.3C345.9,1553.3 349.0,1563.3 353.3,1563.7C357.7,1564.2 363.8,1558.3 369.0,1555.9C374.2,1553.5 378.6,1549.6 384.6,1549.1C390.7,1548.6 398.6,1551.2 405.5,1552.8C412.5,1554.3 420.3,1554.6 426.4,1558.5C432.5,1562.4 436.9,1571.0 442.1,1576.3C447.3,1581.5 453.0,1589.0 457.8,1589.8C462.5,1590.7 467.7,1584.7 470.8,1581.5C473.9,1578.3 474.7,1569.7 476.6,1570.5C478.4,1571.4 481.4,1581.0 481.8,1586.7C482.1,1592.5 481.8,1599.3 478.6,1605.0C475.5,1610.6 468.2,1614.6 463.0,1620.7C457.8,1626.7 452.5,1635.8 447.3,1641.5C442.1,1647.3 436.4,1652.4 431.6,1655.1C426.9,1657.8 423.8,1658.6 418.6,1657.7C413.4,1656.9 407.7,1652.5 400.3,1649.9C392.9,1647.3 382.0,1645.1 374.2,1642.1C366.4,1639.0 361.1,1633.4 353.3,1631.6C345.5,1629.9 332.0,1634.3 327.2,1631.6C322.4,1628.9 325.9,1620.7 324.6,1615.4C323.3,1610.2 322.0,1604.1 319.4,1600.3C316.8,1596.5 312.4,1593.0 308.9,1592.5C305.4,1591.9 302.0,1596.7 298.5,1597.2C295.0,1597.6 292.0,1596.3 288.0,1595.1C284.1,1593.8 280.2,1589.4 275.0,1589.8C269.8,1590.3 260.8,1594.9 256.7,1597.7C252.6,1600.4 251.5,1601.6 250.2,1606.3C248.9,1611.0 250.8,1620.3 248.9,1625.9C246.9,1631.4 242.8,1637.2 238.4,1639.5C234.1,1641.7 228.9,1640.8 222.8,1639.5C216.7,1638.1 207.1,1632.1 201.9,1631.6C196.7,1631.2 194.0,1633.4 191.4,1636.8C188.8,1640.3 188.0,1647.7 186.2,1652.5C184.5,1657.3 183.6,1663.0 181.0,1665.6C178.4,1668.2 174.9,1669.5 170.5,1668.2C166.2,1666.9 160.1,1661.6 154.9,1657.7C149.7,1653.8 145.3,1649.5 139.2,1644.7C133.1,1639.9 122.7,1632.9 118.3,1629.0C114.0,1625.1 117.5,1622.9 113.1,1621.2C108.8,1619.4 97.9,1617.8 92.2,1618.6C86.6,1619.3 83.1,1626.4 79.2,1625.9C75.2,1625.4 71.1,1620.0 68.7,1615.4C66.3,1610.9 63.9,1602.4 64.8,1598.5Z" fill="#00a0a0" stroke="#0070c0" stroke-width="40"/></g>
<circle cx="254.1" cy="1696.4" r="13.1" fill="#00a070" opacity="0.55" filter="url(#b6)"/>
<circle cx="350.7" cy="1702.1" r="13.1" fill="#00a070" opacity="0.55" filter="url(#b6)"/>
<circle cx="105.3" cy="1550.2" r="13.1" fill="#00a070" opacity="0.55" filter="url(#b6)"/>
<circle cx="301.1" cy="1657.2" r="11.7" fill="#00a070" opacity="0.55" filter="url(#b6)"/>
<g filter="url(#b3)"><path d="M64.8,1598.5C65.7,1594.5 70.2,1594.7 73.9,1591.9C77.6,1589.2 81.8,1583.2 87.0,1582.0C92.2,1580.8 100.1,1586.2 105.3,1584.6C110.5,1583.0 111.8,1576.7 118.3,1572.3C124.9,1568.0 134.9,1560.8 144.4,1558.5C154.0,1556.2 167.1,1559.8 175.8,1558.5C184.5,1557.2 191.0,1552.2 196.7,1550.7C202.3,1549.1 204.5,1547.8 209.7,1549.1C214.9,1550.4 221.5,1555.6 228.0,1558.5C234.5,1561.4 242.8,1565.5 248.9,1566.3C255.0,1567.2 258.5,1562.9 264.5,1563.7C270.6,1564.6 279.3,1570.5 285.4,1571.6C291.5,1572.6 295.0,1569.6 301.1,1570.0C307.2,1570.4 316.3,1575.2 322.0,1574.2C327.6,1573.1 331.6,1567.2 335.0,1563.7C338.5,1560.3 339.8,1553.3 342.9,1553.3C345.9,1553.3 349.0,1563.3 353.3,1563.7C357.7,1564.2 363.8,1558.3 369.0,1555.9C374.2,1553.5 378.6,1549.6 384.6,1549.1C390.7,1548.6 398.6,1551.2 405.5,1552.8C412.5,1554.3 420.3,1554.6 426.4,1558.5C432.5,1562.4 436.9,1571.0 442.1,1576.3C447.3,1581.5 453.0,1589.0 457.8,1589.8C462.5,1590.7 467.7,1584.7 470.8,1581.5C473.9,1578.3 474.7,1569.7 476.6,1570.5C478.4,1571.4 481.4,1581.0 481.8,1586.7C482.1,1592.5 481.8,1599.3 478.6,1605.0C475.5,1610.6 468.2,1614.6 463.0,1620.7C457.8,1626.7 452.5,1635.8 447.3,1641.5C442.1,1647.3 436.4,1652.4 431.6,1655.1C426.9,1657.8 423.8,1658.6 418.6,1657.7C413.4,1656.9 407.7,1652.5 400.3,1649.9C392.9,1647.3 382.0,1645.1 374.2,1642.1C366.4,1639.0 361.1,1633.4 353.3,1631.6C345.5,1629.9 332.0,1634.3 327.2,1631.6C322.4,1628.9 325.9,1620.7 324.6,1615.4C323.3,1610.2 322.0,1604.1 319.4,1600.3C316.8,1596.5 312.4,1593.0 308.9,1592.5C305.4,1591.9 302.0,1596.7 298.5,1597.2C295.0,1597.6 292.0,1596.3 288.0,1595.1C284.1,1593.8 280.2,1589.4 275.0,1589.8C269.8,1590.3 260.8,1594.9 256.7,1597.7C252.6,1600.4 251.5,1601.6 250.2,1606.3C248.9,1611.0 250.8,1620.3 248.9,1625.9C246.9,1631.4 242.8,1637.2 238.4,1639.5C234.1,1641.7 228.9,1640.8 222.8,1639.5C216.7,1638.1 207.1,1632.1 201.9,1631.6C196.7,1631.2 194.0,1633.4 191.4,1636.8C188.8,1640.3 188.0,1647.7 186.2,1652.5C184.5,1657.3 183.6,1663.0 181.0,1665.6C178.4,1668.2 174.9,1669.5 170.5,1668.2C166.2,1666.9 160.1,1661.6 154.9,1657.7C149.7,1653.8 145.3,1649.5 139.2,1644.7C133.1,1639.9 122.7,1632.9 118.3,1629.0C114.0,1625.1 117.5,1622.9 113.1,1621.2C108.8,1619.4 97.9,1617.8 92.2,1618.6C86.6,1619.3 83.1,1626.4 79.2,1625.9C75.2,1625.4 71.1,1620.0 68.7,1615.4C66.3,1610.9 63.9,1602.4 64.8,1598.5Z" fill="#14ee14"/></g>
<g filter="url(#b3)"><path d="M123.6,1586.7C124.8,1581.1 129.6,1575.2 134.0,1571.6C138.3,1567.9 143.6,1565.6 149.7,1564.8C155.8,1563.9 164.5,1565.2 170.5,1566.3C176.6,1567.5 181.0,1571.8 186.2,1571.6C191.4,1571.3 197.4,1566.2 201.9,1564.8C206.3,1563.4 211.5,1562.1 212.8,1563.2C214.2,1564.3 212.0,1568.4 210.2,1571.6C208.5,1574.7 204.6,1577.3 202.4,1582.0C200.2,1586.7 199.8,1595.0 197.2,1599.8C194.6,1604.6 189.8,1607.2 186.7,1610.7C183.7,1614.3 179.9,1616.8 178.9,1621.2C177.9,1625.5 181.5,1631.6 181.0,1636.8C180.5,1642.1 178.3,1650.3 175.8,1652.5C173.2,1654.7 169.2,1652.9 165.8,1649.9C162.5,1646.8 159.8,1639.0 155.4,1634.2C151.1,1629.4 144.5,1626.0 139.7,1621.2C135.0,1616.4 129.4,1611.3 126.7,1605.5C124.0,1599.8 122.3,1592.4 123.6,1586.7Z" fill="#d8ff10"/><path d="M358.5,1591.9C359.0,1584.1 362.5,1578.9 366.4,1574.2C370.3,1569.5 376.4,1565.3 382.0,1563.7C387.7,1562.2 394.7,1563.5 400.3,1564.8C406.0,1566.1 411.2,1567.8 416.0,1571.6C420.8,1575.3 425.1,1581.7 429.0,1587.2C433.0,1592.8 437.3,1599.4 439.5,1605.0C441.7,1610.6 442.5,1615.3 442.1,1620.7C441.7,1626.0 440.3,1632.8 436.9,1636.8C433.4,1640.8 426.9,1643.8 421.2,1644.7C415.5,1645.5 409.9,1643.8 402.9,1642.1C396.0,1640.3 386.0,1637.7 379.4,1634.2C372.9,1630.7 367.2,1628.2 363.8,1621.2C360.3,1614.1 358.1,1599.8 358.5,1591.9Z" fill="#e0ff10"/></g>
<g filter="url(#b3)"><path d="M130.1,1589.8C130.4,1584.6 135.1,1580.1 139.2,1576.8C143.4,1573.5 148.8,1570.4 154.9,1570.0C161.0,1569.6 169.7,1571.7 175.8,1574.2C181.9,1576.6 188.3,1580.8 191.4,1584.6C194.6,1588.5 195.8,1593.7 194.6,1597.2C193.4,1600.6 187.6,1603.2 184.1,1605.5C180.6,1607.8 175.9,1606.9 173.7,1610.7C171.4,1614.6 172.3,1625.0 170.5,1628.5C168.8,1632.0 166.2,1633.3 163.2,1631.6C160.3,1630.0 157.1,1622.5 152.8,1618.6C148.4,1614.6 140.9,1612.9 137.1,1608.1C133.3,1603.3 129.7,1595.1 130.1,1589.8Z" fill="#ffa800"/><path d="M369.0,1591.9C368.5,1586.3 371.2,1580.6 374.2,1576.8C377.2,1573.0 382.0,1569.4 387.3,1569.0C392.5,1568.5 400.7,1571.1 405.5,1574.2C410.3,1577.2 413.8,1582.5 416.0,1587.2C418.2,1591.9 419.0,1598.1 418.6,1602.4C418.2,1606.6 416.2,1610.6 413.4,1612.8C410.5,1615.1 404.1,1614.1 401.6,1616.0C399.1,1617.8 400.6,1622.9 398.2,1623.8C395.8,1624.7 390.8,1623.4 387.3,1621.2C383.7,1619.0 379.9,1615.6 376.8,1610.7C373.8,1605.9 369.4,1597.6 369.0,1591.9Z" fill="#ffa800"/></g>
<g filter="url(#b2)"><path d="M144.4,1592.5C145.3,1589.1 149.2,1582.1 152.3,1579.4C155.3,1576.7 157.9,1575.4 162.7,1576.3C167.5,1577.1 177.2,1582.0 181.0,1584.6C184.7,1587.2 186.9,1589.8 185.2,1591.9C183.4,1594.1 175.6,1595.8 170.5,1597.7C165.5,1599.5 158.8,1602.6 154.9,1602.9C151.0,1603.2 148.8,1601.5 147.0,1599.8C145.3,1598.0 143.6,1595.8 144.4,1592.5Z" fill="#ff2000"/><path d="M379.4,1587.2C379.4,1584.4 383.8,1580.3 387.3,1579.4C390.7,1578.5 397.3,1580.3 400.3,1582.0C403.4,1583.8 405.5,1587.7 405.5,1589.8C405.5,1592.0 403.4,1594.0 400.3,1595.1C397.3,1596.1 390.7,1597.4 387.3,1596.1C383.8,1594.8 379.4,1590.0 379.4,1587.2Z" fill="#ff2800"/></g>
<path d="M64.8,1598.5C65.7,1594.5 70.2,1594.7 73.9,1591.9C77.6,1589.2 81.8,1583.2 87.0,1582.0C92.2,1580.8 100.1,1586.2 105.3,1584.6C110.5,1583.0 111.8,1576.7 118.3,1572.3C124.9,1568.0 134.9,1560.8 144.4,1558.5C154.0,1556.2 167.1,1559.8 175.8,1558.5C184.5,1557.2 191.0,1552.2 196.7,1550.7C202.3,1549.1 204.5,1547.8 209.7,1549.1C214.9,1550.4 221.5,1555.6 228.0,1558.5C234.5,1561.4 242.8,1565.5 248.9,1566.3C255.0,1567.2 258.5,1562.9 264.5,1563.7C270.6,1564.6 279.3,1570.5 285.4,1571.6C291.5,1572.6 295.0,1569.6 301.1,1570.0C307.2,1570.4 316.3,1575.2 322.0,1574.2C327.6,1573.1 331.6,1567.2 335.0,1563.7C338.5,1560.3 339.8,1553.3 342.9,1553.3C345.9,1553.3 349.0,1563.3 353.3,1563.7C357.7,1564.2 363.8,1558.3 369.0,1555.9C374.2,1553.5 378.6,1549.6 384.6,1549.1C390.7,1548.6 398.6,1551.2 405.5,1552.8C412.5,1554.3 420.3,1554.6 426.4,1558.5C432.5,1562.4 436.9,1571.0 442.1,1576.3C447.3,1581.5 453.0,1589.0 457.8,1589.8C462.5,1590.7 467.7,1584.7 470.8,1581.5C473.9,1578.3 474.7,1569.7 476.6,1570.5C478.4,1571.4 481.4,1581.0 481.8,1586.7C482.1,1592.5 481.8,1599.3 478.6,1605.0C475.5,1610.6 468.2,1614.6 463.0,1620.7C457.8,1626.7 452.5,1635.8 447.3,1641.5C442.1,1647.3 436.4,1652.4 431.6,1655.1C426.9,1657.8 423.8,1658.6 418.6,1657.7C413.4,1656.9 407.7,1652.5 400.3,1649.9C392.9,1647.3 382.0,1645.1 374.2,1642.1C366.4,1639.0 361.1,1633.4 353.3,1631.6C345.5,1629.9 332.0,1634.3 327.2,1631.6C322.4,1628.9 325.9,1620.7 324.6,1615.4C323.3,1610.2 322.0,1604.1 319.4,1600.3C316.8,1596.5 312.4,1593.0 308.9,1592.5C305.4,1591.9 302.0,1596.7 298.5,1597.2C295.0,1597.6 292.0,1596.3 288.0,1595.1C284.1,1593.8 280.2,1589.4 275.0,1589.8C269.8,1590.3 260.8,1594.9 256.7,1597.7C252.6,1600.4 251.5,1601.6 250.2,1606.3C248.9,1611.0 250.8,1620.3 248.9,1625.9C246.9,1631.4 242.8,1637.2 238.4,1639.5C234.1,1641.7 228.9,1640.8 222.8,1639.5C216.7,1638.1 207.1,1632.1 201.9,1631.6C196.7,1631.2 194.0,1633.4 191.4,1636.8C188.8,1640.3 188.0,1647.7 186.2,1652.5C184.5,1657.3 183.6,1663.0 181.0,1665.6C178.4,1668.2 174.9,1669.5 170.5,1668.2C166.2,1666.9 160.1,1661.6 154.9,1657.7C149.7,1653.8 145.3,1649.5 139.2,1644.7C133.1,1639.9 122.7,1632.9 118.3,1629.0C114.0,1625.1 117.5,1622.9 113.1,1621.2C108.8,1619.4 97.9,1617.8 92.2,1618.6C86.6,1619.3 83.1,1626.4 79.2,1625.9C75.2,1625.4 71.1,1620.0 68.7,1615.4C66.3,1610.9 63.9,1602.4 64.8,1598.5Z" fill="none" stroke="#0c4a12" stroke-width="1.8"/>
<path d="M123.6,1586.7C124.8,1581.1 129.6,1575.2 134.0,1571.6C138.3,1567.9 143.6,1565.6 149.7,1564.8C155.8,1563.9 164.5,1565.2 170.5,1566.3C176.6,1567.5 181.0,1571.8 186.2,1571.6C191.4,1571.3 197.4,1566.2 201.9,1564.8C206.3,1563.4 211.5,1562.1 212.8,1563.2C214.2,1564.3 212.0,1568.4 210.2,1571.6C208.5,1574.7 204.6,1577.3 202.4,1582.0C200.2,1586.7 199.8,1595.0 197.2,1599.8C194.6,1604.6 189.8,1607.2 186.7,1610.7C183.7,1614.3 179.9,1616.8 178.9,1621.2C177.9,1625.5 181.5,1631.6 181.0,1636.8C180.5,1642.1 178.3,1650.3 175.8,1652.5C173.2,1654.7 169.2,1652.9 165.8,1649.9C162.5,1646.8 159.8,1639.0 155.4,1634.2C151.1,1629.4 144.5,1626.0 139.7,1621.2C135.0,1616.4 129.4,1611.3 126.7,1605.5C124.0,1599.8 122.3,1592.4 123.6,1586.7Z" fill="none" stroke="#0c4a12" stroke-width="1.8"/>
<path d="M130.1,1589.8C130.4,1584.6 135.1,1580.1 139.2,1576.8C143.4,1573.5 148.8,1570.4 154.9,1570.0C161.0,1569.6 169.7,1571.7 175.8,1574.2C181.9,1576.6 188.3,1580.8 191.4,1584.6C194.6,1588.5 195.8,1593.7 194.6,1597.2C193.4,1600.6 187.6,1603.2 184.1,1605.5C180.6,1607.8 175.9,1606.9 173.7,1610.7C171.4,1614.6 172.3,1625.0 170.5,1628.5C168.8,1632.0 166.2,1633.3 163.2,1631.6C160.3,1630.0 157.1,1622.5 152.8,1618.6C148.4,1614.6 140.9,1612.9 137.1,1608.1C133.3,1603.3 129.7,1595.1 130.1,1589.8Z" fill="none" stroke="#0c4a12" stroke-width="1.8"/>
<path d="M144.4,1592.5C145.3,1589.1 149.2,1582.1 152.3,1579.4C155.3,1576.7 157.9,1575.4 162.7,1576.3C167.5,1577.1 177.2,1582.0 181.0,1584.6C184.7,1587.2 186.9,1589.8 185.2,1591.9C183.4,1594.1 175.6,1595.8 170.5,1597.7C165.5,1599.5 158.8,1602.6 154.9,1602.9C151.0,1603.2 148.8,1601.5 147.0,1599.8C145.3,1598.0 143.6,1595.8 144.4,1592.5Z" fill="none" stroke="#0c4a12" stroke-width="1.8"/>
<path d="M358.5,1591.9C359.0,1584.1 362.5,1578.9 366.4,1574.2C370.3,1569.5 376.4,1565.3 382.0,1563.7C387.7,1562.2 394.7,1563.5 400.3,1564.8C406.0,1566.1 411.2,1567.8 416.0,1571.6C420.8,1575.3 425.1,1581.7 429.0,1587.2C433.0,1592.8 437.3,1599.4 439.5,1605.0C441.7,1610.6 442.5,1615.3 442.1,1620.7C441.7,1626.0 440.3,1632.8 436.9,1636.8C433.4,1640.8 426.9,1643.8 421.2,1644.7C415.5,1645.5 409.9,1643.8 402.9,1642.1C396.0,1640.3 386.0,1637.7 379.4,1634.2C372.9,1630.7 367.2,1628.2 363.8,1621.2C360.3,1614.1 358.1,1599.8 358.5,1591.9Z" fill="none" stroke="#0c4a12" stroke-width="1.8"/>
<path d="M369.0,1591.9C368.5,1586.3 371.2,1580.6 374.2,1576.8C377.2,1573.0 382.0,1569.4 387.3,1569.0C392.5,1568.5 400.7,1571.1 405.5,1574.2C410.3,1577.2 413.8,1582.5 416.0,1587.2C418.2,1591.9 419.0,1598.1 418.6,1602.4C418.2,1606.6 416.2,1610.6 413.4,1612.8C410.5,1615.1 404.1,1614.1 401.6,1616.0C399.1,1617.8 400.6,1622.9 398.2,1623.8C395.8,1624.7 390.8,1623.4 387.3,1621.2C383.7,1619.0 379.9,1615.6 376.8,1610.7C373.8,1605.9 369.4,1597.6 369.0,1591.9Z" fill="none" stroke="#0c4a12" stroke-width="1.8"/>
<path d="M379.4,1587.2C379.4,1584.4 383.8,1580.3 387.3,1579.4C390.7,1578.5 397.3,1580.3 400.3,1582.0C403.4,1583.8 405.5,1587.7 405.5,1589.8C405.5,1592.0 403.4,1594.0 400.3,1595.1C397.3,1596.1 390.7,1597.4 387.3,1596.1C383.8,1594.8 379.4,1590.0 379.4,1587.2Z" fill="none" stroke="#0c4a12" stroke-width="1.8"/>
<path d="M422.4,1621.9C423.2,1623.0 423.6,1624.8 423.3,1626.3C423.0,1627.8 422.1,1629.7 420.9,1631.1C419.7,1632.4 417.7,1633.7 416.1,1634.4C414.4,1635.0 412.3,1635.2 410.7,1634.9C409.2,1634.6 407.7,1633.6 406.9,1632.5C406.1,1631.3 405.8,1629.6 406.1,1628.1C406.3,1626.5 407.3,1624.6 408.5,1623.3C409.7,1621.9 411.6,1620.6 413.3,1620.0C415.0,1619.4 417.1,1619.2 418.6,1619.5C420.1,1619.8 421.7,1620.7 422.4,1621.9Z" fill="none" stroke="#0c4a12" stroke-width="1.8"/>
</g>
<line x1="287.5" y1="1381.5" x2="287.5" y2="1825.5" stroke="#050540" stroke-width="1.8"/>
<line x1="65.5" y1="1602" x2="509.5" y2="1602" stroke="#0a3a10" stroke-width="1.8"/>
<circle cx="287.5" cy="1603.5" r="222" fill="none" stroke="#1a2a9a" stroke-width="1.5"/>
<g clip-path="url(#pf2clip)">
<circle cx="796" cy="1603.5" r="222" fill="#0024f0"/>
<circle cx="796" cy="1603.5" r="214" fill="none" stroke="#0858c8" stroke-width="26" opacity="0.7" filter="url(#b6)"/>
<circle cx="806" cy="1593.5" r="85" fill="#0004fa" opacity="0.9" filter="url(#b14)"/>
<circle cx="665.3" cy="1474.4" r="22.8" fill="#10b868" opacity="0.8" filter="url(#b9)"/>
<circle cx="701.9" cy="1466.6" r="22.8" fill="#10b868" opacity="0.8" filter="url(#b9)"/>
<circle cx="743.7" cy="1460.1" r="22.8" fill="#10b868" opacity="0.8" filter="url(#b9)"/>
<circle cx="660.1" cy="1508.4" r="19.6" fill="#10b868" opacity="0.8" filter="url(#b9)"/>
<circle cx="644.4" cy="1539.7" r="19.6" fill="#10b868" opacity="0.8" filter="url(#b9)"/>
<circle cx="681.0" cy="1584.1" r="18.0" fill="#10b868" opacity="0.8" filter="url(#b9)"/>
<circle cx="686.2" cy="1683.3" r="18.0" fill="#10b868" opacity="0.8" filter="url(#b9)"/>
<circle cx="675.8" cy="1652.0" r="18.0" fill="#10b868" opacity="0.8" filter="url(#b9)"/>
<circle cx="691.4" cy="1730.3" r="19.6" fill="#10b868" opacity="0.8" filter="url(#b9)"/>
<circle cx="722.8" cy="1753.8" r="19.6" fill="#10b868" opacity="0.8" filter="url(#b9)"/>
<circle cx="754.1" cy="1761.6" r="19.6" fill="#10b868" opacity="0.8" filter="url(#b9)"/>
<circle cx="892.5" cy="1461.4" r="19.6" fill="#10b868" opacity="0.8" filter="url(#b9)"/>
<circle cx="931.6" cy="1460.1" r="19.6" fill="#10b868" opacity="0.8" filter="url(#b9)"/>
<circle cx="963.0" cy="1495.3" r="18.0" fill="#10b868" opacity="0.8" filter="url(#b9)"/>
<circle cx="895.1" cy="1631.1" r="16.3" fill="#10b868" opacity="0.8" filter="url(#b9)"/>
<circle cx="942.1" cy="1642.8" r="16.3" fill="#10b868" opacity="0.8" filter="url(#b9)"/>
<circle cx="989.1" cy="1578.9" r="16.3" fill="#10b868" opacity="0.8" filter="url(#b9)"/>
<circle cx="905.5" cy="1670.3" r="16.3" fill="#10b868" opacity="0.8" filter="url(#b9)"/>
<circle cx="840.3" cy="1615.4" r="13.1" fill="#10b868" opacity="0.8" filter="url(#b9)"/>
<circle cx="618.3" cy="1578.9" r="19.6" fill="#10b868" opacity="0.8" filter="url(#b9)"/>
<circle cx="626.2" cy="1670.3" r="19.6" fill="#10b868" opacity="0.8" filter="url(#b9)"/>
<circle cx="970.8" cy="1683.3" r="19.6" fill="#10b868" opacity="0.8" filter="url(#b9)"/>
<circle cx="866.4" cy="1787.8" r="26.1" fill="#10b868" opacity="0.8" filter="url(#b9)"/>
<circle cx="892.5" cy="1800.8" r="22.8" fill="#10b868" opacity="0.8" filter="url(#b9)"/>
<circle cx="931.6" cy="1761.6" r="22.8" fill="#10b868" opacity="0.8" filter="url(#b9)"/>
<circle cx="879.4" cy="1435.3" r="19.6" fill="#10b868" opacity="0.8" filter="url(#b9)"/>
<circle cx="709.7" cy="1435.3" r="19.6" fill="#10b868" opacity="0.8" filter="url(#b9)"/>
<circle cx="963.0" cy="1539.7" r="16.3" fill="#10b868" opacity="0.8" filter="url(#b9)"/>
<g filter="url(#b6)" opacity="0.8"><path d="M738.4,1399.2C741.0,1394.1 740.2,1389.5 746.3,1386.2C752.4,1382.8 765.8,1380.5 775.0,1379.1C784.1,1377.7 790.2,1377.2 801.1,1377.8C812.0,1378.5 828.5,1379.2 840.3,1383.1C852.0,1386.9 865.7,1393.8 871.6,1400.8C877.5,1407.8 879.7,1418.1 875.8,1424.8C871.9,1431.5 857.1,1437.0 848.1,1441.0C839.1,1445.0 830.7,1448.4 822.0,1448.9C813.3,1449.3 803.7,1446.7 795.9,1443.6C788.0,1440.6 782.8,1433.4 775.0,1430.6C767.2,1427.7 758.0,1426.8 748.9,1426.4C739.7,1426.0 723.2,1429.5 720.2,1428.0C717.1,1426.4 727.6,1421.8 730.6,1417.0C733.6,1412.2 735.8,1404.4 738.4,1399.2Z" fill="#10a870" stroke="#10a070" stroke-width="14"/></g>
<g filter="url(#b6)" opacity="0.8"><path d="M884.6,1579.4C886.4,1576.4 892.5,1573.6 897.7,1571.6C902.9,1569.6 910.8,1569.0 916.0,1567.4C921.2,1565.8 924.9,1562.2 929.0,1562.2C933.2,1562.2 939.7,1565.0 941.0,1567.4C942.3,1569.8 939.7,1574.4 936.9,1576.8C934.0,1579.2 927.7,1579.4 923.8,1582.0C919.9,1584.6 917.7,1590.3 913.4,1592.5C909.0,1594.6 902.1,1595.5 897.7,1595.1C893.4,1594.6 889.4,1592.5 887.3,1589.8C885.1,1587.2 882.9,1582.4 884.6,1579.4Z" fill="#10a870" stroke="#10a070" stroke-width="14"/></g>
<g filter="url(#b6)" opacity="0.8"><path d="M866.4,1743.9C867.2,1738.8 872.5,1734.1 876.8,1731.9C881.2,1729.6 886.8,1729.3 892.5,1730.3C898.1,1731.4 906.3,1735.4 910.8,1738.1C915.2,1740.8 919.5,1742.9 919.1,1746.5C918.7,1750.1 913.5,1756.1 908.1,1759.6C902.8,1763.0 893.4,1767.0 887.3,1767.4C881.2,1767.8 875.1,1766.1 871.6,1762.2C868.1,1758.3 865.5,1748.9 866.4,1743.9Z" fill="#10a870" stroke="#10a070" stroke-width="14"/></g>
<g filter="url(#b6)" opacity="0.8"><path d="M696.7,1783.8C698.0,1780.6 702.8,1779.5 707.1,1778.9C711.5,1778.2 717.5,1778.4 722.8,1779.9C728.0,1781.4 732.8,1786.2 738.4,1787.8C744.1,1789.3 750.6,1790.1 756.7,1789.3C762.8,1788.5 768.5,1785.8 775.0,1783.1C781.5,1780.3 789.3,1775.7 795.9,1772.6C802.4,1769.6 808.1,1765.9 814.2,1764.8C820.2,1763.6 826.3,1764.3 832.4,1765.8C838.5,1767.3 847.8,1770.0 850.7,1773.7C853.6,1777.3 851.8,1782.8 849.7,1787.8C847.5,1792.7 839.2,1798.1 837.7,1803.4C836.1,1808.7 842.0,1814.4 840.3,1819.6C838.5,1824.8 834.6,1831.8 827.2,1834.8C819.8,1837.7 808.9,1838.2 795.9,1837.4C782.8,1836.5 762.8,1833.9 748.9,1829.5C735.0,1825.2 720.6,1816.5 712.3,1811.3C704.1,1806.0 701.9,1802.8 699.3,1798.2C696.7,1793.6 695.4,1787.1 696.7,1783.8Z" fill="#10a870" stroke="#10a070" stroke-width="14"/></g>
<g filter="url(#b3)"><path d="M738.4,1399.2C741.0,1394.1 740.2,1389.5 746.3,1386.2C752.4,1382.8 765.8,1380.5 775.0,1379.1C784.1,1377.7 790.2,1377.2 801.1,1377.8C812.0,1378.5 828.5,1379.2 840.3,1383.1C852.0,1386.9 865.7,1393.8 871.6,1400.8C877.5,1407.8 879.7,1418.1 875.8,1424.8C871.9,1431.5 857.1,1437.0 848.1,1441.0C839.1,1445.0 830.7,1448.4 822.0,1448.9C813.3,1449.3 803.7,1446.7 795.9,1443.6C788.0,1440.6 782.8,1433.4 775.0,1430.6C767.2,1427.7 758.0,1426.8 748.9,1426.4C739.7,1426.0 723.2,1429.5 720.2,1428.0C717.1,1426.4 727.6,1421.8 730.6,1417.0C733.6,1412.2 735.8,1404.4 738.4,1399.2Z" fill="#12ec18"/></g>
<g filter="url(#b3)"><path d="M884.6,1579.4C886.4,1576.4 892.5,1573.6 897.7,1571.6C902.9,1569.6 910.8,1569.0 916.0,1567.4C921.2,1565.8 924.9,1562.2 929.0,1562.2C933.2,1562.2 939.7,1565.0 941.0,1567.4C942.3,1569.8 939.7,1574.4 936.9,1576.8C934.0,1579.2 927.7,1579.4 923.8,1582.0C919.9,1584.6 917.7,1590.3 913.4,1592.5C909.0,1594.6 902.1,1595.5 897.7,1595.1C893.4,1594.6 889.4,1592.5 887.3,1589.8C885.1,1587.2 882.9,1582.4 884.6,1579.4Z" fill="#12ec18"/></g>
<g filter="url(#b3)"><path d="M866.4,1743.9C867.2,1738.8 872.5,1734.1 876.8,1731.9C881.2,1729.6 886.8,1729.3 892.5,1730.3C898.1,1731.4 906.3,1735.4 910.8,1738.1C915.2,1740.8 919.5,1742.9 919.1,1746.5C918.7,1750.1 913.5,1756.1 908.1,1759.6C902.8,1763.0 893.4,1767.0 887.3,1767.4C881.2,1767.8 875.1,1766.1 871.6,1762.2C868.1,1758.3 865.5,1748.9 866.4,1743.9Z" fill="#12ec18"/></g>
<g filter="url(#b3)"><path d="M696.7,1783.8C698.0,1780.6 702.8,1779.5 707.1,1778.9C711.5,1778.2 717.5,1778.4 722.8,1779.9C728.0,1781.4 732.8,1786.2 738.4,1787.8C744.1,1789.3 750.6,1790.1 756.7,1789.3C762.8,1788.5 768.5,1785.8 775.0,1783.1C781.5,1780.3 789.3,1775.7 795.9,1772.6C802.4,1769.6 808.1,1765.9 814.2,1764.8C820.2,1763.6 826.3,1764.3 832.4,1765.8C838.5,1767.3 847.8,1770.0 850.7,1773.7C853.6,1777.3 851.8,1782.8 849.7,1787.8C847.5,1792.7 839.2,1798.1 837.7,1803.4C836.1,1808.7 842.0,1814.4 840.3,1819.6C838.5,1824.8 834.6,1831.8 827.2,1834.8C819.8,1837.7 808.9,1838.2 795.9,1837.4C782.8,1836.5 762.8,1833.9 748.9,1829.5C735.0,1825.2 720.6,1816.5 712.3,1811.3C704.1,1806.0 701.9,1802.8 699.3,1798.2C696.7,1793.6 695.4,1787.1 696.7,1783.8Z" fill="#12ec18"/></g>
<g filter="url(#b2)"><path d="M827.7,1785.1C827.7,1786.7 826.9,1788.5 825.6,1789.7C824.4,1791.0 822.2,1792.1 820.2,1792.6C818.1,1793.1 815.4,1793.1 813.4,1792.6C811.3,1792.1 809.2,1791.0 807.9,1789.7C806.6,1788.5 805.8,1786.7 805.8,1785.1C805.8,1783.6 806.6,1781.8 807.9,1780.5C809.2,1779.3 811.3,1778.2 813.4,1777.7C815.4,1777.2 818.1,1777.2 820.2,1777.7C822.2,1778.2 824.4,1779.3 825.6,1780.5C826.9,1781.8 827.7,1783.6 827.7,1785.1Z" fill="#a0ff20"/></g>
<path d="M738.4,1399.2C741.0,1394.1 740.2,1389.5 746.3,1386.2C752.4,1382.8 765.8,1380.5 775.0,1379.1C784.1,1377.7 790.2,1377.2 801.1,1377.8C812.0,1378.5 828.5,1379.2 840.3,1383.1C852.0,1386.9 865.7,1393.8 871.6,1400.8C877.5,1407.8 879.7,1418.1 875.8,1424.8C871.9,1431.5 857.1,1437.0 848.1,1441.0C839.1,1445.0 830.7,1448.4 822.0,1448.9C813.3,1449.3 803.7,1446.7 795.9,1443.6C788.0,1440.6 782.8,1433.4 775.0,1430.6C767.2,1427.7 758.0,1426.8 748.9,1426.4C739.7,1426.0 723.2,1429.5 720.2,1428.0C717.1,1426.4 727.6,1421.8 730.6,1417.0C733.6,1412.2 735.8,1404.4 738.4,1399.2Z" fill="none" stroke="#0c4a12" stroke-width="1.8"/>
<path d="M884.6,1579.4C886.4,1576.4 892.5,1573.6 897.7,1571.6C902.9,1569.6 910.8,1569.0 916.0,1567.4C921.2,1565.8 924.9,1562.2 929.0,1562.2C933.2,1562.2 939.7,1565.0 941.0,1567.4C942.3,1569.8 939.7,1574.4 936.9,1576.8C934.0,1579.2 927.7,1579.4 923.8,1582.0C919.9,1584.6 917.7,1590.3 913.4,1592.5C909.0,1594.6 902.1,1595.5 897.7,1595.1C893.4,1594.6 889.4,1592.5 887.3,1589.8C885.1,1587.2 882.9,1582.4 884.6,1579.4Z" fill="none" stroke="#0c4a12" stroke-width="1.8"/>
<path d="M866.4,1743.9C867.2,1738.8 872.5,1734.1 876.8,1731.9C881.2,1729.6 886.8,1729.3 892.5,1730.3C898.1,1731.4 906.3,1735.4 910.8,1738.1C915.2,1740.8 919.5,1742.9 919.1,1746.5C918.7,1750.1 913.5,1756.1 908.1,1759.6C902.8,1763.0 893.4,1767.0 887.3,1767.4C881.2,1767.8 875.1,1766.1 871.6,1762.2C868.1,1758.3 865.5,1748.9 866.4,1743.9Z" fill="none" stroke="#0c4a12" stroke-width="1.8"/>
<path d="M696.7,1783.8C698.0,1780.6 702.8,1779.5 707.1,1778.9C711.5,1778.2 717.5,1778.4 722.8,1779.9C728.0,1781.4 732.8,1786.2 738.4,1787.8C744.1,1789.3 750.6,1790.1 756.7,1789.3C762.8,1788.5 768.5,1785.8 775.0,1783.1C781.5,1780.3 789.3,1775.7 795.9,1772.6C802.4,1769.6 808.1,1765.9 814.2,1764.8C820.2,1763.6 826.3,1764.3 832.4,1765.8C838.5,1767.3 847.8,1770.0 850.7,1773.7C853.6,1777.3 851.8,1782.8 849.7,1787.8C847.5,1792.7 839.2,1798.1 837.7,1803.4C836.1,1808.7 842.0,1814.4 840.3,1819.6C838.5,1824.8 834.6,1831.8 827.2,1834.8C819.8,1837.7 808.9,1838.2 795.9,1837.4C782.8,1836.5 762.8,1833.9 748.9,1829.5C735.0,1825.2 720.6,1816.5 712.3,1811.3C704.1,1806.0 701.9,1802.8 699.3,1798.2C696.7,1793.6 695.4,1787.1 696.7,1783.8Z" fill="none" stroke="#0c4a12" stroke-width="1.8"/>
<path d="M690.4,1642.3C690.4,1643.4 689.7,1644.8 688.6,1645.7C687.5,1646.6 685.6,1647.4 683.9,1647.8C682.1,1648.1 679.8,1648.1 678.1,1647.8C676.3,1647.4 674.5,1646.6 673.4,1645.7C672.3,1644.8 671.6,1643.4 671.6,1642.3C671.6,1641.2 672.3,1639.9 673.4,1638.9C674.5,1638.0 676.3,1637.2 678.1,1636.9C679.8,1636.5 682.1,1636.5 683.9,1636.9C685.6,1637.2 687.5,1638.0 688.6,1638.9C689.7,1639.9 690.4,1641.2 690.4,1642.3Z" fill="none" stroke="#0c4a12" stroke-width="1.8"/>
<path d="M827.7,1785.1C827.7,1786.7 826.9,1788.5 825.6,1789.7C824.4,1791.0 822.2,1792.1 820.2,1792.6C818.1,1793.1 815.4,1793.1 813.4,1792.6C811.3,1792.1 809.2,1791.0 807.9,1789.7C806.6,1788.5 805.8,1786.7 805.8,1785.1C805.8,1783.6 806.6,1781.8 807.9,1780.5C809.2,1779.3 811.3,1778.2 813.4,1777.7C815.4,1777.2 818.1,1777.2 820.2,1777.7C822.2,1778.2 824.4,1779.3 825.6,1780.5C826.9,1781.8 827.7,1783.6 827.7,1785.1Z" fill="none" stroke="#0c4a12" stroke-width="1.8"/>
</g>
<line x1="796" y1="1381.5" x2="796" y2="1825.5" stroke="#050530" stroke-width="1.8"/>
<line x1="574" y1="1602" x2="1018" y2="1602" stroke="#050530" stroke-width="1.8"/>
<circle cx="796" cy="1603.5" r="222" fill="none" stroke="#1a2a9a" stroke-width="1.5"/>
<text x="49" y="1278" font-size="52" text-anchor="start" >(c)</text>
<text x="41" y="1388" font-size="50.5" text-anchor="start" >{0002}</text>
<text x="256" y="1370" font-size="52" text-anchor="start" >RD</text>
<text x="542" y="1388" font-size="50.5" text-anchor="start" >{1010}</text>
<text transform="translate(554.5,1601.5) rotate(-90)" font-size="52" text-anchor="middle">TD</text>
<text x="451" y="1840" font-size="52" text-anchor="start" >Max=6.3</text>
<rect x="1077" y="1646.2" width="52.3" height="176.3" fill="url(#cbar)"/>
<line x1="1077" y1="1685.2" x2="1129.3" y2="1685.2" stroke="#1a3a10" stroke-opacity="0.85" stroke-width="2.2"/>
<line x1="1077" y1="1721.6" x2="1129.3" y2="1721.6" stroke="#1a3a10" stroke-opacity="0.85" stroke-width="2.2"/>
<line x1="1077" y1="1761.8" x2="1129.3" y2="1761.8" stroke="#1a3a10" stroke-opacity="0.85" stroke-width="2.2"/>
<line x1="1077" y1="1802.1" x2="1129.3" y2="1802.1" stroke="#1a3a10" stroke-opacity="0.85" stroke-width="2.2"/>
<rect x="1077.6" y="1646.8" width="51.1" height="175.1" fill="none" stroke="#202080" stroke-opacity="0.5" stroke-width="1.4"/>
<text x="1074.5" y="1697.3" font-size="53" text-anchor="end" >2</text>
<text x="1074.5" y="1733.7" font-size="53" text-anchor="end" >4</text>
<text x="1074.5" y="1774.6" font-size="53" text-anchor="end" >6</text>
<text x="1074.5" y="1816.1" font-size="53" text-anchor="end" >8</text>
<rect x="1426.9" y="1785.9" width="14.7" height="67.6" fill="#ff0000" stroke="#5e1616" stroke-width="2.4"/>
<rect x="1445.2" y="1758.0" width="14.7" height="95.5" fill="#ff0000" stroke="#5e1616" stroke-width="2.4"/>
<rect x="1463.6" y="1749.6" width="14.7" height="103.9" fill="#ff0000" stroke="#5e1616" stroke-width="2.4"/>
<rect x="1481.9" y="1713.3" width="14.7" height="140.2" fill="#ff0000" stroke="#5e1616" stroke-width="2.4"/>
<rect x="1500.3" y="1731.3" width="14.7" height="122.2" fill="#ff0000" stroke="#5e1616" stroke-width="2.4"/>
<rect x="1518.7" y="1722.5" width="14.7" height="131.0" fill="#ff0000" stroke="#5e1616" stroke-width="2.4"/>
<rect x="1537.0" y="1704.6" width="14.7" height="148.9" fill="#ff0000" stroke="#5e1616" stroke-width="2.4"/>
<rect x="1555.4" y="1740.4" width="14.7" height="113.1" fill="#ff0000" stroke="#5e1616" stroke-width="2.4"/>
<rect x="1573.7" y="1740.4" width="14.7" height="113.1" fill="#ff0000" stroke="#5e1616" stroke-width="2.4"/>
<rect x="1592.1" y="1749.2" width="14.7" height="104.3" fill="#ff0000" stroke="#5e1616" stroke-width="2.4"/>
<rect x="1610.5" y="1722.5" width="14.7" height="131.0" fill="#ff0000" stroke="#5e1616" stroke-width="2.4"/>
<rect x="1628.8" y="1749.2" width="14.7" height="104.3" fill="#ff0000" stroke="#5e1616" stroke-width="2.4"/>
<rect x="1647.2" y="1758.0" width="14.7" height="95.5" fill="#ff0000" stroke="#5e1616" stroke-width="2.4"/>
<rect x="1665.5" y="1767.1" width="14.7" height="86.4" fill="#ff0000" stroke="#5e1616" stroke-width="2.4"/>
<rect x="1683.9" y="1767.1" width="14.7" height="86.4" fill="#ff0000" stroke="#5e1616" stroke-width="2.4"/>
<rect x="1702.3" y="1749.2" width="14.7" height="104.3" fill="#ff0000" stroke="#5e1616" stroke-width="2.4"/>
<rect x="1720.6" y="1758.0" width="14.7" height="95.5" fill="#ff0000" stroke="#5e1616" stroke-width="2.4"/>
<rect x="1739.0" y="1767.1" width="14.7" height="86.4" fill="#ff0000" stroke="#5e1616" stroke-width="2.4"/>
<rect x="1757.3" y="1776.3" width="14.7" height="77.2" fill="#ff0000" stroke="#5e1616" stroke-width="2.4"/>
<rect x="1775.7" y="1794.3" width="14.7" height="59.2" fill="#ff0000" stroke="#5e1616" stroke-width="2.4"/>
<rect x="1794.1" y="1749.2" width="14.7" height="104.3" fill="#ff0000" stroke="#5e1616" stroke-width="2.4"/>
<rect x="1812.4" y="1785.5" width="14.7" height="68.0" fill="#ff0000" stroke="#5e1616" stroke-width="2.4"/>
<rect x="1830.8" y="1767.1" width="14.7" height="86.4" fill="#ff0000" stroke="#5e1616" stroke-width="2.4"/>
<rect x="1849.1" y="1731.3" width="14.7" height="122.2" fill="#ff0000" stroke="#5e1616" stroke-width="2.4"/>
<rect x="1867.5" y="1794.3" width="14.7" height="59.2" fill="#ff0000" stroke="#5e1616" stroke-width="2.4"/>
<rect x="1885.9" y="1749.2" width="14.7" height="104.3" fill="#ff0000" stroke="#5e1616" stroke-width="2.4"/>
<rect x="1904.2" y="1811.8" width="14.7" height="41.7" fill="#ff0000" stroke="#5e1616" stroke-width="2.4"/>
<rect x="1922.6" y="1785.5" width="14.7" height="68.0" fill="#ff0000" stroke="#5e1616" stroke-width="2.4"/>
<rect x="1940.9" y="1749.2" width="14.7" height="104.3" fill="#ff0000" stroke="#5e1616" stroke-width="2.4"/>
<rect x="1959.3" y="1767.1" width="14.7" height="86.4" fill="#ff0000" stroke="#5e1616" stroke-width="2.4"/>
<rect x="1977.7" y="1767.1" width="14.7" height="86.4" fill="#ff0000" stroke="#5e1616" stroke-width="2.4"/>
<rect x="1996.0" y="1767.1" width="14.7" height="86.4" fill="#ff0000" stroke="#5e1616" stroke-width="2.4"/>
<rect x="2014.4" y="1767.1" width="14.7" height="86.4" fill="#ff0000" stroke="#5e1616" stroke-width="2.4"/>
<rect x="2032.7" y="1758.0" width="14.7" height="95.5" fill="#ff0000" stroke="#5e1616" stroke-width="2.4"/>
<rect x="2051.1" y="1731.3" width="14.7" height="122.2" fill="#ff0000" stroke="#5e1616" stroke-width="2.4"/>
<rect x="2069.5" y="1722.5" width="14.7" height="131.0" fill="#ff0000" stroke="#5e1616" stroke-width="2.4"/>
<rect x="2087.8" y="1767.1" width="14.7" height="86.4" fill="#ff0000" stroke="#5e1616" stroke-width="2.4"/>
<rect x="2106.2" y="1722.5" width="14.7" height="131.0" fill="#ff0000" stroke="#5e1616" stroke-width="2.4"/>
<rect x="2124.5" y="1803.0" width="14.7" height="50.5" fill="#ff0000" stroke="#5e1616" stroke-width="2.4"/>
<rect x="1296.5" y="1186.0" width="918.0" height="667.5" fill="none" stroke="#3a3a3a" stroke-width="3"/>
<line x1="1296.5" y1="1770.1" x2="1309.5" y2="1770.1" stroke="#3a3a3a" stroke-width="3"/>
<line x1="1296.5" y1="1686.6" x2="1309.5" y2="1686.6" stroke="#3a3a3a" stroke-width="3"/>
<line x1="1296.5" y1="1603.2" x2="1309.5" y2="1603.2" stroke="#3a3a3a" stroke-width="3"/>
<line x1="1296.5" y1="1519.8" x2="1309.5" y2="1519.8" stroke="#3a3a3a" stroke-width="3"/>
<line x1="1296.5" y1="1436.3" x2="1309.5" y2="1436.3" stroke="#3a3a3a" stroke-width="3"/>
<line x1="1296.5" y1="1352.9" x2="1309.5" y2="1352.9" stroke="#3a3a3a" stroke-width="3"/>
<line x1="1296.5" y1="1269.4" x2="1309.5" y2="1269.4" stroke="#3a3a3a" stroke-width="3"/>
<line x1="1480.1" y1="1853.5" x2="1480.1" y2="1841.5" stroke="#1a0000" stroke-width="3.5"/>
<line x1="1663.7" y1="1853.5" x2="1663.7" y2="1841.5" stroke="#1a0000" stroke-width="3.5"/>
<line x1="1847.3" y1="1853.5" x2="1847.3" y2="1841.5" stroke="#1a0000" stroke-width="3.5"/>
<line x1="2030.9" y1="1853.5" x2="2030.9" y2="1841.5" stroke="#1a0000" stroke-width="3.5"/>
<text x="1291" y="1888.5" font-size="54" text-anchor="end" >0</text>
<text x="1279" y="1787.5625" font-size="54" text-anchor="end" >2</text>
<text x="1279" y="1704.125" font-size="54" text-anchor="end" >4</text>
<text x="1279" y="1620.6875" font-size="54" text-anchor="end" >6</text>
<text x="1279" y="1537.25" font-size="54" text-anchor="end" >8</text>
<text x="1279" y="1453.8125" font-size="54" text-anchor="end" >10</text>
<text x="1279" y="1370.375" font-size="54" text-anchor="end" >12</text>
<text x="1279" y="1286.9375" font-size="54" text-anchor="end" >14</text>
<text x="1279" y="1203.5" font-size="54" text-anchor="end" >16</text>
<text x="1479.1" y="1908" font-size="54" text-anchor="middle" >20</text>
<text x="1662.7" y="1908" font-size="54" text-anchor="middle" >40</text>
<text x="1846.3" y="1908" font-size="54" text-anchor="middle" >60</text>
<text x="2029.9" y="1908" font-size="54" text-anchor="middle" >80</text>
<text x="2217.5" y="1908" font-size="54" text-anchor="middle" >100</text>
<text x="1756.5" y="1972" font-size="52" text-anchor="middle" >Misorientation angle/(°)</text>
<text transform="translate(1199.5,1494.5) rotate(-90)" font-size="54" text-anchor="middle">Frequency/%</text>
<text x="1330" y="1253.5" font-size="52" text-anchor="start" >(d)</text>
<text x="1304" y="1758" font-size="51" text-anchor="start" >LAGB</text>
<text x="1307" y="1832" font-size="51" text-anchor="start" >8.4%</text>
</svg>
</body></html>
